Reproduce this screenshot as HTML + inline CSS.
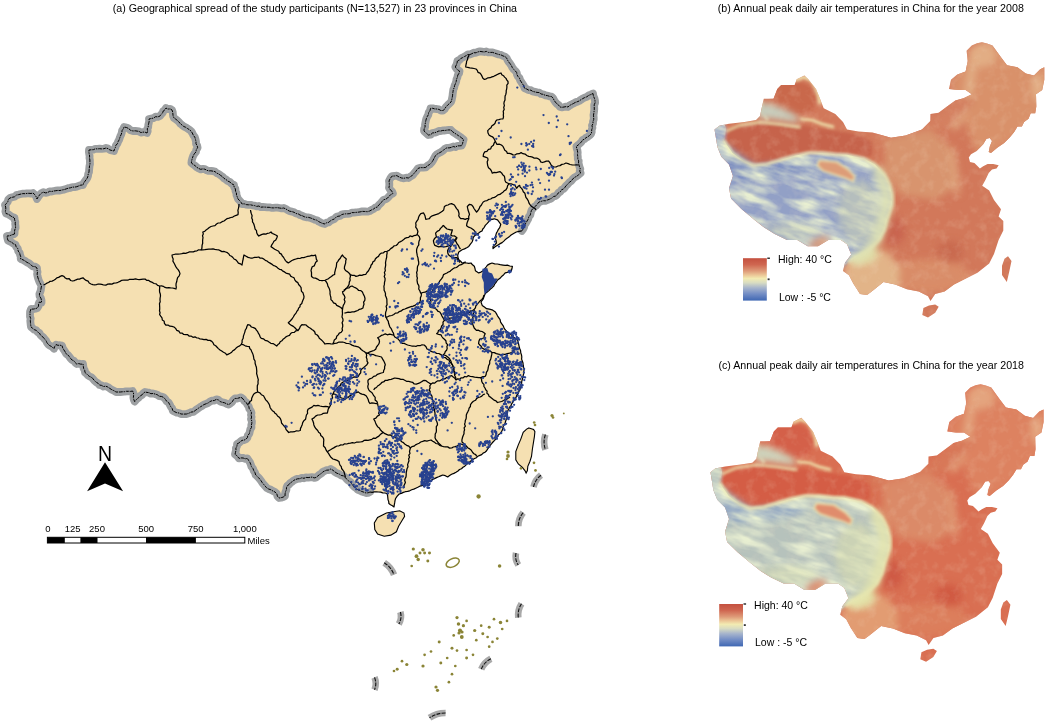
<!DOCTYPE html><html><head><meta charset="utf-8"><style>html,body{margin:0;padding:0;background:#fff;overflow:hidden}svg{display:block;will-change:transform}text{font-family:"Liberation Sans",Arial,sans-serif;fill:#000}</style></head><body>
<svg width="1047" height="724" viewBox="0 0 1047 724">
<defs>
<clipPath id="cb"><polygon points="714.5,129.6 719.3,125.7 729.0,123.8 744.5,121.9 756.0,120.0 760.0,116.0 762.0,106.4 763.8,98.7 773.5,98.7 777.3,89.0 781.2,85.1 794.7,85.1 796.7,79.3 804.4,75.5 808.3,79.3 816.0,89.0 820.0,98.7 823.7,108.3 835.3,114.0 843.0,121.9 847.0,129.6 858.5,131.5 872.4,132.5 891.0,137.7 905.6,135.6 922.0,129.4 930.4,121.0 930.4,113.9 938.7,112.8 947.0,106.6 955.3,100.4 963.5,98.3 971.8,94.2 965.6,90.0 957.3,90.0 949.0,89.0 951.0,79.7 957.3,74.5 965.6,71.4 967.7,61.0 966.6,50.7 971.8,45.5 977.0,43.2 982.0,42.2 987.0,43.5 992.5,45.5 1000.8,57.0 1007.0,65.2 1017.4,67.3 1025.7,73.5 1034.0,75.6 1040.2,69.3 1044.3,67.3 1044.3,79.7 1042.2,90.0 1036.0,94.2 1036.3,106.6 1035.2,113.3 1030.7,113.3 1028.5,118.8 1024.1,122.1 1021.9,126.5 1017.5,126.5 1014.2,132.0 1009.7,137.6 1004.2,143.1 997.6,147.5 991.0,153.0 988.7,152.0 989.8,146.4 992.0,140.9 989.8,138.1 986.5,138.7 983.2,144.2 976.6,150.9 971.0,154.2 968.8,157.5 970.0,161.9 974.4,163.0 977.7,166.3 979.9,168.5 983.2,166.3 987.6,164.1 993.2,164.1 998.7,165.2 996.5,168.5 992.0,169.6 988.7,173.0 985.4,180.0 982.2,185.8 989.2,190.5 994.0,200.0 1001.0,209.3 998.6,216.4 1003.3,221.0 1003.3,230.5 998.6,240.0 994.0,254.0 989.2,263.4 977.5,272.8 963.4,279.8 954.0,284.5 944.6,291.5 935.2,294.0 930.5,301.0 928.0,296.2 918.7,291.5 907.0,289.2 895.2,284.5 883.5,282.0 871.7,291.5 867.0,295.0 860.0,294.0 853.3,283.6 849.0,275.3 843.0,271.0 845.0,262.8 851.2,254.6 847.0,244.2 840.8,240.0 828.4,240.0 818.0,246.3 807.7,246.3 797.3,240.0 787.0,240.0 774.6,233.9 764.2,227.6 753.9,219.4 741.4,209.0 731.0,198.6 729.0,188.3 732.9,176.0 729.0,164.4 721.3,156.7 717.4,147.0 715.5,135.4"/><polygon points="923.4,308.0 929.0,305.5 935.2,304.5 938.7,306.8 935.2,312.7 928.0,317.4 922.3,315.0"/><polygon points="1008.0,256.3 1011.5,261.0 1009.0,272.8 1006.8,282.0 1002.0,275.0 1002.0,265.7 1004.5,258.7"/></clipPath>
<clipPath id="ctib"><polygon points="700.0,110.0 722.0,118.0 726.0,128.0 725.0,138.0 724.0,140.0 725.7,143.2 732.6,153.0 743.7,161.2 753.4,165.3 767.2,164.0 781.0,159.8 794.8,155.7 808.6,152.9 822.4,152.9 835.0,154.3 847.0,154.7 864.0,158.6 875.0,164.5 884.4,174.7 889.4,184.6 892.0,194.6 892.0,204.5 887.0,219.5 884.4,229.4 879.5,239.3 869.5,249.3 858.0,256.0 848.0,262.0 830.0,280.0 700.0,280.0"/></clipPath>
<filter id="tb1" x="-10%" y="-10%" width="120%" height="120%"><feGaussianBlur stdDeviation="1.6"/></filter>
<filter id="tb3" x="-10%" y="-10%" width="120%" height="120%"><feGaussianBlur stdDeviation="3.5"/></filter>
<filter id="tex" x="0" y="0" width="100%" height="100%" filterUnits="userSpaceOnUse"><feTurbulence type="fractalNoise" baseFrequency="0.03 0.1" numOctaves="3" seed="4"/><feGaussianBlur stdDeviation="0.7"/><feColorMatrix type="matrix" values="0 0 0 0 0.81  0 0 0 0 0.86  0 0 0 0 0.64  2.3 0 0 0 -0.85"/></filter>
<filter id="tex2" x="0" y="0" width="100%" height="100%" filterUnits="userSpaceOnUse"><feTurbulence type="fractalNoise" baseFrequency="0.1 0.1" numOctaves="3" seed="9"/><feColorMatrix type="matrix" values="0 0 0 0 0.93  0 0 0 0 0.78  0 0 0 0 0.6  2.0 0 0 0 -0.9"/></filter>
<filter id="bl3" x="-20%" y="-20%" width="140%" height="140%"><feGaussianBlur stdDeviation="3"/></filter>
<filter id="bl2" x="-20%" y="-20%" width="140%" height="140%"><feGaussianBlur stdDeviation="1.5"/></filter>
<filter id="bl6" x="-20%" y="-20%" width="140%" height="140%"><feGaussianBlur stdDeviation="6"/></filter>
<linearGradient id="lg" x1="0" y1="0" x2="0" y2="1"><stop offset="0" stop-color="#c4503f"/><stop offset="0.15" stop-color="#cf6650"/><stop offset="0.3" stop-color="#de9a78"/><stop offset="0.4" stop-color="#ecc898"/><stop offset="0.48" stop-color="#f2ebb2"/><stop offset="0.58" stop-color="#d8dcc2"/><stop offset="0.7" stop-color="#a6b4cc"/><stop offset="0.83" stop-color="#7790c6"/><stop offset="1" stop-color="#3f67b3"/></linearGradient>
</defs>
<path d="M370.0,492.0 L368.1,492.8 L366.0,493.0 L364.0,492.2 L361.8,491.5 L359.9,490.5 L357.8,489.8 L356.3,488.2 L354.4,487.0 L352.8,485.5 L351.6,483.6 L350.3,481.8 L348.3,480.7 L346.7,479.2 L345.3,477.4 L343.5,475.9 L341.1,475.4 L339.2,474.0 L337.0,473.3 L334.9,471.9 L333.0,470.3 L330.8,469.0 L328.9,470.0 L326.6,470.2 L324.6,471.0 L322.7,472.0 L321.3,473.5 L319.5,474.6 L317.8,476.0 L316.3,477.4 L314.2,477.9 L312.2,477.1 L310.1,477.3 L308.1,477.6 L306.0,477.4 L304.0,478.3 L301.8,477.8 L299.8,478.7 L297.6,478.8 L295.6,479.5 L293.7,480.4 L292.1,481.8 L290.3,482.8 L289.0,484.6 L287.3,485.7 L286.5,487.7 L286.4,489.8 L285.5,491.8 L285.1,493.8 L285.0,496.0 L283.1,497.1 L281.1,497.7 L279.0,498.0 L277.4,496.2 L276.8,493.7 L275.0,492.0 L272.9,491.0 L270.9,489.8 L268.6,489.0 L266.6,487.8 L265.2,486.1 L263.7,484.4 L262.3,482.7 L261.1,480.8 L259.8,479.1 L258.3,477.4 L255.7,475.0 L255.0,472.7 L253.8,470.8 L253.0,468.6 L251.5,466.7 L250.8,464.5 L249.9,462.3 L248.6,460.4 L247.4,458.4 L245.3,458.8 L243.2,458.0 L241.1,457.9 L239.0,458.4 L237.3,456.0 L235.0,454.3 L235.5,452.3 L236.0,450.2 L235.9,448.1 L237.0,446.1 L237.0,444.0 L238.8,443.0 L240.3,441.7 L242.0,440.4 L244.1,440.1 L245.9,439.2 L247.4,437.7 L247.8,435.5 L249.3,433.7 L249.8,431.5 L250.3,429.3 L251.5,427.4 L251.3,425.3 L251.8,423.3 L251.9,421.2 L251.0,419.1 L251.6,417.0 L251.0,415.0 L251.5,412.9 L250.7,410.7 L249.3,408.8 L248.8,406.5 L247.4,404.6 L246.2,402.4 L244.2,400.9 L243.0,398.8 L241.0,397.3 L239.0,397.9 L237.1,398.5 L235.0,398.4 L233.3,399.9 L232.2,401.9 L230.5,403.3 L228.7,404.6 L226.6,403.8 L224.6,402.8 L222.4,402.3 L220.2,401.6 L218.5,399.9 L216.3,399.4 L214.3,400.5 L212.0,400.7 L209.9,401.6 L208.1,403.0 L206.0,403.8 L203.9,404.6 L202.2,405.8 L200.3,406.9 L198.6,408.1 L196.9,409.3 L195.2,410.5 L193.5,411.8 L191.0,412.1 L188.8,413.3 L186.5,414.0 L183.8,414.1 L181.0,414.0 L179.0,413.0 L176.8,412.7 L174.8,411.8 L172.8,410.8 L172.2,408.5 L170.7,406.6 L169.7,404.6 L168.6,402.5 L166.6,401.2 L165.3,399.2 L163.7,397.4 L161.6,396.5 L159.2,396.2 L157.2,394.7 L155.0,394.0 L153.0,393.5 L150.9,393.7 L149.0,392.7 L147.0,392.4 L145.0,392.0 L143.3,393.2 L142.1,394.8 L140.3,395.9 L138.9,397.4 L136.6,399.3 L134.7,401.6 L133.8,399.6 L133.4,397.5 L133.6,395.2 L133.5,393.0 L132.6,391.0 L130.5,391.4 L128.5,391.3 L126.4,391.3 L124.3,391.7 L122.2,391.8 L120.2,392.0 L118.1,392.0 L116.0,392.0 L114.0,390.7 L111.8,389.7 L109.8,388.4 L107.8,387.0 L105.8,386.2 L103.5,386.5 L101.6,385.4 L99.5,385.0 L98.1,383.3 L96.1,382.1 L94.4,380.6 L93.0,378.8 L91.6,377.3 L89.6,376.5 L88.0,375.3 L86.6,373.8 L85.0,372.5 L84.7,370.3 L83.6,368.4 L83.3,366.2 L83.0,364.0 L80.9,364.2 L78.8,363.6 L76.7,364.0 L75.2,362.6 L74.0,360.9 L72.0,360.0 L70.6,358.4 L69.4,356.7 L68.1,355.1 L66.3,354.0 L65.2,351.9 L63.9,349.9 L62.7,347.9 L62.0,345.6 L60.0,345.2 L57.9,345.3 L56.0,344.6 L54.7,346.5 L54.0,348.7 L52.1,346.8 L49.7,345.6 L48.1,344.2 L46.9,342.6 L46.1,340.7 L44.7,339.2 L43.5,337.5 L41.8,336.3 L40.4,334.8 L39.4,333.0 L37.6,332.0 L36.2,330.3 L34.2,329.6 L32.6,328.3 L31.0,327.0 L30.7,324.9 L30.5,322.8 L30.3,320.8 L30.7,318.6 L30.0,316.6 L30.0,314.0 L30.1,311.5 L31.0,309.0 L33.2,309.1 L35.3,308.7 L37.3,308.0 L38.5,306.2 L38.6,304.0 L39.4,302.0 L41.5,302.6 L41.5,300.3 L40.9,298.2 L39.6,296.2 L39.4,294.0 L40.2,292.1 L40.8,290.1 L41.1,288.0 L41.5,286.0 L40.6,284.0 L39.5,282.1 L38.7,280.1 L38.0,278.0 L37.5,276.0 L37.1,274.0 L37.5,272.0 L37.0,270.0 L37.0,268.0 L35.2,266.7 L32.8,266.4 L31.0,265.0 L29.2,263.4 L27.0,262.4 L25.1,261.0 L23.0,259.8 L20.7,259.0 L20.8,256.9 L20.1,255.0 L19.7,253.0 L18.2,251.1 L17.8,248.7 L16.2,246.9 L15.5,244.6 L13.5,243.8 L11.8,242.4 L9.9,241.5 L8.0,240.5 L7.4,238.3 L7.0,236.0 L9.6,235.8 L12.0,234.8 L14.5,234.0 L14.6,232.0 L14.7,230.0 L15.6,228.0 L15.5,226.0 L15.2,223.9 L15.3,221.8 L14.6,219.8 L14.5,217.7 L12.2,216.9 L10.3,215.6 L8.3,214.2 L6.0,213.5 L5.4,211.4 L5.8,209.2 L5.7,207.1 L5.0,205.0 L6.5,203.4 L7.8,201.7 L8.3,199.4 L10.0,198.0 L12.2,197.3 L14.5,196.8 L16.4,195.1 L18.7,194.6 L21.0,194.0 L23.0,193.6 L25.0,193.7 L27.0,193.4 L29.0,193.3 L31.0,193.5 L33.0,193.0 L34.8,194.7 L36.1,196.7 L37.0,199.0 L38.2,196.8 L39.7,194.8 L41.5,193.0 L43.5,192.2 L45.7,192.9 L47.7,192.5 L49.6,191.3 L51.8,191.5 L53.8,191.0 L55.8,190.7 L57.9,190.4 L60.0,190.5 L62.0,190.0 L64.1,189.6 L66.2,188.9 L68.2,188.2 L70.4,187.8 L72.4,187.1 L74.6,187.1 L76.8,186.7 L78.8,185.9 L80.8,185.1 L83.0,185.0 L83.7,183.0 L84.9,181.3 L86.1,179.7 L87.3,178.0 L88.0,176.0 L88.2,174.0 L89.0,172.1 L89.1,170.0 L89.3,168.0 L89.5,166.0 L90.0,164.0 L89.9,162.0 L89.9,160.0 L89.5,158.0 L89.6,156.0 L89.2,154.0 L88.9,152.0 L89.0,150.0 L91.1,149.8 L93.3,149.7 L95.3,148.8 L97.5,148.9 L99.6,148.7 L101.8,148.9 L103.9,148.7 L106.0,148.0 L108.0,148.6 L109.8,149.9 L111.9,150.5 L114.0,151.0 L114.5,149.1 L115.5,147.3 L115.9,145.3 L117.4,143.7 L118.0,141.8 L119.0,140.1 L119.7,138.2 L120.3,136.3 L121.2,134.5 L121.8,132.6 L122.1,130.5 L123.3,128.9 L124.0,127.0 L126.5,127.5 L128.7,128.6 L130.6,130.3 L133.0,131.0 L135.1,130.8 L137.1,131.1 L139.1,131.4 L140.9,132.6 L143.0,132.1 L145.1,132.2 L147.0,133.0 L147.7,131.1 L147.2,128.9 L148.2,127.1 L148.3,125.0 L148.8,123.1 L149.2,121.1 L149.0,119.0 L151.2,118.5 L153.5,118.1 L155.5,116.7 L157.9,116.9 L160.0,116.0 L161.2,114.4 L162.6,112.9 L163.3,110.9 L165.0,109.8 L166.0,108.0 L167.8,109.1 L170.2,108.9 L172.0,110.0 L172.7,112.0 L172.9,114.0 L173.1,116.1 L174.0,118.0 L175.8,119.2 L177.4,120.5 L179.0,122.0 L180.3,123.7 L182.0,125.0 L183.6,126.4 L185.7,127.3 L187.5,128.5 L189.3,129.7 L191.0,131.0 L192.3,133.0 L193.3,135.2 L194.8,137.2 L195.5,139.5 L196.0,141.6 L196.0,143.8 L197.2,145.7 L197.6,147.8 L196.3,149.7 L195.9,152.0 L194.3,153.8 L193.2,155.8 L192.4,158.0 L191.7,160.5 L191.4,163.0 L193.2,164.4 L195.1,165.7 L196.8,167.3 L198.7,168.5 L200.7,169.3 L202.8,168.9 L204.9,169.2 L206.8,170.3 L208.8,170.9 L210.9,170.8 L213.0,171.2 L215.0,171.6 L216.7,173.1 L218.8,174.0 L220.6,175.4 L222.5,176.7 L224.0,178.4 L226.0,179.5 L227.7,181.0 L230.0,182.1 L231.8,183.8 L234.0,185.0 L234.1,187.1 L235.4,188.9 L235.5,191.1 L236.4,193.0 L236.5,195.1 L237.3,197.0 L238.0,199.0 L239.5,200.5 L240.9,202.1 L242.0,204.0 L244.2,203.8 L246.2,204.6 L248.3,204.8 L250.5,204.8 L252.5,205.3 L254.6,205.6 L256.7,206.4 L258.9,206.0 L260.8,207.2 L263.0,207.0 L265.1,207.1 L267.1,207.3 L269.2,207.3 L271.2,207.8 L273.3,207.9 L275.4,207.7 L277.4,207.7 L279.5,208.0 L281.5,208.3 L283.6,208.0 L285.7,208.8 L287.6,210.1 L289.6,211.2 L291.9,211.6 L294.1,212.3 L296.0,213.5 L298.2,213.9 L300.1,215.1 L302.2,215.7 L304.2,216.7 L306.3,217.3 L308.6,217.4 L310.7,218.0 L312.7,218.8 L314.7,219.7 L316.9,220.2 L318.7,221.6 L320.7,222.6 L322.8,223.5 L325.0,224.0 L326.7,222.7 L328.9,222.3 L330.5,220.7 L332.4,219.7 L334.4,219.0 L335.9,217.3 L337.8,216.3 L340.0,216.0 L341.7,214.6 L343.7,214.1 L345.7,213.8 L347.8,213.8 L349.9,213.6 L351.8,212.6 L353.9,212.6 L355.9,212.4 L358.0,212.2 L360.0,211.9 L362.4,211.4 L364.9,211.5 L367.3,211.7 L369.7,211.0 L371.6,209.9 L373.6,209.0 L375.3,207.6 L377.4,207.0 L378.8,204.9 L380.7,203.3 L382.2,201.3 L383.7,199.7 L385.8,199.2 L387.6,198.0 L389.0,196.4 L390.7,194.6 L392.9,193.5 L392.0,191.3 L390.2,189.7 L389.0,187.7 L389.3,185.5 L389.3,183.2 L389.0,181.0 L390.3,178.4 L392.0,176.1 L394.4,176.0 L396.8,175.6 L399.1,177.0 L401.6,178.0 L403.9,178.3 L406.1,177.7 L408.4,178.0 L410.5,176.6 L412.6,175.2 L414.2,173.2 L415.6,171.7 L416.8,170.0 L418.0,168.4 L420.5,167.6 L423.2,167.7 L425.8,167.4 L427.6,165.7 L429.8,164.4 L431.6,162.6 L433.0,160.4 L434.2,158.1 L435.4,155.8 L437.1,154.1 L439.3,152.9 L441.3,151.8 L443.2,150.5 L444.9,148.8 L447.0,147.8 L449.1,147.9 L451.2,147.4 L453.2,146.5 L455.4,147.1 L457.4,145.9 L459.5,145.8 L461.6,145.7 L462.5,143.7 L463.0,141.6 L463.6,139.5 L461.8,138.1 L460.1,136.7 L458.2,135.5 L456.3,134.2 L454.4,133.0 L452.5,131.7 L451.0,130.0 L448.9,129.9 L446.9,130.1 L444.9,130.5 L442.8,130.4 L440.8,131.0 L438.8,131.0 L436.8,132.0 L434.7,132.7 L432.4,133.0 L430.7,134.7 L428.4,135.0 L426.2,133.0 L424.0,131.0 L424.1,128.9 L425.1,127.0 L425.0,124.9 L425.4,122.8 L425.8,120.8 L426.3,118.8 L427.2,116.7 L428.3,114.8 L428.7,112.5 L430.0,110.6 L430.5,108.4 L432.7,108.3 L434.7,108.9 L436.8,109.0 L438.9,109.4 L440.9,110.5 L443.0,110.5 L444.8,109.0 L445.9,106.9 L447.6,105.2 L449.3,103.6 L451.0,102.0 L451.7,100.0 L452.1,98.0 L452.5,95.9 L452.7,93.9 L453.0,91.8 L453.3,89.6 L454.2,87.6 L454.6,85.5 L455.5,83.5 L456.2,81.5 L456.5,79.3 L457.4,77.3 L457.8,75.1 L459.1,73.2 L459.5,71.0 L457.0,69.4 L455.3,67.0 L456.3,65.0 L457.1,62.9 L457.4,60.7 L459.4,60.1 L460.8,58.5 L462.6,57.6 L464.4,56.6 L466.1,55.7 L467.8,54.5 L470.0,54.5 L471.9,53.7 L473.8,52.7 L476.0,52.8 L478.0,51.9 L480.0,51.4 L482.1,51.7 L484.2,52.0 L486.3,51.4 L488.4,52.4 L490.5,52.4 L492.6,52.4 L494.7,53.1 L496.7,53.8 L498.8,54.5 L501.0,54.9 L502.9,55.9 L505.0,56.6 L506.7,58.1 L507.6,60.2 L508.8,62.1 L510.2,63.8 L511.4,65.6 L512.4,67.7 L513.8,69.5 L515.4,71.0 L516.7,72.6 L517.0,74.7 L518.0,76.5 L519.5,78.0 L520.0,80.0 L521.3,82.0 L522.6,84.0 L523.9,86.0 L524.6,88.3 L526.7,89.0 L528.6,90.1 L530.9,90.2 L532.7,91.4 L534.9,91.9 L537.0,92.4 L539.2,92.6 L541.1,94.0 L543.2,94.3 L545.2,95.3 L547.4,95.6 L549.4,96.3 L551.6,96.6 L553.1,98.2 L554.1,100.3 L555.4,102.1 L556.9,103.8 L558.7,105.2 L560.0,107.0 L562.0,107.3 L564.0,107.0 L566.0,106.6 L568.0,107.0 L569.6,105.5 L571.4,104.5 L573.3,103.6 L575.1,102.5 L577.1,101.8 L579.1,101.0 L580.8,99.8 L582.6,98.7 L584.6,97.6 L586.8,96.8 L588.7,95.4 L590.9,94.5 L593.0,93.5 L593.4,96.0 L594.4,98.3 L595.0,100.7 L595.1,102.8 L594.2,104.8 L594.2,106.9 L594.3,109.0 L594.1,111.1 L593.8,113.2 L593.5,115.2 L593.7,117.4 L593.7,119.5 L593.0,121.5 L593.0,123.6 L592.0,125.6 L592.4,127.8 L591.7,129.8 L591.7,132.0 L591.0,134.0 L589.5,135.5 L587.9,136.7 L586.0,137.7 L584.5,139.1 L582.6,140.0 L581.4,141.9 L579.8,143.5 L578.2,145.0 L576.4,146.3 L576.7,148.4 L577.4,150.4 L577.7,152.5 L577.5,154.6 L577.8,156.7 L577.8,158.9 L578.7,160.9 L578.5,163.0 L579.0,165.0 L579.5,167.0 L580.3,168.9 L579.7,171.1 L580.6,173.0 L578.7,174.7 L576.7,176.3 L574.4,177.4 L572.7,179.1 L571.3,181.0 L569.3,182.3 L567.8,184.2 L566.0,185.7 L564.8,187.5 L563.4,189.0 L561.4,189.9 L560.3,191.8 L558.4,192.8 L557.2,194.6 L555.7,196.0 L553.4,196.6 L551.6,198.2 L549.6,199.2 L547.4,200.0 L545.4,200.8 L543.1,200.7 L541.1,201.4 L539.0,202.0 L537.6,203.7 L536.3,205.6 L534.4,206.7 L533.0,208.5 L531.5,210.3 L530.8,212.6 L530.3,215.0 L528.8,216.8 L528.2,219.1 L527.0,221.1 L525.9,223.1 L524.5,225.0 L524.1,227.2 L523.1,229.1 L521.8,230.9 L519.0,231.4 L516.3,232.0 L514.5,233.0 L512.8,234.0 L511.1,235.0 L509.6,236.4 L507.7,237.8 L505.7,239.2 L504.1,240.9 L502.1,242.6 L499.7,243.9 L497.5,245.3 L495.1,246.7 L493.0,248.6 L493.0,246.4 L494.8,244.8 L496.4,243.0 L496.1,240.7 L495.3,238.6 L495.6,235.8 L496.4,233.1 L497.5,231.3 L498.4,229.3 L499.7,227.6 L500.8,224.3 L499.2,222.1 L497.5,219.9 L494.2,218.8 L492.0,219.3 L489.8,219.9 L488.6,221.9 L487.0,223.7 L485.3,225.4 L484.3,227.3 L482.8,229.0 L482.0,231.0 L480.1,231.9 L478.5,233.3 L476.5,234.2 L474.7,235.7 L473.2,237.5 L472.9,239.8 L472.1,242.0 L470.4,244.2 L468.8,246.4 L466.7,247.7 L464.5,248.9 L462.1,249.7 L458.8,251.9 L457.7,255.2 L458.0,257.5 L458.8,259.6 L460.6,261.2 L462.1,263.0 L464.4,262.8 L466.6,263.0 L468.8,263.3 L471.0,263.0 L472.5,264.8 L474.3,266.3 L475.0,268.5 L475.4,270.7 L478.7,272.9 L481.0,272.1 L483.1,270.7 L484.6,268.9 L486.1,267.0 L487.5,265.1 L489.7,263.9 L492.0,263.0 L494.7,263.8 L497.5,264.0 L500.2,264.7 L503.0,265.1 L505.2,265.4 L507.4,265.1 L509.8,266.0 L512.4,266.3 L512.0,268.5 L511.3,270.7 L509.3,271.5 L507.3,272.4 L505.2,272.9 L503.7,274.7 L501.9,276.2 L500.0,278.3 L497.6,280.0 L496.3,282.0 L494.8,283.8 L493.8,286.0 L492.1,287.7 L490.4,289.0 L488.9,290.6 L487.2,292.0 L485.5,293.3 L484.2,296.0 L483.3,298.8 L481.0,302.0 L482.2,305.4 L484.4,307.0 L486.6,308.7 L489.4,309.1 L492.1,309.8 L495.4,312.0 L496.5,313.9 L497.5,315.8 L498.7,317.6 L500.1,319.7 L500.6,322.1 L502.0,324.2 L503.4,326.2 L504.3,328.6 L505.6,330.2 L507.1,331.7 L508.7,333.0 L510.7,334.2 L512.2,336.2 L514.2,337.5 L517.5,339.7 L518.1,341.8 L518.6,344.0 L519.1,346.3 L519.7,348.5 L520.6,350.7 L520.8,353.0 L521.5,354.9 L521.8,357.0 L521.6,359.1 L522.3,361.0 L523.0,363.0 L523.2,365.2 L523.6,367.4 L524.4,369.4 L523.7,371.4 L523.7,373.5 L523.2,375.6 L522.7,377.6 L522.3,379.7 L521.7,381.7 L521.6,383.9 L520.8,385.8 L520.3,387.9 L520.0,390.0 L518.8,391.6 L518.3,393.7 L516.7,395.1 L516.2,397.1 L515.1,398.8 L514.0,400.5 L512.9,402.2 L511.7,403.8 L511.0,405.7 L509.6,407.2 L508.8,409.1 L507.8,410.8 L507.5,412.9 L507.1,414.9 L506.8,417.0 L506.4,419.0 L505.7,421.0 L505.1,423.2 L503.9,425.2 L502.9,427.2 L502.6,429.6 L501.6,431.6 L500.4,433.5 L498.5,434.8 L497.3,436.8 L495.9,438.6 L494.6,440.4 L493.0,442.0 L491.6,443.7 L490.2,445.3 L489.0,447.2 L487.7,448.9 L486.6,450.8 L485.0,452.3 L483.1,453.1 L481.7,454.6 L479.8,455.4 L477.9,456.2 L476.5,457.7 L474.6,458.5 L472.8,459.6 L471.1,460.7 L469.6,462.1 L467.8,463.3 L466.3,464.7 L464.8,466.2 L463.0,467.3 L461.5,468.7 L459.5,469.5 L458.0,471.0 L456.0,472.3 L453.9,473.4 L451.6,474.3 L449.6,475.6 L447.7,477.0 L445.3,475.7 L442.7,475.0 L440.7,475.9 L438.6,476.8 L436.5,477.6 L434.5,478.6 L432.4,479.5 L430.7,480.7 L429.0,481.6 L427.3,482.8 L425.5,483.7 L423.6,484.4 L422.0,485.7 L419.8,486.2 L417.8,487.3 L415.8,488.2 L413.8,489.1 L411.7,489.8 L409.7,490.8 L407.6,491.4 L405.4,491.7 L403.3,492.4 L401.3,493.4 L399.2,494.0 L397.2,496.1 L395.6,498.5 L395.0,500.6 L394.7,502.7 L394.3,504.9 L394.0,507.0 L392.4,505.7 L390.5,504.8 L388.9,503.6 L388.7,501.6 L388.0,499.6 L387.8,497.5 L387.6,495.5 L387.0,493.5 L384.9,493.0 L382.7,492.9 L380.7,492.1 L378.5,492.0 L376.4,491.9 L374.2,491.9 L372.1,492.3 Z" fill="#f5e0b2"/>
<polygon points="374.3,523.0 377.6,517.5 382.0,515.2 386.4,513.0 392.0,512.0 399.7,510.8 404.0,513.0 404.6,516.4 401.9,520.8 398.6,526.3 396.4,531.8 390.8,535.1 384.2,536.2 377.6,534.0 374.8,529.6" fill="#f5e0b2" stroke="#000" stroke-width="1.1"/>
<polygon points="529.0,427.9 533.6,429.5 534.9,431.6 534.4,436.6 533.6,441.6 532.4,449.0 531.5,456.5 529.9,461.5 527.8,466.4 527.4,470.6 526.1,473.1 524.9,470.6 522.4,467.3 518.3,464.0 515.8,459.8 515.8,451.5 518.3,444.9 520.8,439.1 523.2,432.4 526.6,429.1" fill="#f5e0b2" stroke="#000" stroke-width="1.1"/>
<polyline points="370.0,492.0 368.1,492.8 366.0,493.0 364.0,492.2 361.8,491.5 359.9,490.5 357.8,489.8 356.3,488.2 354.4,487.0 352.8,485.5 351.6,483.6 350.3,481.8 348.3,480.7 346.7,479.2 345.3,477.4 343.5,475.9 341.1,475.4 339.2,474.0 337.0,473.3 334.9,471.9 333.0,470.3 330.8,469.0 328.9,470.0 326.6,470.2 324.6,471.0 322.7,472.0 321.3,473.5 319.5,474.6 317.8,476.0 316.3,477.4 314.2,477.9 312.2,477.1 310.1,477.3 308.1,477.6 306.0,477.4 304.0,478.3 301.8,477.8 299.8,478.7 297.6,478.8 295.6,479.5 293.7,480.4 292.1,481.8 290.3,482.8 289.0,484.6 287.3,485.7 286.5,487.7 286.4,489.8 285.5,491.8 285.1,493.8 285.0,496.0 283.1,497.1 281.1,497.7 279.0,498.0 277.4,496.2 276.8,493.7 275.0,492.0 272.9,491.0 270.9,489.8 268.6,489.0 266.6,487.8 265.2,486.1 263.7,484.4 262.3,482.7 261.1,480.8 259.8,479.1 258.3,477.4 255.7,475.0 255.0,472.7 253.8,470.8 253.0,468.6 251.5,466.7 250.8,464.5 249.9,462.3 248.6,460.4 247.4,458.4 245.3,458.8 243.2,458.0 241.1,457.9 239.0,458.4 237.3,456.0 235.0,454.3 235.5,452.3 236.0,450.2 235.9,448.1 237.0,446.1 237.0,444.0 238.8,443.0 240.3,441.7 242.0,440.4 244.1,440.1 245.9,439.2 247.4,437.7 247.8,435.5 249.3,433.7 249.8,431.5 250.3,429.3 251.5,427.4 251.3,425.3 251.8,423.3 251.9,421.2 251.0,419.1 251.6,417.0 251.0,415.0 251.5,412.9 250.7,410.7 249.3,408.8 248.8,406.5 247.4,404.6 246.2,402.4 244.2,400.9 243.0,398.8 241.0,397.3 239.0,397.9 237.1,398.5 235.0,398.4 233.3,399.9 232.2,401.9 230.5,403.3 228.7,404.6 226.6,403.8 224.6,402.8 222.4,402.3 220.2,401.6 218.5,399.9 216.3,399.4 214.3,400.5 212.0,400.7 209.9,401.6 208.1,403.0 206.0,403.8 203.9,404.6 202.2,405.8 200.3,406.9 198.6,408.1 196.9,409.3 195.2,410.5 193.5,411.8 191.0,412.1 188.8,413.3 186.5,414.0 183.8,414.1 181.0,414.0 179.0,413.0 176.8,412.7 174.8,411.8 172.8,410.8 172.2,408.5 170.7,406.6 169.7,404.6 168.6,402.5 166.6,401.2 165.3,399.2 163.7,397.4 161.6,396.5 159.2,396.2 157.2,394.7 155.0,394.0 153.0,393.5 150.9,393.7 149.0,392.7 147.0,392.4 145.0,392.0 143.3,393.2 142.1,394.8 140.3,395.9 138.9,397.4 136.6,399.3 134.7,401.6 133.8,399.6 133.4,397.5 133.6,395.2 133.5,393.0 132.6,391.0 130.5,391.4 128.5,391.3 126.4,391.3 124.3,391.7 122.2,391.8 120.2,392.0 118.1,392.0 116.0,392.0 114.0,390.7 111.8,389.7 109.8,388.4 107.8,387.0 105.8,386.2 103.5,386.5 101.6,385.4 99.5,385.0 98.1,383.3 96.1,382.1 94.4,380.6 93.0,378.8 91.6,377.3 89.6,376.5 88.0,375.3 86.6,373.8 85.0,372.5 84.7,370.3 83.6,368.4 83.3,366.2 83.0,364.0 80.9,364.2 78.8,363.6 76.7,364.0 75.2,362.6 74.0,360.9 72.0,360.0 70.6,358.4 69.4,356.7 68.1,355.1 66.3,354.0 65.2,351.9 63.9,349.9 62.7,347.9 62.0,345.6 60.0,345.2 57.9,345.3 56.0,344.6 54.7,346.5 54.0,348.7 52.1,346.8 49.7,345.6 48.1,344.2 46.9,342.6 46.1,340.7 44.7,339.2 43.5,337.5 41.8,336.3 40.4,334.8 39.4,333.0 37.6,332.0 36.2,330.3 34.2,329.6 32.6,328.3 31.0,327.0 30.7,324.9 30.5,322.8 30.3,320.8 30.7,318.6 30.0,316.6 30.0,314.0 30.1,311.5 31.0,309.0 33.2,309.1 35.3,308.7 37.3,308.0 38.5,306.2 38.6,304.0 39.4,302.0 41.5,302.6 41.5,300.3 40.9,298.2 39.6,296.2 39.4,294.0 40.2,292.1 40.8,290.1 41.1,288.0 41.5,286.0 40.6,284.0 39.5,282.1 38.7,280.1 38.0,278.0 37.5,276.0 37.1,274.0 37.5,272.0 37.0,270.0 37.0,268.0 35.2,266.7 32.8,266.4 31.0,265.0 29.2,263.4 27.0,262.4 25.1,261.0 23.0,259.8 20.7,259.0 20.8,256.9 20.1,255.0 19.7,253.0 18.2,251.1 17.8,248.7 16.2,246.9 15.5,244.6 13.5,243.8 11.8,242.4 9.9,241.5 8.0,240.5 7.4,238.3 7.0,236.0 9.6,235.8 12.0,234.8 14.5,234.0 14.6,232.0 14.7,230.0 15.6,228.0 15.5,226.0 15.2,223.9 15.3,221.8 14.6,219.8 14.5,217.7 12.2,216.9 10.3,215.6 8.3,214.2 6.0,213.5 5.4,211.4 5.8,209.2 5.7,207.1 5.0,205.0 6.5,203.4 7.8,201.7 8.3,199.4 10.0,198.0 12.2,197.3 14.5,196.8 16.4,195.1 18.7,194.6 21.0,194.0 23.0,193.6 25.0,193.7 27.0,193.4 29.0,193.3 31.0,193.5 33.0,193.0 34.8,194.7 36.1,196.7 37.0,199.0 38.2,196.8 39.7,194.8 41.5,193.0 43.5,192.2 45.7,192.9 47.7,192.5 49.6,191.3 51.8,191.5 53.8,191.0 55.8,190.7 57.9,190.4 60.0,190.5 62.0,190.0 64.1,189.6 66.2,188.9 68.2,188.2 70.4,187.8 72.4,187.1 74.6,187.1 76.8,186.7 78.8,185.9 80.8,185.1 83.0,185.0 83.7,183.0 84.9,181.3 86.1,179.7 87.3,178.0 88.0,176.0 88.2,174.0 89.0,172.1 89.1,170.0 89.3,168.0 89.5,166.0 90.0,164.0 89.9,162.0 89.9,160.0 89.5,158.0 89.6,156.0 89.2,154.0 88.9,152.0 89.0,150.0 91.1,149.8 93.3,149.7 95.3,148.8 97.5,148.9 99.6,148.7 101.8,148.9 103.9,148.7 106.0,148.0 108.0,148.6 109.8,149.9 111.9,150.5 114.0,151.0 114.5,149.1 115.5,147.3 115.9,145.3 117.4,143.7 118.0,141.8 119.0,140.1 119.7,138.2 120.3,136.3 121.2,134.5 121.8,132.6 122.1,130.5 123.3,128.9 124.0,127.0 126.5,127.5 128.7,128.6 130.6,130.3 133.0,131.0 135.1,130.8 137.1,131.1 139.1,131.4 140.9,132.6 143.0,132.1 145.1,132.2 147.0,133.0 147.7,131.1 147.2,128.9 148.2,127.1 148.3,125.0 148.8,123.1 149.2,121.1 149.0,119.0 151.2,118.5 153.5,118.1 155.5,116.7 157.9,116.9 160.0,116.0 161.2,114.4 162.6,112.9 163.3,110.9 165.0,109.8 166.0,108.0 167.8,109.1 170.2,108.9 172.0,110.0 172.7,112.0 172.9,114.0 173.1,116.1 174.0,118.0 175.8,119.2 177.4,120.5 179.0,122.0 180.3,123.7 182.0,125.0 183.6,126.4 185.7,127.3 187.5,128.5 189.3,129.7 191.0,131.0 192.3,133.0 193.3,135.2 194.8,137.2 195.5,139.5 196.0,141.6 196.0,143.8 197.2,145.7 197.6,147.8 196.3,149.7 195.9,152.0 194.3,153.8 193.2,155.8 192.4,158.0 191.7,160.5 191.4,163.0 193.2,164.4 195.1,165.7 196.8,167.3 198.7,168.5 200.7,169.3 202.8,168.9 204.9,169.2 206.8,170.3 208.8,170.9 210.9,170.8 213.0,171.2 215.0,171.6 216.7,173.1 218.8,174.0 220.6,175.4 222.5,176.7 224.0,178.4 226.0,179.5 227.7,181.0 230.0,182.1 231.8,183.8 234.0,185.0 234.1,187.1 235.4,188.9 235.5,191.1 236.4,193.0 236.5,195.1 237.3,197.0 238.0,199.0 239.5,200.5 240.9,202.1 242.0,204.0 244.2,203.8 246.2,204.6 248.3,204.8 250.5,204.8 252.5,205.3 254.6,205.6 256.7,206.4 258.9,206.0 260.8,207.2 263.0,207.0 265.1,207.1 267.1,207.3 269.2,207.3 271.2,207.8 273.3,207.9 275.4,207.7 277.4,207.7 279.5,208.0 281.5,208.3 283.6,208.0 285.7,208.8 287.6,210.1 289.6,211.2 291.9,211.6 294.1,212.3 296.0,213.5 298.2,213.9 300.1,215.1 302.2,215.7 304.2,216.7 306.3,217.3 308.6,217.4 310.7,218.0 312.7,218.8 314.7,219.7 316.9,220.2 318.7,221.6 320.7,222.6 322.8,223.5 325.0,224.0 326.7,222.7 328.9,222.3 330.5,220.7 332.4,219.7 334.4,219.0 335.9,217.3 337.8,216.3 340.0,216.0 341.7,214.6 343.7,214.1 345.7,213.8 347.8,213.8 349.9,213.6 351.8,212.6 353.9,212.6 355.9,212.4 358.0,212.2 360.0,211.9 362.4,211.4 364.9,211.5 367.3,211.7 369.7,211.0 371.6,209.9 373.6,209.0 375.3,207.6 377.4,207.0 378.8,204.9 380.7,203.3 382.2,201.3 383.7,199.7 385.8,199.2 387.6,198.0 389.0,196.4 390.7,194.6 392.9,193.5 392.0,191.3 390.2,189.7 389.0,187.7 389.3,185.5 389.3,183.2 389.0,181.0 390.3,178.4 392.0,176.1 394.4,176.0 396.8,175.6 399.1,177.0 401.6,178.0 403.9,178.3 406.1,177.7 408.4,178.0 410.5,176.6 412.6,175.2 414.2,173.2 415.6,171.7 416.8,170.0 418.0,168.4 420.5,167.6 423.2,167.7 425.8,167.4 427.6,165.7 429.8,164.4 431.6,162.6 433.0,160.4 434.2,158.1 435.4,155.8 437.1,154.1 439.3,152.9 441.3,151.8 443.2,150.5 444.9,148.8 447.0,147.8 449.1,147.9 451.2,147.4 453.2,146.5 455.4,147.1 457.4,145.9 459.5,145.8 461.6,145.7 462.5,143.7 463.0,141.6 463.6,139.5 461.8,138.1 460.1,136.7 458.2,135.5 456.3,134.2 454.4,133.0 452.5,131.7 451.0,130.0 448.9,129.9 446.9,130.1 444.9,130.5 442.8,130.4 440.8,131.0 438.8,131.0 436.8,132.0 434.7,132.7 432.4,133.0 430.7,134.7 428.4,135.0 426.2,133.0 424.0,131.0 424.1,128.9 425.1,127.0 425.0,124.9 425.4,122.8 425.8,120.8 426.3,118.8 427.2,116.7 428.3,114.8 428.7,112.5 430.0,110.6 430.5,108.4 432.7,108.3 434.7,108.9 436.8,109.0 438.9,109.4 440.9,110.5 443.0,110.5 444.8,109.0 445.9,106.9 447.6,105.2 449.3,103.6 451.0,102.0 451.7,100.0 452.1,98.0 452.5,95.9 452.7,93.9 453.0,91.8 453.3,89.6 454.2,87.6 454.6,85.5 455.5,83.5 456.2,81.5 456.5,79.3 457.4,77.3 457.8,75.1 459.1,73.2 459.5,71.0 457.0,69.4 455.3,67.0 456.3,65.0 457.1,62.9 457.4,60.7 459.4,60.1 460.8,58.5 462.6,57.6 464.4,56.6 466.1,55.7 467.8,54.5 470.0,54.5 471.9,53.7 473.8,52.7 476.0,52.8 478.0,51.9 480.0,51.4 482.1,51.7 484.2,52.0 486.3,51.4 488.4,52.4 490.5,52.4 492.6,52.4 494.7,53.1 496.7,53.8 498.8,54.5 501.0,54.9 502.9,55.9 505.0,56.6 506.7,58.1 507.6,60.2 508.8,62.1 510.2,63.8 511.4,65.6 512.4,67.7 513.8,69.5 515.4,71.0 516.7,72.6 517.0,74.7 518.0,76.5 519.5,78.0 520.0,80.0 521.3,82.0 522.6,84.0 523.9,86.0 524.6,88.3 526.7,89.0 528.6,90.1 530.9,90.2 532.7,91.4 534.9,91.9 537.0,92.4 539.2,92.6 541.1,94.0 543.2,94.3 545.2,95.3 547.4,95.6 549.4,96.3 551.6,96.6 553.1,98.2 554.1,100.3 555.4,102.1 556.9,103.8 558.7,105.2 560.0,107.0 562.0,107.3 564.0,107.0 566.0,106.6 568.0,107.0 569.6,105.5 571.4,104.5 573.3,103.6 575.1,102.5 577.1,101.8 579.1,101.0 580.8,99.8 582.6,98.7 584.6,97.6 586.8,96.8 588.7,95.4 590.9,94.5 593.0,93.5 593.4,96.0 594.4,98.3 595.0,100.7 595.1,102.8 594.2,104.8 594.2,106.9 594.3,109.0 594.1,111.1 593.8,113.2 593.5,115.2 593.7,117.4 593.7,119.5 593.0,121.5 593.0,123.6 592.0,125.6 592.4,127.8 591.7,129.8 591.7,132.0 591.0,134.0 589.5,135.5 587.9,136.7 586.0,137.7 584.5,139.1 582.6,140.0 581.4,141.9 579.8,143.5 578.2,145.0 576.4,146.3 576.7,148.4 577.4,150.4 577.7,152.5 577.5,154.6 577.8,156.7 577.8,158.9 578.7,160.9 578.5,163.0 579.0,165.0 579.5,167.0 580.3,168.9 579.7,171.1 580.6,173.0 578.7,174.7 576.7,176.3 574.4,177.4 572.7,179.1 571.3,181.0 569.3,182.3 567.8,184.2 566.0,185.7 564.8,187.5 563.4,189.0 561.4,189.9 560.3,191.8 558.4,192.8 557.2,194.6 555.7,196.0 553.4,196.6 551.6,198.2 549.6,199.2 547.4,200.0 545.4,200.8 543.1,200.7 541.1,201.4 539.0,202.0 537.6,203.7 536.3,205.6 534.4,206.7 533.0,208.5 531.5,210.3 530.8,212.6 530.3,215.0 528.8,216.8 528.2,219.1 527.0,221.1 525.9,223.1 524.5,225.0 524.1,227.2 523.1,229.1 521.8,230.9" fill="none" stroke="#9da0a2" stroke-width="7.8" stroke-linejoin="round" stroke-linecap="round"/>
<polyline points="370.0,492.0 368.1,492.8 366.0,493.0 364.0,492.2 361.8,491.5 359.9,490.5 357.8,489.8 356.3,488.2 354.4,487.0 352.8,485.5 351.6,483.6 350.3,481.8 348.3,480.7 346.7,479.2 345.3,477.4 343.5,475.9 341.1,475.4 339.2,474.0 337.0,473.3 334.9,471.9 333.0,470.3 330.8,469.0 328.9,470.0 326.6,470.2 324.6,471.0 322.7,472.0 321.3,473.5 319.5,474.6 317.8,476.0 316.3,477.4 314.2,477.9 312.2,477.1 310.1,477.3 308.1,477.6 306.0,477.4 304.0,478.3 301.8,477.8 299.8,478.7 297.6,478.8 295.6,479.5 293.7,480.4 292.1,481.8 290.3,482.8 289.0,484.6 287.3,485.7 286.5,487.7 286.4,489.8 285.5,491.8 285.1,493.8 285.0,496.0 283.1,497.1 281.1,497.7 279.0,498.0 277.4,496.2 276.8,493.7 275.0,492.0 272.9,491.0 270.9,489.8 268.6,489.0 266.6,487.8 265.2,486.1 263.7,484.4 262.3,482.7 261.1,480.8 259.8,479.1 258.3,477.4 255.7,475.0 255.0,472.7 253.8,470.8 253.0,468.6 251.5,466.7 250.8,464.5 249.9,462.3 248.6,460.4 247.4,458.4 245.3,458.8 243.2,458.0 241.1,457.9 239.0,458.4 237.3,456.0 235.0,454.3 235.5,452.3 236.0,450.2 235.9,448.1 237.0,446.1 237.0,444.0 238.8,443.0 240.3,441.7 242.0,440.4 244.1,440.1 245.9,439.2 247.4,437.7 247.8,435.5 249.3,433.7 249.8,431.5 250.3,429.3 251.5,427.4 251.3,425.3 251.8,423.3 251.9,421.2 251.0,419.1 251.6,417.0 251.0,415.0 251.5,412.9 250.7,410.7 249.3,408.8 248.8,406.5 247.4,404.6 246.2,402.4 244.2,400.9 243.0,398.8 241.0,397.3 239.0,397.9 237.1,398.5 235.0,398.4 233.3,399.9 232.2,401.9 230.5,403.3 228.7,404.6 226.6,403.8 224.6,402.8 222.4,402.3 220.2,401.6 218.5,399.9 216.3,399.4 214.3,400.5 212.0,400.7 209.9,401.6 208.1,403.0 206.0,403.8 203.9,404.6 202.2,405.8 200.3,406.9 198.6,408.1 196.9,409.3 195.2,410.5 193.5,411.8 191.0,412.1 188.8,413.3 186.5,414.0 183.8,414.1 181.0,414.0 179.0,413.0 176.8,412.7 174.8,411.8 172.8,410.8 172.2,408.5 170.7,406.6 169.7,404.6 168.6,402.5 166.6,401.2 165.3,399.2 163.7,397.4 161.6,396.5 159.2,396.2 157.2,394.7 155.0,394.0 153.0,393.5 150.9,393.7 149.0,392.7 147.0,392.4 145.0,392.0 143.3,393.2 142.1,394.8 140.3,395.9 138.9,397.4 136.6,399.3 134.7,401.6 133.8,399.6 133.4,397.5 133.6,395.2 133.5,393.0 132.6,391.0 130.5,391.4 128.5,391.3 126.4,391.3 124.3,391.7 122.2,391.8 120.2,392.0 118.1,392.0 116.0,392.0 114.0,390.7 111.8,389.7 109.8,388.4 107.8,387.0 105.8,386.2 103.5,386.5 101.6,385.4 99.5,385.0 98.1,383.3 96.1,382.1 94.4,380.6 93.0,378.8 91.6,377.3 89.6,376.5 88.0,375.3 86.6,373.8 85.0,372.5 84.7,370.3 83.6,368.4 83.3,366.2 83.0,364.0 80.9,364.2 78.8,363.6 76.7,364.0 75.2,362.6 74.0,360.9 72.0,360.0 70.6,358.4 69.4,356.7 68.1,355.1 66.3,354.0 65.2,351.9 63.9,349.9 62.7,347.9 62.0,345.6 60.0,345.2 57.9,345.3 56.0,344.6 54.7,346.5 54.0,348.7 52.1,346.8 49.7,345.6 48.1,344.2 46.9,342.6 46.1,340.7 44.7,339.2 43.5,337.5 41.8,336.3 40.4,334.8 39.4,333.0 37.6,332.0 36.2,330.3 34.2,329.6 32.6,328.3 31.0,327.0 30.7,324.9 30.5,322.8 30.3,320.8 30.7,318.6 30.0,316.6 30.0,314.0 30.1,311.5 31.0,309.0 33.2,309.1 35.3,308.7 37.3,308.0 38.5,306.2 38.6,304.0 39.4,302.0 41.5,302.6 41.5,300.3 40.9,298.2 39.6,296.2 39.4,294.0 40.2,292.1 40.8,290.1 41.1,288.0 41.5,286.0 40.6,284.0 39.5,282.1 38.7,280.1 38.0,278.0 37.5,276.0 37.1,274.0 37.5,272.0 37.0,270.0 37.0,268.0 35.2,266.7 32.8,266.4 31.0,265.0 29.2,263.4 27.0,262.4 25.1,261.0 23.0,259.8 20.7,259.0 20.8,256.9 20.1,255.0 19.7,253.0 18.2,251.1 17.8,248.7 16.2,246.9 15.5,244.6 13.5,243.8 11.8,242.4 9.9,241.5 8.0,240.5 7.4,238.3 7.0,236.0 9.6,235.8 12.0,234.8 14.5,234.0 14.6,232.0 14.7,230.0 15.6,228.0 15.5,226.0 15.2,223.9 15.3,221.8 14.6,219.8 14.5,217.7 12.2,216.9 10.3,215.6 8.3,214.2 6.0,213.5 5.4,211.4 5.8,209.2 5.7,207.1 5.0,205.0 6.5,203.4 7.8,201.7 8.3,199.4 10.0,198.0 12.2,197.3 14.5,196.8 16.4,195.1 18.7,194.6 21.0,194.0 23.0,193.6 25.0,193.7 27.0,193.4 29.0,193.3 31.0,193.5 33.0,193.0 34.8,194.7 36.1,196.7 37.0,199.0 38.2,196.8 39.7,194.8 41.5,193.0 43.5,192.2 45.7,192.9 47.7,192.5 49.6,191.3 51.8,191.5 53.8,191.0 55.8,190.7 57.9,190.4 60.0,190.5 62.0,190.0 64.1,189.6 66.2,188.9 68.2,188.2 70.4,187.8 72.4,187.1 74.6,187.1 76.8,186.7 78.8,185.9 80.8,185.1 83.0,185.0 83.7,183.0 84.9,181.3 86.1,179.7 87.3,178.0 88.0,176.0 88.2,174.0 89.0,172.1 89.1,170.0 89.3,168.0 89.5,166.0 90.0,164.0 89.9,162.0 89.9,160.0 89.5,158.0 89.6,156.0 89.2,154.0 88.9,152.0 89.0,150.0 91.1,149.8 93.3,149.7 95.3,148.8 97.5,148.9 99.6,148.7 101.8,148.9 103.9,148.7 106.0,148.0 108.0,148.6 109.8,149.9 111.9,150.5 114.0,151.0 114.5,149.1 115.5,147.3 115.9,145.3 117.4,143.7 118.0,141.8 119.0,140.1 119.7,138.2 120.3,136.3 121.2,134.5 121.8,132.6 122.1,130.5 123.3,128.9 124.0,127.0 126.5,127.5 128.7,128.6 130.6,130.3 133.0,131.0 135.1,130.8 137.1,131.1 139.1,131.4 140.9,132.6 143.0,132.1 145.1,132.2 147.0,133.0 147.7,131.1 147.2,128.9 148.2,127.1 148.3,125.0 148.8,123.1 149.2,121.1 149.0,119.0 151.2,118.5 153.5,118.1 155.5,116.7 157.9,116.9 160.0,116.0 161.2,114.4 162.6,112.9 163.3,110.9 165.0,109.8 166.0,108.0 167.8,109.1 170.2,108.9 172.0,110.0 172.7,112.0 172.9,114.0 173.1,116.1 174.0,118.0 175.8,119.2 177.4,120.5 179.0,122.0 180.3,123.7 182.0,125.0 183.6,126.4 185.7,127.3 187.5,128.5 189.3,129.7 191.0,131.0 192.3,133.0 193.3,135.2 194.8,137.2 195.5,139.5 196.0,141.6 196.0,143.8 197.2,145.7 197.6,147.8 196.3,149.7 195.9,152.0 194.3,153.8 193.2,155.8 192.4,158.0 191.7,160.5 191.4,163.0 193.2,164.4 195.1,165.7 196.8,167.3 198.7,168.5 200.7,169.3 202.8,168.9 204.9,169.2 206.8,170.3 208.8,170.9 210.9,170.8 213.0,171.2 215.0,171.6 216.7,173.1 218.8,174.0 220.6,175.4 222.5,176.7 224.0,178.4 226.0,179.5 227.7,181.0 230.0,182.1 231.8,183.8 234.0,185.0 234.1,187.1 235.4,188.9 235.5,191.1 236.4,193.0 236.5,195.1 237.3,197.0 238.0,199.0 239.5,200.5 240.9,202.1 242.0,204.0 244.2,203.8 246.2,204.6 248.3,204.8 250.5,204.8 252.5,205.3 254.6,205.6 256.7,206.4 258.9,206.0 260.8,207.2 263.0,207.0 265.1,207.1 267.1,207.3 269.2,207.3 271.2,207.8 273.3,207.9 275.4,207.7 277.4,207.7 279.5,208.0 281.5,208.3 283.6,208.0 285.7,208.8 287.6,210.1 289.6,211.2 291.9,211.6 294.1,212.3 296.0,213.5 298.2,213.9 300.1,215.1 302.2,215.7 304.2,216.7 306.3,217.3 308.6,217.4 310.7,218.0 312.7,218.8 314.7,219.7 316.9,220.2 318.7,221.6 320.7,222.6 322.8,223.5 325.0,224.0 326.7,222.7 328.9,222.3 330.5,220.7 332.4,219.7 334.4,219.0 335.9,217.3 337.8,216.3 340.0,216.0 341.7,214.6 343.7,214.1 345.7,213.8 347.8,213.8 349.9,213.6 351.8,212.6 353.9,212.6 355.9,212.4 358.0,212.2 360.0,211.9 362.4,211.4 364.9,211.5 367.3,211.7 369.7,211.0 371.6,209.9 373.6,209.0 375.3,207.6 377.4,207.0 378.8,204.9 380.7,203.3 382.2,201.3 383.7,199.7 385.8,199.2 387.6,198.0 389.0,196.4 390.7,194.6 392.9,193.5 392.0,191.3 390.2,189.7 389.0,187.7 389.3,185.5 389.3,183.2 389.0,181.0 390.3,178.4 392.0,176.1 394.4,176.0 396.8,175.6 399.1,177.0 401.6,178.0 403.9,178.3 406.1,177.7 408.4,178.0 410.5,176.6 412.6,175.2 414.2,173.2 415.6,171.7 416.8,170.0 418.0,168.4 420.5,167.6 423.2,167.7 425.8,167.4 427.6,165.7 429.8,164.4 431.6,162.6 433.0,160.4 434.2,158.1 435.4,155.8 437.1,154.1 439.3,152.9 441.3,151.8 443.2,150.5 444.9,148.8 447.0,147.8 449.1,147.9 451.2,147.4 453.2,146.5 455.4,147.1 457.4,145.9 459.5,145.8 461.6,145.7 462.5,143.7 463.0,141.6 463.6,139.5 461.8,138.1 460.1,136.7 458.2,135.5 456.3,134.2 454.4,133.0 452.5,131.7 451.0,130.0 448.9,129.9 446.9,130.1 444.9,130.5 442.8,130.4 440.8,131.0 438.8,131.0 436.8,132.0 434.7,132.7 432.4,133.0 430.7,134.7 428.4,135.0 426.2,133.0 424.0,131.0 424.1,128.9 425.1,127.0 425.0,124.9 425.4,122.8 425.8,120.8 426.3,118.8 427.2,116.7 428.3,114.8 428.7,112.5 430.0,110.6 430.5,108.4 432.7,108.3 434.7,108.9 436.8,109.0 438.9,109.4 440.9,110.5 443.0,110.5 444.8,109.0 445.9,106.9 447.6,105.2 449.3,103.6 451.0,102.0 451.7,100.0 452.1,98.0 452.5,95.9 452.7,93.9 453.0,91.8 453.3,89.6 454.2,87.6 454.6,85.5 455.5,83.5 456.2,81.5 456.5,79.3 457.4,77.3 457.8,75.1 459.1,73.2 459.5,71.0 457.0,69.4 455.3,67.0 456.3,65.0 457.1,62.9 457.4,60.7 459.4,60.1 460.8,58.5 462.6,57.6 464.4,56.6 466.1,55.7 467.8,54.5 470.0,54.5 471.9,53.7 473.8,52.7 476.0,52.8 478.0,51.9 480.0,51.4 482.1,51.7 484.2,52.0 486.3,51.4 488.4,52.4 490.5,52.4 492.6,52.4 494.7,53.1 496.7,53.8 498.8,54.5 501.0,54.9 502.9,55.9 505.0,56.6 506.7,58.1 507.6,60.2 508.8,62.1 510.2,63.8 511.4,65.6 512.4,67.7 513.8,69.5 515.4,71.0 516.7,72.6 517.0,74.7 518.0,76.5 519.5,78.0 520.0,80.0 521.3,82.0 522.6,84.0 523.9,86.0 524.6,88.3 526.7,89.0 528.6,90.1 530.9,90.2 532.7,91.4 534.9,91.9 537.0,92.4 539.2,92.6 541.1,94.0 543.2,94.3 545.2,95.3 547.4,95.6 549.4,96.3 551.6,96.6 553.1,98.2 554.1,100.3 555.4,102.1 556.9,103.8 558.7,105.2 560.0,107.0 562.0,107.3 564.0,107.0 566.0,106.6 568.0,107.0 569.6,105.5 571.4,104.5 573.3,103.6 575.1,102.5 577.1,101.8 579.1,101.0 580.8,99.8 582.6,98.7 584.6,97.6 586.8,96.8 588.7,95.4 590.9,94.5 593.0,93.5 593.4,96.0 594.4,98.3 595.0,100.7 595.1,102.8 594.2,104.8 594.2,106.9 594.3,109.0 594.1,111.1 593.8,113.2 593.5,115.2 593.7,117.4 593.7,119.5 593.0,121.5 593.0,123.6 592.0,125.6 592.4,127.8 591.7,129.8 591.7,132.0 591.0,134.0 589.5,135.5 587.9,136.7 586.0,137.7 584.5,139.1 582.6,140.0 581.4,141.9 579.8,143.5 578.2,145.0 576.4,146.3 576.7,148.4 577.4,150.4 577.7,152.5 577.5,154.6 577.8,156.7 577.8,158.9 578.7,160.9 578.5,163.0 579.0,165.0 579.5,167.0 580.3,168.9 579.7,171.1 580.6,173.0 578.7,174.7 576.7,176.3 574.4,177.4 572.7,179.1 571.3,181.0 569.3,182.3 567.8,184.2 566.0,185.7 564.8,187.5 563.4,189.0 561.4,189.9 560.3,191.8 558.4,192.8 557.2,194.6 555.7,196.0 553.4,196.6 551.6,198.2 549.6,199.2 547.4,200.0 545.4,200.8 543.1,200.7 541.1,201.4 539.0,202.0 537.6,203.7 536.3,205.6 534.4,206.7 533.0,208.5 531.5,210.3 530.8,212.6 530.3,215.0 528.8,216.8 528.2,219.1 527.0,221.1 525.9,223.1 524.5,225.0 524.1,227.2 523.1,229.1 521.8,230.9" fill="none" stroke="#000" stroke-width="1" stroke-dasharray="3 0.8 1.5 0.8 4 0.8" stroke-linejoin="round"/>
<polyline points="521.8,230.9 519.0,231.4 516.3,232.0 514.5,233.0 512.8,234.0 511.1,235.0 509.6,236.4 507.7,237.8 505.7,239.2 504.1,240.9 502.1,242.6 499.7,243.9 497.5,245.3 495.1,246.7 493.0,248.6 493.0,246.4 494.8,244.8 496.4,243.0 496.1,240.7 495.3,238.6 495.6,235.8 496.4,233.1 497.5,231.3 498.4,229.3 499.7,227.6 500.8,224.3 499.2,222.1 497.5,219.9 494.2,218.8 492.0,219.3 489.8,219.9 488.6,221.9 487.0,223.7 485.3,225.4 484.3,227.3 482.8,229.0 482.0,231.0 480.1,231.9 478.5,233.3 476.5,234.2 474.7,235.7 473.2,237.5 472.9,239.8 472.1,242.0 470.4,244.2 468.8,246.4 466.7,247.7 464.5,248.9 462.1,249.7 458.8,251.9 457.7,255.2 458.0,257.5 458.8,259.6 460.6,261.2 462.1,263.0 464.4,262.8 466.6,263.0 468.8,263.3 471.0,263.0 472.5,264.8 474.3,266.3 475.0,268.5 475.4,270.7 478.7,272.9 481.0,272.1 483.1,270.7 484.6,268.9 486.1,267.0 487.5,265.1 489.7,263.9 492.0,263.0 494.7,263.8 497.5,264.0 500.2,264.7 503.0,265.1 505.2,265.4 507.4,265.1 509.8,266.0 512.4,266.3 512.0,268.5 511.3,270.7 509.3,271.5 507.3,272.4 505.2,272.9 503.7,274.7 501.9,276.2 500.0,278.3 497.6,280.0 496.3,282.0 494.8,283.8 493.8,286.0 492.1,287.7 490.4,289.0 488.9,290.6 487.2,292.0 485.5,293.3 484.2,296.0 483.3,298.8 481.0,302.0 482.2,305.4 484.4,307.0 486.6,308.7 489.4,309.1 492.1,309.8 495.4,312.0 496.5,313.9 497.5,315.8 498.7,317.6 500.1,319.7 500.6,322.1 502.0,324.2 503.4,326.2 504.3,328.6 505.6,330.2 507.1,331.7 508.7,333.0 510.7,334.2 512.2,336.2 514.2,337.5 517.5,339.7 518.1,341.8 518.6,344.0 519.1,346.3 519.7,348.5 520.6,350.7 520.8,353.0 521.5,354.9 521.8,357.0 521.6,359.1 522.3,361.0 523.0,363.0 523.2,365.2 523.6,367.4 524.4,369.4 523.7,371.4 523.7,373.5 523.2,375.6 522.7,377.6 522.3,379.7 521.7,381.7 521.6,383.9 520.8,385.8 520.3,387.9 520.0,390.0 518.8,391.6 518.3,393.7 516.7,395.1 516.2,397.1 515.1,398.8 514.0,400.5 512.9,402.2 511.7,403.8 511.0,405.7 509.6,407.2 508.8,409.1 507.8,410.8 507.5,412.9 507.1,414.9 506.8,417.0 506.4,419.0 505.7,421.0 505.1,423.2 503.9,425.2 502.9,427.2 502.6,429.6 501.6,431.6 500.4,433.5 498.5,434.8 497.3,436.8 495.9,438.6 494.6,440.4 493.0,442.0 491.6,443.7 490.2,445.3 489.0,447.2 487.7,448.9 486.6,450.8 485.0,452.3 483.1,453.1 481.7,454.6 479.8,455.4 477.9,456.2 476.5,457.7 474.6,458.5 472.8,459.6 471.1,460.7 469.6,462.1 467.8,463.3 466.3,464.7 464.8,466.2 463.0,467.3 461.5,468.7 459.5,469.5 458.0,471.0 456.0,472.3 453.9,473.4 451.6,474.3 449.6,475.6 447.7,477.0 445.3,475.7 442.7,475.0 440.7,475.9 438.6,476.8 436.5,477.6 434.5,478.6 432.4,479.5 430.7,480.7 429.0,481.6 427.3,482.8 425.5,483.7 423.6,484.4 422.0,485.7 419.8,486.2 417.8,487.3 415.8,488.2 413.8,489.1 411.7,489.8 409.7,490.8 407.6,491.4 405.4,491.7 403.3,492.4 401.3,493.4 399.2,494.0 397.2,496.1 395.6,498.5 395.0,500.6 394.7,502.7 394.3,504.9 394.0,507.0 392.4,505.7 390.5,504.8 388.9,503.6 388.7,501.6 388.0,499.6 387.8,497.5 387.6,495.5 387.0,493.5 384.9,493.0 382.7,492.9 380.7,492.1 378.5,492.0 376.4,491.9 374.2,491.9 372.1,492.3 370.0,492.0" fill="none" stroke="#000" stroke-width="1.2" stroke-linejoin="round"/>
<polyline points="43.5,285.0 45.2,284.2 46.8,283.2 48.6,282.5 50.1,281.3 52.1,281.1 53.8,280.3 55.4,279.2 56.8,277.9 58.6,277.4 60.2,276.4 62.0,275.7 63.9,276.3 65.3,278.0 67.0,278.9 69.2,278.7 70.6,280.5 72.5,281.0 74.3,280.6 76.0,279.8 77.7,279.2 79.6,279.1 81.2,278.3 83.0,277.8 84.5,279.2 86.1,280.4 88.1,281.2 89.2,283.0 91.0,284.0 92.8,284.7 94.6,284.8 96.4,284.6 98.2,284.0 100.0,284.1 101.8,284.4 103.6,285.0 105.8,285.2 107.7,284.1 109.8,283.8 111.9,284.1 113.9,283.1 116.0,283.0 118.0,282.3 120.0,281.4 121.8,280.3 124.0,280.0 125.9,280.0 127.8,280.2 129.7,279.3 131.6,279.3 133.5,279.4 135.4,278.9 137.4,279.4 139.3,279.7 141.2,279.4 143.1,279.1 145.0,279.0 146.6,280.3 148.8,280.4 150.4,281.7 152.4,282.4 154.1,283.5 156.2,283.8 157.6,285.4 159.6,286.0 161.5,285.9 163.3,286.3 165.0,287.4 166.8,287.9 168.7,287.6 170.6,287.9 172.4,288.0 174.2,288.4 176.0,289.0 176.3,287.2 176.0,285.4 176.1,283.5 176.7,281.8 177.0,280.0 177.6,277.7 179.2,275.8 180.0,273.6 179.3,271.6 178.3,269.9 177.0,268.3 175.8,266.6 174.9,264.8 174.0,263.0 172.9,261.1 173.2,258.9 172.3,257.0 172.0,255.0 174.0,254.5 175.9,254.0 178.0,254.2 180.0,254.0 181.9,253.7 183.7,253.1 185.7,253.3 187.6,252.7 189.4,251.9 191.3,251.8 193.3,251.9 195.1,251.1 197.0,250.8 198.7,249.8 200.7,250.0 202.7,249.8 204.8,249.6 206.8,249.3 208.9,249.1 211.0,249.1 213.0,248.8 214.8,249.3 216.6,249.7 218.5,249.8 220.2,250.6 221.9,251.6 223.8,251.4 225.6,252.0 227.4,252.7 228.8,253.9 229.8,255.5 231.5,256.3 232.9,257.5 234.0,259.0 235.9,259.8 237.2,261.4 238.4,263.1 240.4,263.8 242.0,265.0 242.4,263.0 242.7,261.0 243.2,259.0 243.5,257.0 244.0,255.0 246.1,256.2 248.1,257.4 250.5,258.0 252.6,258.0 254.6,257.4 256.7,257.4 258.8,257.0 260.2,258.2 262.3,258.2 263.9,259.1 265.3,260.3 267.0,261.0 268.5,262.2 270.1,263.1 271.7,264.1 273.2,265.3 275.0,266.0 276.6,266.9 278.0,268.2 279.5,269.3 281.4,269.7 282.8,271.1 284.5,271.9 286.0,273.1 287.8,273.6 289.7,274.2 290.6,276.1 292.3,277.0 294.0,277.8 294.8,279.8 295.9,281.4 297.8,282.6 298.6,284.5 300.0,286.0 301.1,287.6 301.2,289.5 301.5,291.4 303.0,292.8 303.5,294.6 304.0,296.4 303.8,298.3 303.0,300.0 302.3,301.7 301.8,303.5 300.1,304.9 300.0,306.8 298.6,308.1 298.0,310.0 296.8,311.4 296.0,313.1 294.5,314.9 293.3,317.0 292.0,319.0 290.2,321.0 288.3,322.8 289.8,324.2 291.5,325.4 293.3,326.4 294.9,327.8 296.3,329.3 298.0,330.5 299.4,328.7 300.3,326.4 301.9,324.7 303.8,324.8 305.7,324.7" fill="none" stroke="#000" stroke-width="1.25" stroke-linejoin="round"/>
<polyline points="239.0,204.0 238.9,206.1 238.5,208.2 237.9,210.3 238.2,212.5 238.0,214.6 236.2,215.3 234.4,216.0 232.8,217.1 230.9,217.5 229.1,218.1 227.2,218.6 225.6,219.7 224.0,221.0 222.1,221.7 220.4,222.8 218.2,223.0 216.5,224.0 215.0,225.6 213.0,226.0 211.0,226.5 209.3,227.5 207.8,228.8 206.1,229.9 204.7,231.4 202.8,232.0 203.3,233.9 202.5,235.7 203.0,237.6 202.7,239.5 202.6,241.4 202.7,243.2 202.1,245.1 202.0,246.9 201.8,248.8 200.7,250.0" fill="none" stroke="#000" stroke-width="1.25" stroke-linejoin="round"/>
<polyline points="159.6,286.0 159.7,288.0 159.5,290.0 159.6,292.0 160.3,294.0 160.5,296.0 160.1,298.0 160.0,300.0 160.2,301.8 159.5,303.6 159.6,305.4 159.7,307.2 159.7,309.1 159.5,310.9 160.1,312.7 159.6,314.5 160.7,316.2 162.0,317.8 162.3,320.0 164.2,321.2 164.4,323.4 165.8,325.0 168.0,325.0 169.8,326.2 172.0,326.3 174.0,327.0 175.6,328.4 176.7,330.3 178.9,331.1 180.0,333.0 182.0,333.0 183.7,334.5 185.7,334.6 187.7,334.7 189.3,336.2 191.4,336.2 193.0,337.3 195.0,336.9 196.6,337.8 198.4,338.0 200.0,339.0 202.0,339.1 204.0,339.7 206.1,339.4 208.0,340.4 210.0,340.4 211.8,341.4 213.1,342.9 213.9,344.8 215.7,345.8 217.1,347.2 218.4,348.6 220.0,350.0 221.7,351.1 223.5,352.3 225.4,353.2 226.7,354.9 228.4,354.1 230.1,353.3 231.7,352.2 232.9,350.7 234.7,349.6 236.1,348.1 237.8,346.8 239.7,345.9 241.2,344.5 242.1,342.5 242.1,340.2 243.2,338.3 243.4,336.1 244.1,334.1 244.8,332.1 245.3,330.0 246.4,328.4 246.9,326.5 247.7,324.7 249.9,325.2 251.4,327.0 253.6,327.6 255.5,328.6 256.4,330.2 257.7,331.7 258.5,333.4 259.5,335.0 260.1,336.9 261.3,338.3 263.4,338.8 265.1,340.3 267.2,340.8 269.0,342.1 270.8,343.3 273.1,343.6 274.9,344.8 276.7,346.0 277.9,344.6 279.4,343.6 280.2,341.8 281.9,340.8 283.0,339.3 284.5,338.3 285.9,336.9 287.6,336.0 289.5,335.3 290.6,333.6 292.2,332.5 294.3,332.4 295.9,330.8 298.0,330.5" fill="none" stroke="#000" stroke-width="1.25" stroke-linejoin="round"/>
<polyline points="241.2,344.5 243.3,344.7 245.2,345.8 247.3,346.3 249.4,346.6 249.7,348.5 251.1,349.9 251.8,351.7 252.6,353.4 253.2,355.1 253.6,357.0 253.9,359.1 255.1,361.0 255.1,363.2 255.7,365.2 256.4,367.2 256.6,369.3 256.8,371.4 256.6,373.5 257.2,375.6 257.7,377.6 258.3,379.7 258.0,381.7 258.1,383.8 257.3,385.8 257.3,387.9 257.3,389.9 257.7,392.0 255.5,392.8 253.6,394.2 252.6,396.2 251.7,398.2 251.5,400.4 249.9,401.6 249.0,403.4 247.4,404.6" fill="none" stroke="#000" stroke-width="1.25" stroke-linejoin="round"/>
<polyline points="257.7,392.0 259.9,392.8 261.4,394.7 263.5,395.7 264.6,397.7 265.7,399.9 267.4,401.5 268.6,403.3 269.6,405.3 270.1,407.5 271.3,409.3 272.4,410.7 274.0,411.7 275.0,413.3 276.5,414.3 277.5,416.0 279.0,417.0 280.4,418.7 281.2,420.7 281.5,423.0 282.9,424.7 284.2,426.2 285.5,427.6 286.1,429.6 287.4,431.0 288.7,432.5 290.6,431.8 292.6,431.9 294.5,431.7 296.4,430.8 298.4,431.0 300.3,430.5 300.5,428.4 301.4,426.6 302.2,424.7 302.7,422.6 303.8,420.7 305.6,419.2 306.0,417.0 306.4,415.0 307.6,413.3 307.4,411.2 308.0,409.3 310.0,408.1 312.1,407.1 313.8,405.4 315.8,405.8 318.0,405.3 320.0,406.0 321.8,406.4 323.7,406.7 325.6,406.4 327.5,406.6 329.3,407.3" fill="none" stroke="#000" stroke-width="1.25" stroke-linejoin="round"/>
<polyline points="333.1,393.8 332.0,395.6 332.6,397.8 331.2,399.5 331.3,401.6 329.8,403.3 330.4,405.5 329.3,407.3 328.2,409.1 327.8,411.1 327.3,413.1 325.3,413.1 323.3,413.3 321.6,414.5 319.7,414.8 317.7,415.0 315.6,416.1 314.0,417.9 311.9,419.0 312.8,420.8 313.5,422.7 313.8,424.7 314.7,426.9 316.0,428.8 317.7,430.5 318.6,432.3 320.3,433.4 320.8,435.5 322.3,436.7 323.5,438.3 323.8,440.2 323.6,442.1 323.6,444.1 323.5,446.0 325.2,447.7 326.0,449.9 327.3,451.8 328.7,453.6 329.8,455.7 331.2,457.6 332.9,459.0 335.0,459.7 337.1,460.4 339.0,461.5 339.4,463.4 340.0,465.1 341.3,466.6 341.6,468.5 342.8,470.0 344.0,471.7 344.5,473.6 345.0,475.4 345.3,477.4" fill="none" stroke="#000" stroke-width="1.25" stroke-linejoin="round"/>
<polyline points="327.3,451.8 328.8,450.7 330.5,449.8 332.1,448.8 333.7,447.9 335.3,446.9 337.0,446.0 339.0,445.8 340.8,444.9 342.9,445.0 344.6,443.8 346.7,444.0 348.6,443.4 350.5,443.2 352.4,442.6 354.5,443.0 356.3,442.2 358.3,442.1 360.3,442.0 362.3,441.7 364.0,440.4 366.0,440.2 368.0,440.3 370.0,439.8 371.9,439.3 373.7,438.1 375.7,438.3 377.2,437.1 378.9,436.1 380.2,434.6 381.7,433.4 383.4,432.5 381.8,431.2 380.3,429.8 379.3,427.9 377.6,426.7 376.5,424.9 375.6,422.9 374.8,420.8 373.7,419.0 375.9,418.1 377.4,416.1 379.5,415.0 378.6,413.2 379.4,411.1 378.9,409.2 378.6,407.3 377.9,405.4 377.6,403.5" fill="none" stroke="#000" stroke-width="1.25" stroke-linejoin="round"/>
<polyline points="377.6,403.5 375.7,403.5 373.8,403.1 371.8,402.9 369.9,403.5 368.7,401.7 368.2,399.5 367.2,397.5 366.0,395.7 364.2,394.6 361.9,394.2 360.0,393.4 358.3,391.9 356.4,392.7 354.3,392.9 352.5,393.8 351.1,395.2 349.4,396.1 348.0,397.5 346.0,398.1 344.7,399.6 343.3,398.3 341.3,398.0 340.0,396.6 337.8,396.8 336.6,395.1 335.0,394.2 333.1,393.8 334.1,391.6 335.9,390.1 337.0,388.0 338.5,386.6 340.3,385.5 341.1,383.4 342.8,382.2 344.7,381.3 346.9,380.7 348.7,379.4 350.5,378.3 352.4,377.6 354.3,376.9 356.5,377.4 358.3,376.4 359.2,374.5 360.7,372.8 360.8,370.4 362.1,368.7 363.8,367.5 365.3,366.1 366.9,364.7 368.0,362.9 367.0,361.1 367.0,359.1 366.3,357.2 366.7,355.1 366.0,353.2" fill="none" stroke="#000" stroke-width="1.25" stroke-linejoin="round"/>
<polyline points="366.0,353.2 368.0,353.3 369.8,354.3 371.9,354.4 373.8,354.7 375.7,355.6 377.6,356.0 379.6,356.5 381.5,357.0 382.5,358.9 383.7,360.8 384.6,362.7 385.3,364.8 384.6,366.7 384.6,368.7 383.7,370.5 383.4,372.5 381.3,373.0 379.4,373.7 377.4,374.3 375.8,375.9 373.7,376.4 372.0,378.0 369.7,378.8 368.0,380.3 367.9,382.2 368.4,384.1 367.8,386.1 368.0,388.0 368.8,389.8 370.0,391.3 371.7,392.4 372.8,394.0 373.7,395.7 375.2,397.4 375.1,399.9 376.9,401.4 377.6,403.5" fill="none" stroke="#000" stroke-width="1.25" stroke-linejoin="round"/>
<polyline points="305.7,324.7 307.1,326.0 308.6,327.3 310.4,328.2 311.9,329.4 313.5,330.5 314.8,332.0 315.3,334.0 317.2,335.0 318.5,336.5 319.3,338.3 320.9,339.5 322.4,340.9 323.7,342.4 325.0,344.0 326.9,343.7 328.9,343.5 330.9,343.8 332.8,344.0 334.7,343.3 336.7,343.1 338.5,342.2 340.5,342.1 342.5,342.0 344.4,342.5 346.3,343.3 348.3,343.5 350.2,344.0 352.0,345.1 353.9,345.9 356.1,346.3 358.1,346.8 359.9,348.0 361.2,349.5 362.8,350.8 364.6,351.8 366.0,353.2" fill="none" stroke="#000" stroke-width="1.25" stroke-linejoin="round"/>
<polyline points="366.0,353.2 368.1,352.9 370.0,351.8 371.9,351.2 373.9,350.5 375.7,349.3 376.4,347.2 377.7,345.5 379.0,343.7 379.5,341.6 379.0,339.5 377.6,337.7 379.6,336.8 381.3,335.4 383.3,334.8 385.3,333.9 387.3,334.8 389.6,334.1 391.7,334.7 393.8,335.2 394.8,337.0 396.6,337.9 398.2,339.1 399.5,340.6 400.7,342.1 402.2,343.3 404.2,343.4 405.9,344.2 407.6,345.0 409.7,345.5 411.7,346.0 413.8,346.0 415.9,346.3 417.9,345.5 420.1,345.7 422.0,344.8 424.2,345.0 426.0,346.7 427.0,349.0 429.0,349.6 430.6,351.1 432.5,351.8 434.7,352.3 436.6,353.4 438.9,353.5 440.8,354.6 442.5,355.6 443.5,357.3 445.6,357.7 447.1,359.3 449.0,360.0 449.7,362.0 451.4,363.3 452.4,365.1 453.2,367.0 454.1,369.0 453.7,371.2 454.5,373.2 454.6,375.3 455.7,377.5 456.0,380.0" fill="none" stroke="#000" stroke-width="1.25" stroke-linejoin="round"/>
<polyline points="373.7,390.0 374.7,388.4 376.5,387.5 377.6,386.0 379.2,385.0 380.7,383.7 382.0,382.3 384.0,381.7 385.3,380.3 387.3,380.3 389.2,379.6 391.2,379.3 393.0,378.7 394.9,378.0 397.0,378.3 399.0,378.7 400.8,379.4 402.9,379.3 404.7,380.3 406.5,381.3 408.7,381.3 410.6,381.9 412.6,382.3 414.2,384.0 416.3,384.1 418.4,383.4 420.3,382.6 422.1,381.4 424.0,380.3 426.0,380.7 427.6,382.0 429.3,383.1 431.0,384.0 432.6,382.9 434.7,383.1 436.2,381.7 437.8,380.8 439.9,380.8 441.5,379.7 443.1,378.6 445.1,378.8 446.6,377.6 448.4,377.0 450.0,376.1 451.8,375.6 453.2,377.1 454.9,378.3 456.0,380.0 457.6,378.8 459.7,379.2 461.2,377.8 463.2,377.8 464.7,376.5 466.8,376.8 468.4,375.6 470.4,376.5 472.5,376.7 474.6,377.2 476.7,377.4 478.8,377.7 480.9,377.6 482.9,376.6 485.0,376.7" fill="none" stroke="#000" stroke-width="1.25" stroke-linejoin="round"/>
<polyline points="431.0,384.0 429.8,385.8 430.1,388.1 429.0,390.0 430.2,391.5 429.8,393.7 431.4,395.1 432.1,396.8 432.2,398.8 433.0,400.5 433.5,402.3 433.1,404.1 434.2,405.8 433.6,407.7 434.6,409.4 434.6,411.2 435.0,413.0 435.0,415.1 435.7,417.0 435.9,419.1 436.6,421.1 437.3,423.0 437.5,424.9 436.3,426.6 436.3,428.5 436.4,430.4 436.2,432.3 435.2,434.0 435.2,435.9 435.0,437.8 435.9,439.8 437.3,441.3 438.5,443.1 440.1,444.4 441.5,446.0 443.5,446.6 445.6,446.9 447.7,446.9 449.6,448.1 451.8,448.0 453.3,447.0 455.2,446.7 457.0,446.1 458.4,445.0 460.0,444.0 462.2,444.3 464.1,445.7 466.3,446.0 467.7,447.7 469.7,448.9 471.3,450.3 472.5,452.3 473.9,453.7 475.7,454.6 476.7,456.4" fill="none" stroke="#000" stroke-width="1.25" stroke-linejoin="round"/>
<polyline points="383.4,432.5 384.9,433.7 386.6,434.4 388.3,435.1 390.4,434.9 391.9,436.2 393.6,436.8 395.3,437.6 397.0,438.3 398.8,439.1 400.3,440.3 401.7,441.7 403.4,442.6 404.7,444.0 406.6,445.3 408.8,446.2 410.4,448.0 411.9,446.6 414.0,446.2 415.5,444.9 417.3,444.0 419.1,443.2 420.7,442.0 422.7,441.4 424.7,440.7 426.9,441.1 429.0,440.5 431.0,440.0 432.7,441.2 434.4,442.1 436.0,443.5 438.1,443.9 439.6,445.3 441.5,446.0" fill="none" stroke="#000" stroke-width="1.25" stroke-linejoin="round"/>
<polyline points="410.4,448.0 409.9,449.8 409.5,451.6 410.0,453.5 408.8,455.2 409.5,457.2 408.6,458.9 409.0,460.8 408.3,462.6 407.6,464.6 408.0,466.8 407.0,468.8 406.6,470.8 406.2,472.9 406.2,475.0 406.0,476.9 405.1,478.6 404.7,480.5 405.4,482.5 404.6,484.3 403.8,486.1 404.0,488.0" fill="none" stroke="#000" stroke-width="1.25" stroke-linejoin="round"/>
<polyline points="480.8,377.7 481.6,379.4 481.7,381.3 482.5,383.0 483.9,384.4 483.9,386.5 485.0,388.0 485.7,389.7 487.1,391.1 486.9,393.2 488.5,394.5 489.0,396.3 490.8,397.4 492.4,398.7 494.0,400.1 496.0,400.9 497.4,402.5 499.5,402.0 501.7,401.5 503.6,400.5 505.2,399.6 507.0,399.1 508.5,398.0 510.0,397.0" fill="none" stroke="#000" stroke-width="1.25" stroke-linejoin="round"/>
<polyline points="485.0,394.0 483.2,394.6 481.8,396.1 480.2,397.0 478.3,397.4 476.7,398.4 475.5,400.3 473.4,401.3 471.8,402.8 470.5,404.6 470.4,406.5 469.1,408.1 468.7,409.9 467.9,411.6 467.0,413.3 466.3,415.0 466.3,417.0 466.1,418.8 465.3,420.6 465.1,422.4 464.6,424.2 465.4,426.2 464.1,427.9 464.6,429.8 464.0,431.6 464.0,433.8 463.1,435.7 462.4,437.8 461.9,439.8 462.0,442.0 463.5,443.2 464.6,445.0 466.3,446.0" fill="none" stroke="#000" stroke-width="1.25" stroke-linejoin="round"/>
<polyline points="342.5,309.3 342.3,311.2 342.5,313.1 342.3,315.0 342.0,317.0 342.9,318.9 343.0,320.8 342.1,322.8 342.7,324.7 342.7,326.6 342.1,328.6 342.5,330.5 341.3,332.2 339.3,333.1 338.2,334.9 336.7,336.3 336.2,338.5 334.3,339.9 333.7,342.0 332.8,344.0" fill="none" stroke="#000" stroke-width="1.25" stroke-linejoin="round"/>
<polyline points="325.0,280.3 326.4,282.0 327.4,283.9 327.9,286.1 329.0,288.0 329.7,289.9 330.1,291.8 330.0,293.8 330.4,295.7 330.9,297.6 330.9,299.6 332.4,301.0 333.5,302.8 335.6,303.6 336.7,305.4 338.8,306.4 340.9,307.5 342.5,309.3 342.8,307.3 343.3,305.3 344.4,303.5 345.0,301.6 344.2,299.6 345.0,297.6 344.4,295.7 343.1,294.0 342.5,291.9 344.3,290.8 345.4,289.0 347.0,287.6 348.3,286.0 349.1,284.2 349.3,282.1 350.2,280.3 349.9,278.4 350.4,276.4 350.2,274.5" fill="none" stroke="#000" stroke-width="1.25" stroke-linejoin="round"/>
<polyline points="343.7,290.0 345.4,289.3 346.9,288.2 348.9,288.0 350.2,286.6 352.0,286.0 353.7,287.0 355.6,287.8 357.3,288.9 358.6,290.5 360.9,290.6 362.4,292.0 363.3,294.1 364.4,296.2 365.0,298.5 364.8,300.4 363.6,302.2 364.0,304.2 363.3,306.1 363.0,308.0 361.3,308.9 359.4,309.3 357.8,310.5 356.0,311.2 354.1,311.9 352.1,311.9 350.2,312.3 348.2,312.1 346.3,312.7 344.4,313.1" fill="none" stroke="#000" stroke-width="1.25" stroke-linejoin="round"/>
<polyline points="250.5,210.0 250.8,212.0 251.4,213.9 252.1,215.8 251.7,217.9 252.5,219.8 252.5,221.8 253.6,223.5 254.2,225.3 254.7,227.2 255.1,229.1 256.5,230.7 256.7,232.7 257.5,234.5 258.8,236.0 260.4,235.1 262.1,234.4 263.9,233.9 265.9,234.1 267.6,233.3 269.4,233.0 271.0,232.0 272.3,233.5 274.1,234.2 275.8,235.0 277.4,236.0 276.8,238.0 275.8,239.9 273.9,241.2 273.0,243.0 271.8,244.8 271.0,246.7 272.9,247.9 274.7,249.2 276.7,250.3 278.7,251.3 279.5,253.1 281.4,254.1 282.2,255.9 283.5,257.3 284.5,259.0 285.5,260.6 286.7,261.9 288.3,262.9 290.1,261.7 291.9,260.5 293.9,259.7 296.0,259.0 297.9,258.4 299.9,258.5 301.8,257.7 303.8,257.7 305.7,257.0 307.6,256.4 309.6,256.2 311.4,255.4 313.5,255.6 315.4,255.0 316.0,257.0 316.3,259.1 317.3,261.0 315.7,262.2 315.0,264.1 314.2,265.9 312.2,266.8 311.5,268.7 311.0,270.6 311.5,272.5 311.5,274.5 311.5,276.4 313.2,277.8 315.5,278.1 317.5,279.1 319.3,280.3 321.2,280.5 323.1,280.5 325.0,280.3 326.7,279.5 328.4,278.7 329.9,277.4 331.4,276.4 332.9,275.2 334.7,274.5 334.7,272.5 335.2,270.6 335.6,268.7 336.3,266.8 336.5,264.9 336.7,262.9 337.9,261.3 338.9,259.7 340.3,258.2 341.2,256.5 342.5,255.0 343.5,256.6 344.9,257.8 346.3,259.0 345.7,260.9 345.7,262.9 345.1,264.8 344.5,266.7 344.4,268.7 345.5,270.5 347.3,271.6 348.9,272.9 350.2,274.5 352.1,275.3 354.2,275.3 356.0,276.4 357.9,275.8 359.8,275.1 361.8,275.3 363.7,274.6 365.7,274.5 366.9,272.5 368.5,270.8 369.5,268.7 370.6,267.2 371.0,265.2 372.3,263.8 372.9,261.9 374.7,260.8 375.3,259.0 376.7,257.5 378.5,256.4 379.5,254.5 381.1,253.2 383.2,252.9 384.9,251.5 387.0,251.3 389.1,250.4 390.7,248.6 392.7,247.4 394.0,245.8 396.1,245.5 397.6,244.2 398.7,242.5 400.5,241.6 402.1,240.7 403.7,239.6 405.0,238.3 406.8,237.7 408.7,237.3 410.0,235.8 412.2,236.6 413.8,235.7 415.7,235.4 417.2,234.4 417.9,231.5 417.1,229.2 415.7,227.2 416.0,225.1 415.7,223.0 416.8,221.1 418.1,219.3 418.6,217.2 419.5,215.3 420.8,213.6 423.6,212.9 425.0,215.8 425.4,217.6 425.8,219.4 427.6,219.0 429.4,218.7 430.5,216.9 432.2,215.8 434.3,215.1 436.5,214.4 438.8,213.6 440.8,212.2 442.3,211.2 443.7,210.0 444.4,206.5 446.1,205.4 448.0,205.0 449.7,204.0 451.6,203.6 454.4,205.0 455.5,206.8 456.6,208.6 458.1,210.2 458.7,212.2 459.1,214.0 458.7,215.8 459.6,217.4 460.9,218.7 463.1,218.6 465.2,219.4 466.9,218.6 468.8,218.7 468.7,216.5 469.5,214.4 468.8,212.2 468.0,210.0 467.3,206.5 469.5,204.3 471.6,204.9 473.0,206.5 474.0,208.5 475.3,210.3 476.6,212.2 478.0,210.5 479.2,208.6 480.0,206.5 481.3,205.2 482.2,203.5 483.2,202.0 485.0,201.0 487.0,200.6 488.7,199.4 490.7,199.0 492.4,197.8 494.5,197.4 496.3,196.3 497.9,194.9 499.9,194.4 501.4,193.2 503.0,192.2 504.2,190.8 505.9,189.9 507.1,187.9 507.6,185.6 509.0,183.8 505.9,182.3 505.0,180.4 504.8,178.3 504.4,176.2 502.7,174.8 501.6,172.9 499.9,171.6 498.0,172.1 496.2,172.6 494.1,172.4 492.3,173.2 491.5,171.1 490.3,169.2 488.5,167.7 487.7,165.6 487.4,163.7 487.2,161.8 488.0,159.9 487.7,158.0 485.4,157.2 483.2,156.4 483.5,154.0 484.7,151.9 486.9,151.4 488.5,149.4 490.7,148.9 491.4,146.7 493.4,145.3 494.1,143.2 495.3,141.3 493.8,138.2 492.5,136.8 490.8,136.1 489.2,135.2 488.0,133.0 487.7,130.6 489.2,129.1 491.0,127.8 491.9,125.7 493.8,124.6 495.1,123.2 495.6,121.4 496.8,120.0 498.9,119.6 500.9,119.0 503.0,118.8 503.5,116.9 503.3,115.0 503.5,113.1 503.2,111.2 504.2,109.4 503.7,107.4 504.4,105.6 503.9,103.6 504.2,101.7 505.0,99.9 505.0,98.0 505.1,96.1 505.8,94.4 506.2,92.5 506.2,90.6 506.7,88.8 506.9,87.0 506.8,85.1 508.1,83.4 508.0,81.5 506.9,80.1 506.0,78.4 504.6,77.1 503.5,75.7 501.8,74.7 501.0,73.0 499.1,73.6 497.3,74.5 495.6,75.4 493.8,76.3 491.9,76.9 490.1,77.7 488.0,77.8 486.3,78.8 484.4,79.4 482.9,78.2 482.1,76.4 481.2,74.7 480.0,73.1 478.0,72.3 477.3,70.4 476.0,69.0 474.0,68.5 471.9,68.2 469.8,67.9 467.8,67.4 465.7,67.0 465.9,65.1 466.4,63.2 466.6,61.3 467.6,59.5 467.8,57.6 468.8,55.9 469.0,54.0" fill="none" stroke="#000" stroke-width="1.25" stroke-linejoin="round"/>
<polyline points="495.3,141.3 496.8,144.3 499.2,144.1 501.4,145.0 503.0,146.4 503.9,148.3 504.8,150.2 506.6,151.5 507.4,153.4 509.4,153.3 511.3,153.9 513.0,154.9 515.0,155.0 516.9,153.8 519.2,153.7 521.1,152.6 522.9,153.7 525.1,154.1 526.8,155.5 528.7,156.4 530.6,156.7 532.5,157.1 534.3,158.2 536.3,158.0 538.1,158.7 539.7,159.8 540.6,161.8 542.4,162.5 544.4,161.9 546.4,161.1 548.5,161.0 549.7,162.4 550.6,164.0 551.5,165.6 553.6,166.8 556.0,167.0 557.9,166.0 560.0,165.6 561.9,164.4 564.0,164.0 566.0,163.0 568.1,163.6 570.1,164.5 572.2,164.9 574.4,165.0 576.5,164.8 578.5,165.0" fill="none" stroke="#000" stroke-width="1.25" stroke-linejoin="round"/>
<polyline points="509.0,183.8 511.1,183.8 513.1,184.5 515.0,185.3 516.6,188.3 517.9,186.6 519.6,185.3 520.2,187.1 521.6,188.4 522.6,189.9 523.3,191.8 524.9,193.3 525.4,195.4 525.9,197.4 527.2,199.0 528.3,200.9 529.0,203.1 530.2,204.9 531.7,206.6 533.2,207.6 534.9,208.4 536.0,210.0" fill="none" stroke="#000" stroke-width="1.25" stroke-linejoin="round"/>
<polyline points="468.8,218.7 468.0,220.4 467.3,222.2 466.8,224.0 466.6,225.8 468.6,227.2 470.9,228.0 473.8,230.1 475.1,231.7 476.0,233.5" fill="none" stroke="#000" stroke-width="1.25" stroke-linejoin="round"/>
<polyline points="443.2,225.3 445.1,227.2 447.0,229.0 448.8,229.4 450.5,229.9 452.4,229.8 451.6,232.5 450.8,235.1 452.6,236.0 454.6,235.9 456.9,237.8 454.6,240.0 453.1,242.4 451.6,245.4 449.6,245.4 447.8,246.2 445.9,246.7 444.0,246.9 441.4,246.4 438.7,246.9 436.8,246.2 434.9,245.4 433.9,243.2 433.4,240.8 434.5,238.6 436.4,237.0 436.0,235.1 435.6,233.2 437.2,231.4 439.4,230.2 440.5,228.4 442.0,227.0 443.2,225.3" fill="none" stroke="#000" stroke-width="1.25" stroke-linejoin="round"/>
<polyline points="456.9,237.8 455.4,240.8 456.4,242.4 457.1,244.0 458.4,245.4 459.2,247.3 460.5,249.0" fill="none" stroke="#000" stroke-width="1.25" stroke-linejoin="round"/>
<polyline points="451.6,245.4 450.2,247.0 448.6,248.4 447.6,250.6 447.8,253.0 448.5,254.8 450.0,256.0 451.8,257.3 453.9,257.6 456.9,257.6 458.4,260.6 460.0,262.5" fill="none" stroke="#000" stroke-width="1.25" stroke-linejoin="round"/>
<polyline points="417.2,234.4 419.3,236.6 420.0,239.0 419.1,240.9 418.7,243.0 418.8,244.9 417.7,246.5 417.0,248.2 416.6,249.9 416.6,251.8 417.0,253.8 417.3,255.9 418.0,257.9 418.2,260.0 418.7,262.0 418.7,264.2 417.6,266.2 417.3,268.3 417.3,270.5 416.6,272.5 417.0,274.3 416.8,276.2 417.4,278.0 417.0,279.9 417.2,281.7 417.6,283.6 418.7,285.3 419.0,287.1 418.7,289.0 419.9,291.0 420.7,293.3" fill="none" stroke="#000" stroke-width="1.25" stroke-linejoin="round"/>
<polyline points="385.5,317.3 387.6,316.8 389.6,315.8 391.8,315.5 393.8,314.5 395.4,313.1 397.6,312.9 399.3,311.6 401.3,310.9 402.9,309.6 404.9,309.0 406.9,308.1 408.9,307.3 411.0,306.7 413.1,306.2 415.0,305.4 416.5,304.1 418.6,303.5 420.0,302.0 420.4,300.0 420.4,297.8 421.2,295.9 421.4,293.8 420.7,293.3" fill="none" stroke="#000" stroke-width="1.25" stroke-linejoin="round"/>
<polyline points="387.0,251.3 387.1,253.3 386.7,255.2 386.7,257.1 386.2,259.0 385.8,261.0 385.5,262.9 385.7,264.9 385.4,266.8 385.0,268.7 385.3,270.7 384.4,272.6 385.0,274.6 384.2,276.5 385.1,278.5 385.0,280.5 384.5,282.4 384.4,284.4 383.9,286.3 384.1,288.3 384.1,290.2 384.9,291.8 385.5,293.6 385.4,295.4 386.1,297.1 386.8,298.9 386.9,300.7 386.9,302.6 387.1,304.6 386.1,306.4 386.7,308.4 386.4,310.2 385.7,312.1 385.5,314.0 385.5,315.9 386.3,317.8 387.2,319.6 388.3,321.4 388.6,323.3 389.2,325.0 389.8,326.8 391.0,328.3 391.8,330.0 392.6,331.7 393.5,333.3 393.8,335.2" fill="none" stroke="#000" stroke-width="1.25" stroke-linejoin="round"/>
<polyline points="420.7,293.3 422.8,292.5 425.1,292.2 427.0,291.0 428.8,292.3 429.9,294.2 431.0,296.0 430.3,297.8 430.5,299.6 430.9,301.5 430.5,303.3 429.7,305.1 430.0,307.0 432.2,307.7 434.6,308.1 436.6,309.4 437.7,311.2 439.8,312.0 441.0,313.8 441.7,315.5 442.6,317.2 443.6,318.7 444.4,320.4 443.0,322.1 443.1,324.4 441.7,326.0 441.0,328.0 440.3,329.7 438.4,330.5 438.0,332.5 436.6,333.7 438.8,334.3 441.0,334.8 441.8,336.5 442.9,338.0 444.4,339.2 445.9,340.8 446.2,343.1 447.7,344.7 446.9,346.5 447.2,348.4 446.6,350.2 445.3,351.5 444.7,353.4 443.3,354.7 445.7,355.5 447.7,357.0 449.1,358.2 450.1,359.7 451.0,361.3 451.4,363.3 452.5,364.9 453.2,366.8 453.2,368.9 453.8,370.8 455.2,372.6 455.4,374.6" fill="none" stroke="#000" stroke-width="1.25" stroke-linejoin="round"/>
<polyline points="431.0,293.0 432.1,291.3 433.1,289.7 434.2,288.0 436.1,287.0 436.9,285.2 438.2,283.7 439.2,282.0 440.2,280.3 441.5,278.8 442.8,276.8 443.5,274.6 445.2,273.8 446.9,273.0 448.4,272.0 450.1,271.3 451.5,269.9 453.0,268.7 454.6,267.8 456.5,267.5 458.0,266.3 459.4,265.1 461.3,264.7 462.9,263.8 464.1,262.4 466.0,262.0" fill="none" stroke="#000" stroke-width="1.25" stroke-linejoin="round"/>
<polyline points="474.2,309.4 475.4,307.8 475.9,305.7 477.3,304.2 478.6,302.7 480.1,300.8 482.0,299.4 483.3,297.3 484.0,295.0" fill="none" stroke="#000" stroke-width="1.25" stroke-linejoin="round"/>
<polyline points="474.2,309.4 474.4,311.4 473.3,313.1 473.7,315.1 473.0,317.0 472.4,318.8 472.0,320.7 472.0,322.6 472.8,324.4 473.5,326.2 474.2,328.0 476.4,330.4 478.4,330.2 480.1,331.1 482.0,331.5 483.7,332.5 485.2,333.7 484.2,335.7 484.0,338.0 481.8,338.5 479.7,339.2 478.9,341.3 478.6,343.6 479.8,345.0 481.2,346.3 482.0,348.0 484.1,349.1 486.3,349.8 488.6,350.2 490.4,351.2 492.0,352.5 494.3,352.6 496.3,353.6 498.5,354.2 500.7,354.7 502.9,354.3 505.2,354.3 507.3,353.6 509.6,353.2 511.8,352.5 513.4,350.8 515.0,349.0 516.8,348.6 518.5,348.0" fill="none" stroke="#000" stroke-width="1.25" stroke-linejoin="round"/>
<polyline points="492.0,352.5 491.7,354.7 491.2,356.8 490.8,359.0 489.7,361.1 489.7,363.6 488.6,365.7 488.2,368.0 487.7,370.3 486.4,372.3 486.1,374.6 485.0,376.7" fill="none" stroke="#000" stroke-width="1.25" stroke-linejoin="round"/>
<polyline points="444.4,320.4 446.2,319.5 448.2,319.2 449.9,318.1 452.0,318.0 454.0,317.6 455.9,317.0 457.9,316.7 460.0,317.0 461.9,315.8 463.8,314.6 466.0,314.0 467.5,312.9 469.4,312.4 470.6,310.8 472.6,310.5 474.2,309.4" fill="none" stroke="#000" stroke-width="1.25" stroke-linejoin="round"/>
<polygon points="482.4,268.8 487.3,268.1 488.6,272.3 492.1,273.6 494.2,278.5 497.6,278.5 496.2,281.2 492.8,286.0 488.6,290.2 485.2,293.7 484.5,294.4 483.8,287.5 483.8,282.6 481.7,277.1 482.4,272.3" fill="#28428f"/>
<polygon points="508.0,270.0 511.0,269.5 512.0,272.0 509.5,273.8 507.8,272.5" fill="#28428f"/>
<g fill="#28428f"><circle cx="449.4" cy="354.8" r="1.15"/><circle cx="459.8" cy="352.8" r="1.15"/><circle cx="456.1" cy="360.1" r="1.15"/><circle cx="440.9" cy="363.7" r="1.15"/><circle cx="440.2" cy="361.8" r="1.15"/><circle cx="452.6" cy="371.7" r="1.15"/><circle cx="443.0" cy="356.6" r="1.15"/><circle cx="459.1" cy="374.7" r="1.15"/><circle cx="457.5" cy="360.9" r="1.15"/><circle cx="466.5" cy="358.2" r="1.15"/><circle cx="448.9" cy="371.4" r="1.15"/><circle cx="444.8" cy="365.5" r="1.15"/><circle cx="459.4" cy="360.3" r="1.15"/><circle cx="456.5" cy="352.6" r="1.15"/><circle cx="460.8" cy="361.7" r="1.15"/><circle cx="449.1" cy="365.6" r="1.15"/><circle cx="453.5" cy="358.5" r="1.15"/><circle cx="464.4" cy="368.5" r="1.15"/><circle cx="446.8" cy="365.4" r="1.15"/><circle cx="455.8" cy="372.9" r="1.15"/><circle cx="462.3" cy="358.2" r="1.15"/><circle cx="452.4" cy="369.9" r="1.15"/><circle cx="443.9" cy="363.2" r="1.15"/><circle cx="440.3" cy="367.7" r="1.15"/><circle cx="463.5" cy="365.3" r="1.15"/><circle cx="467.0" cy="358.8" r="1.15"/><circle cx="461.2" cy="365.9" r="1.15"/><circle cx="457.6" cy="362.4" r="1.15"/><circle cx="454.2" cy="367.6" r="1.15"/><circle cx="440.9" cy="368.5" r="1.15"/><circle cx="465.3" cy="358.1" r="1.15"/><circle cx="451.3" cy="367.7" r="1.15"/><circle cx="439.7" cy="362.5" r="1.15"/><circle cx="443.1" cy="357.2" r="1.15"/><circle cx="451.5" cy="372.8" r="1.15"/><circle cx="441.6" cy="362.2" r="1.15"/><circle cx="456.6" cy="373.1" r="1.15"/><circle cx="465.2" cy="372.6" r="1.15"/><circle cx="457.9" cy="388.1" r="1.15"/><circle cx="460.5" cy="398.5" r="1.15"/><circle cx="454.6" cy="384.1" r="1.15"/><circle cx="456.5" cy="389.7" r="1.15"/><circle cx="467.9" cy="384.8" r="1.15"/><circle cx="460.8" cy="391.5" r="1.15"/><circle cx="479.5" cy="394.2" r="1.15"/><circle cx="465.5" cy="392.6" r="1.15"/><circle cx="470.6" cy="380.2" r="1.15"/><circle cx="477.8" cy="396.2" r="1.15"/><circle cx="477.0" cy="396.6" r="1.15"/><circle cx="461.6" cy="387.8" r="1.15"/><circle cx="452.3" cy="393.0" r="1.15"/><circle cx="455.7" cy="382.6" r="1.15"/><circle cx="459.9" cy="380.2" r="1.15"/><circle cx="452.2" cy="387.0" r="1.15"/><circle cx="468.7" cy="382.3" r="1.15"/><circle cx="429.5" cy="349.9" r="1.15"/><circle cx="432.0" cy="346.1" r="1.15"/><circle cx="434.3" cy="352.2" r="1.15"/><circle cx="431.5" cy="348.5" r="1.15"/><circle cx="442.2" cy="346.7" r="1.15"/><circle cx="435.6" cy="346.5" r="1.15"/><circle cx="435.9" cy="344.5" r="1.15"/><circle cx="435.6" cy="360.6" r="1.15"/><circle cx="443.0" cy="355.8" r="1.15"/><circle cx="429.7" cy="350.2" r="1.15"/><circle cx="427.7" cy="357.1" r="1.15"/><circle cx="435.7" cy="357.2" r="1.15"/><circle cx="431.3" cy="347.8" r="1.15"/><circle cx="442.8" cy="357.7" r="1.15"/><circle cx="442.0" cy="356.6" r="1.15"/><circle cx="429.0" cy="352.8" r="1.15"/><circle cx="450.0" cy="305.5" r="1.15"/><circle cx="448.2" cy="317.9" r="1.15"/><circle cx="461.2" cy="313.3" r="1.15"/><circle cx="461.2" cy="311.8" r="1.15"/><circle cx="447.5" cy="309.2" r="1.15"/><circle cx="447.1" cy="308.8" r="1.15"/><circle cx="455.0" cy="321.7" r="1.15"/><circle cx="459.0" cy="313.9" r="1.15"/><circle cx="455.5" cy="319.9" r="1.15"/><circle cx="445.0" cy="317.3" r="1.15"/><circle cx="460.3" cy="319.6" r="1.15"/><circle cx="457.4" cy="313.9" r="1.15"/><circle cx="446.7" cy="319.7" r="1.15"/><circle cx="449.6" cy="319.9" r="1.15"/><circle cx="461.5" cy="312.4" r="1.15"/><circle cx="450.9" cy="322.6" r="1.15"/><circle cx="456.9" cy="308.2" r="1.15"/><circle cx="446.1" cy="320.4" r="1.15"/><circle cx="449.9" cy="315.2" r="1.15"/><circle cx="461.5" cy="317.1" r="1.15"/><circle cx="453.2" cy="322.4" r="1.15"/><circle cx="451.5" cy="321.2" r="1.15"/><circle cx="458.8" cy="308.9" r="1.15"/><circle cx="448.1" cy="310.4" r="1.15"/><circle cx="447.9" cy="315.9" r="1.15"/><circle cx="448.2" cy="312.8" r="1.15"/><circle cx="450.0" cy="313.5" r="1.15"/><circle cx="454.3" cy="321.8" r="1.15"/><circle cx="451.2" cy="322.1" r="1.15"/><circle cx="452.7" cy="314.9" r="1.15"/><circle cx="453.1" cy="305.3" r="1.15"/><circle cx="451.6" cy="308.4" r="1.15"/><circle cx="446.6" cy="313.8" r="1.15"/><circle cx="456.9" cy="315.4" r="1.15"/><circle cx="449.5" cy="314.6" r="1.15"/><circle cx="453.7" cy="319.6" r="1.15"/><circle cx="445.4" cy="315.4" r="1.15"/><circle cx="448.0" cy="310.2" r="1.15"/><circle cx="457.8" cy="314.4" r="1.15"/><circle cx="453.8" cy="319.1" r="1.15"/><circle cx="460.4" cy="313.2" r="1.15"/><circle cx="454.8" cy="314.4" r="1.15"/><circle cx="452.9" cy="317.9" r="1.15"/><circle cx="451.8" cy="314.9" r="1.15"/><circle cx="452.3" cy="322.5" r="1.15"/><circle cx="456.4" cy="321.3" r="1.15"/><circle cx="453.8" cy="322.5" r="1.15"/><circle cx="459.0" cy="307.6" r="1.15"/><circle cx="445.7" cy="313.2" r="1.15"/><circle cx="444.7" cy="309.5" r="1.15"/><circle cx="444.8" cy="317.5" r="1.15"/><circle cx="458.0" cy="321.7" r="1.15"/><circle cx="446.3" cy="318.3" r="1.15"/><circle cx="455.7" cy="307.7" r="1.15"/><circle cx="450.8" cy="314.1" r="1.15"/><circle cx="446.4" cy="313.0" r="1.15"/><circle cx="453.0" cy="311.3" r="1.15"/><circle cx="447.0" cy="310.9" r="1.15"/><circle cx="453.7" cy="313.2" r="1.15"/><circle cx="455.0" cy="314.5" r="1.15"/><circle cx="445.3" cy="309.9" r="1.15"/><circle cx="448.4" cy="307.4" r="1.15"/><circle cx="451.3" cy="322.0" r="1.15"/><circle cx="458.6" cy="309.8" r="1.15"/><circle cx="454.0" cy="318.0" r="1.15"/><circle cx="456.2" cy="312.9" r="1.15"/><circle cx="455.2" cy="319.9" r="1.15"/><circle cx="451.8" cy="311.3" r="1.15"/><circle cx="453.7" cy="322.2" r="1.15"/><circle cx="448.4" cy="307.4" r="1.15"/><circle cx="453.2" cy="309.4" r="1.15"/><circle cx="449.2" cy="310.7" r="1.15"/><circle cx="457.5" cy="310.4" r="1.15"/><circle cx="452.7" cy="308.3" r="1.15"/><circle cx="457.0" cy="315.2" r="1.15"/><circle cx="446.9" cy="313.8" r="1.15"/><circle cx="458.6" cy="313.0" r="1.15"/><circle cx="452.6" cy="320.5" r="1.15"/><circle cx="450.7" cy="314.4" r="1.15"/><circle cx="449.8" cy="320.5" r="1.15"/><circle cx="456.5" cy="316.8" r="1.15"/><circle cx="450.9" cy="311.5" r="1.15"/><circle cx="444.7" cy="318.8" r="1.15"/><circle cx="448.2" cy="308.0" r="1.15"/><circle cx="459.6" cy="317.5" r="1.15"/><circle cx="448.6" cy="309.5" r="1.15"/><circle cx="448.9" cy="313.5" r="1.15"/><circle cx="446.3" cy="313.3" r="1.15"/><circle cx="461.5" cy="315.2" r="1.15"/><circle cx="449.2" cy="311.6" r="1.15"/><circle cx="452.2" cy="314.4" r="1.15"/><circle cx="447.1" cy="314.4" r="1.15"/><circle cx="445.1" cy="312.4" r="1.15"/><circle cx="449.1" cy="309.3" r="1.15"/><circle cx="454.3" cy="314.8" r="1.15"/><circle cx="457.4" cy="317.2" r="1.15"/><circle cx="456.7" cy="321.4" r="1.15"/><circle cx="450.6" cy="311.1" r="1.15"/><circle cx="456.9" cy="317.0" r="1.15"/><circle cx="460.0" cy="316.7" r="1.15"/><circle cx="457.0" cy="320.1" r="1.15"/><circle cx="446.0" cy="314.7" r="1.15"/><circle cx="452.8" cy="320.5" r="1.15"/><circle cx="458.4" cy="320.4" r="1.15"/><circle cx="454.3" cy="321.6" r="1.15"/><circle cx="456.1" cy="317.9" r="1.15"/><circle cx="445.9" cy="311.7" r="1.15"/><circle cx="453.8" cy="316.7" r="1.15"/><circle cx="455.0" cy="317.7" r="1.15"/><circle cx="452.5" cy="305.1" r="1.15"/><circle cx="458.2" cy="318.9" r="1.15"/><circle cx="452.8" cy="315.0" r="1.15"/><circle cx="455.7" cy="306.2" r="1.15"/><circle cx="457.1" cy="309.7" r="1.15"/><circle cx="444.8" cy="309.9" r="1.15"/><circle cx="457.0" cy="308.8" r="1.15"/><circle cx="452.6" cy="312.1" r="1.15"/><circle cx="452.3" cy="317.7" r="1.15"/><circle cx="457.7" cy="316.5" r="1.15"/><circle cx="455.4" cy="306.4" r="1.15"/><circle cx="446.1" cy="309.7" r="1.15"/><circle cx="457.2" cy="310.7" r="1.15"/><circle cx="454.0" cy="305.2" r="1.15"/><circle cx="444.5" cy="310.0" r="1.15"/><circle cx="455.9" cy="317.9" r="1.15"/><circle cx="456.0" cy="310.4" r="1.15"/><circle cx="453.0" cy="313.6" r="1.15"/><circle cx="452.1" cy="307.2" r="1.15"/><circle cx="460.0" cy="308.7" r="1.15"/><circle cx="443.7" cy="313.5" r="1.15"/><circle cx="451.8" cy="310.0" r="1.15"/><circle cx="447.3" cy="315.8" r="1.15"/><circle cx="446.0" cy="314.7" r="1.15"/><circle cx="458.7" cy="314.5" r="1.15"/><circle cx="459.9" cy="318.1" r="1.15"/><circle cx="447.7" cy="321.7" r="1.15"/><circle cx="452.4" cy="305.5" r="1.15"/><circle cx="443.5" cy="314.1" r="1.15"/><circle cx="451.8" cy="310.6" r="1.15"/><circle cx="446.0" cy="311.4" r="1.15"/><circle cx="449.3" cy="320.6" r="1.15"/><circle cx="460.6" cy="318.3" r="1.15"/><circle cx="460.2" cy="310.4" r="1.15"/><circle cx="450.3" cy="312.3" r="1.15"/><circle cx="450.1" cy="313.0" r="1.15"/><circle cx="448.7" cy="322.4" r="1.15"/><circle cx="448.0" cy="309.9" r="1.15"/><circle cx="452.9" cy="308.5" r="1.15"/><circle cx="450.3" cy="322.8" r="1.15"/><circle cx="459.8" cy="320.1" r="1.15"/><circle cx="455.1" cy="322.0" r="1.15"/><circle cx="476.0" cy="317.3" r="1.15"/><circle cx="472.4" cy="315.7" r="1.15"/><circle cx="472.8" cy="319.0" r="1.15"/><circle cx="464.9" cy="308.8" r="1.15"/><circle cx="468.0" cy="313.8" r="1.15"/><circle cx="465.1" cy="320.6" r="1.15"/><circle cx="471.2" cy="313.1" r="1.15"/><circle cx="469.5" cy="314.7" r="1.15"/><circle cx="462.8" cy="310.7" r="1.15"/><circle cx="468.5" cy="311.7" r="1.15"/><circle cx="467.6" cy="310.4" r="1.15"/><circle cx="465.8" cy="309.5" r="1.15"/><circle cx="464.1" cy="312.4" r="1.15"/><circle cx="469.7" cy="323.1" r="1.15"/><circle cx="472.7" cy="315.0" r="1.15"/><circle cx="467.0" cy="316.9" r="1.15"/><circle cx="466.4" cy="313.7" r="1.15"/><circle cx="461.1" cy="312.7" r="1.15"/><circle cx="468.6" cy="318.7" r="1.15"/><circle cx="474.7" cy="311.7" r="1.15"/><circle cx="464.6" cy="312.2" r="1.15"/><circle cx="466.8" cy="315.6" r="1.15"/><circle cx="475.2" cy="316.0" r="1.15"/><circle cx="466.7" cy="323.8" r="1.15"/><circle cx="474.0" cy="322.5" r="1.15"/><circle cx="468.9" cy="319.6" r="1.15"/><circle cx="476.0" cy="320.3" r="1.15"/><circle cx="471.0" cy="321.0" r="1.15"/><circle cx="467.8" cy="317.4" r="1.15"/><circle cx="464.0" cy="323.6" r="1.15"/><circle cx="471.0" cy="313.2" r="1.15"/><circle cx="462.2" cy="312.3" r="1.15"/><circle cx="470.8" cy="319.9" r="1.15"/><circle cx="468.9" cy="317.9" r="1.15"/><circle cx="466.6" cy="311.8" r="1.15"/><circle cx="470.2" cy="308.2" r="1.15"/><circle cx="465.1" cy="315.8" r="1.15"/><circle cx="476.3" cy="319.0" r="1.15"/><circle cx="475.0" cy="316.1" r="1.15"/><circle cx="464.0" cy="312.2" r="1.15"/><circle cx="468.5" cy="319.5" r="1.15"/><circle cx="467.1" cy="312.4" r="1.15"/><circle cx="471.3" cy="323.7" r="1.15"/><circle cx="465.7" cy="315.1" r="1.15"/><circle cx="471.6" cy="311.4" r="1.15"/><circle cx="473.6" cy="320.6" r="1.15"/><circle cx="468.6" cy="311.5" r="1.15"/><circle cx="473.9" cy="311.9" r="1.15"/><circle cx="463.8" cy="320.9" r="1.15"/><circle cx="465.0" cy="324.2" r="1.15"/><circle cx="468.4" cy="311.2" r="1.15"/><circle cx="463.8" cy="315.1" r="1.15"/><circle cx="471.3" cy="324.1" r="1.15"/><circle cx="462.5" cy="314.7" r="1.15"/><circle cx="461.0" cy="314.7" r="1.15"/><circle cx="475.8" cy="313.6" r="1.15"/><circle cx="471.3" cy="314.4" r="1.15"/><circle cx="466.4" cy="313.6" r="1.15"/><circle cx="464.8" cy="314.0" r="1.15"/><circle cx="466.1" cy="322.0" r="1.15"/><circle cx="474.0" cy="315.4" r="1.15"/><circle cx="460.8" cy="316.0" r="1.15"/><circle cx="466.3" cy="323.6" r="1.15"/><circle cx="463.3" cy="314.2" r="1.15"/><circle cx="467.0" cy="321.8" r="1.15"/><circle cx="475.6" cy="312.4" r="1.15"/><circle cx="488.5" cy="322.6" r="1.15"/><circle cx="481.1" cy="313.8" r="1.15"/><circle cx="492.2" cy="318.6" r="1.15"/><circle cx="479.7" cy="320.0" r="1.15"/><circle cx="480.7" cy="313.9" r="1.15"/><circle cx="491.5" cy="318.9" r="1.15"/><circle cx="479.2" cy="316.7" r="1.15"/><circle cx="482.0" cy="313.5" r="1.15"/><circle cx="482.7" cy="316.9" r="1.15"/><circle cx="489.4" cy="320.3" r="1.15"/><circle cx="489.8" cy="320.8" r="1.15"/><circle cx="485.9" cy="314.6" r="1.15"/><circle cx="480.8" cy="315.1" r="1.15"/><circle cx="478.6" cy="320.5" r="1.15"/><circle cx="475.6" cy="317.7" r="1.15"/><circle cx="479.8" cy="311.2" r="1.15"/><circle cx="476.7" cy="317.0" r="1.15"/><circle cx="487.8" cy="316.3" r="1.15"/><circle cx="479.2" cy="315.8" r="1.15"/><circle cx="486.2" cy="319.4" r="1.15"/><circle cx="488.5" cy="321.9" r="1.15"/><circle cx="487.0" cy="311.7" r="1.15"/><circle cx="490.1" cy="314.1" r="1.15"/><circle cx="485.2" cy="315.2" r="1.15"/><circle cx="488.3" cy="312.8" r="1.15"/><circle cx="479.5" cy="313.4" r="1.15"/><circle cx="485.4" cy="314.6" r="1.15"/><circle cx="484.1" cy="313.2" r="1.15"/><circle cx="473.2" cy="304.7" r="1.15"/><circle cx="465.9" cy="306.3" r="1.15"/><circle cx="458.1" cy="300.2" r="1.15"/><circle cx="476.8" cy="304.0" r="1.15"/><circle cx="475.9" cy="302.0" r="1.15"/><circle cx="474.5" cy="302.7" r="1.15"/><circle cx="461.2" cy="305.9" r="1.15"/><circle cx="468.6" cy="304.4" r="1.15"/><circle cx="460.3" cy="301.9" r="1.15"/><circle cx="458.6" cy="300.4" r="1.15"/><circle cx="461.1" cy="304.2" r="1.15"/><circle cx="469.8" cy="300.4" r="1.15"/><circle cx="470.4" cy="300.2" r="1.15"/><circle cx="462.3" cy="300.4" r="1.15"/><circle cx="472.9" cy="303.7" r="1.15"/><circle cx="464.2" cy="303.7" r="1.15"/><circle cx="469.5" cy="299.3" r="1.15"/><circle cx="443.0" cy="332.5" r="1.15"/><circle cx="447.6" cy="328.1" r="1.15"/><circle cx="445.7" cy="335.3" r="1.15"/><circle cx="445.8" cy="331.1" r="1.15"/><circle cx="446.6" cy="329.5" r="1.15"/><circle cx="446.8" cy="327.1" r="1.15"/><circle cx="453.5" cy="327.2" r="1.15"/><circle cx="447.9" cy="333.9" r="1.15"/><circle cx="447.6" cy="334.5" r="1.15"/><circle cx="448.6" cy="326.8" r="1.15"/><circle cx="440.3" cy="331.0" r="1.15"/><circle cx="451.9" cy="334.8" r="1.15"/><circle cx="441.7" cy="331.7" r="1.15"/><circle cx="446.9" cy="330.4" r="1.15"/><circle cx="442.7" cy="328.1" r="1.15"/><circle cx="449.7" cy="335.0" r="1.15"/><circle cx="442.0" cy="330.3" r="1.15"/><circle cx="443.7" cy="326.4" r="1.15"/><circle cx="449.0" cy="325.6" r="1.15"/><circle cx="457.2" cy="329.2" r="1.15"/><circle cx="456.8" cy="331.7" r="1.15"/><circle cx="455.3" cy="326.7" r="1.15"/><circle cx="454.6" cy="327.4" r="1.15"/><circle cx="458.7" cy="348.7" r="1.15"/><circle cx="468.9" cy="338.7" r="1.15"/><circle cx="454.2" cy="342.0" r="1.15"/><circle cx="461.4" cy="341.8" r="1.15"/><circle cx="452.0" cy="339.7" r="1.15"/><circle cx="466.4" cy="349.5" r="1.15"/><circle cx="450.0" cy="344.4" r="1.15"/><circle cx="463.4" cy="344.3" r="1.15"/><circle cx="464.0" cy="340.6" r="1.15"/><circle cx="459.1" cy="344.7" r="1.15"/><circle cx="459.2" cy="345.9" r="1.15"/><circle cx="459.7" cy="342.6" r="1.15"/><circle cx="449.6" cy="345.3" r="1.15"/><circle cx="460.7" cy="339.5" r="1.15"/><circle cx="467.3" cy="347.7" r="1.15"/><circle cx="460.0" cy="338.7" r="1.15"/><circle cx="460.4" cy="337.6" r="1.15"/><circle cx="452.1" cy="342.5" r="1.15"/><circle cx="451.2" cy="342.6" r="1.15"/><circle cx="461.2" cy="336.6" r="1.15"/><circle cx="464.3" cy="337.2" r="1.15"/><circle cx="466.6" cy="347.7" r="1.15"/><circle cx="461.3" cy="336.8" r="1.15"/><circle cx="461.1" cy="341.7" r="1.15"/><circle cx="466.6" cy="348.2" r="1.15"/><circle cx="460.8" cy="350.3" r="1.15"/><circle cx="450.6" cy="341.3" r="1.15"/><circle cx="467.1" cy="338.4" r="1.15"/><circle cx="470.5" cy="340.1" r="1.15"/><circle cx="468.6" cy="338.2" r="1.15"/><circle cx="461.1" cy="349.8" r="1.15"/><circle cx="454.0" cy="339.9" r="1.15"/><circle cx="461.1" cy="340.8" r="1.15"/><circle cx="465.3" cy="349.4" r="1.15"/><circle cx="453.0" cy="347.8" r="1.15"/><circle cx="456.5" cy="356.0" r="1.15"/><circle cx="460.9" cy="354.9" r="1.15"/><circle cx="515.8" cy="339.2" r="1.15"/><circle cx="507.4" cy="345.7" r="1.15"/><circle cx="508.8" cy="336.1" r="1.15"/><circle cx="513.6" cy="333.5" r="1.15"/><circle cx="519.1" cy="339.7" r="1.15"/><circle cx="501.2" cy="343.4" r="1.15"/><circle cx="503.5" cy="331.8" r="1.15"/><circle cx="514.3" cy="333.3" r="1.15"/><circle cx="507.6" cy="341.4" r="1.15"/><circle cx="508.5" cy="336.8" r="1.15"/><circle cx="505.5" cy="345.9" r="1.15"/><circle cx="494.7" cy="332.8" r="1.15"/><circle cx="493.9" cy="335.3" r="1.15"/><circle cx="497.3" cy="339.8" r="1.15"/><circle cx="507.7" cy="332.3" r="1.15"/><circle cx="508.7" cy="337.7" r="1.15"/><circle cx="497.8" cy="331.2" r="1.15"/><circle cx="493.6" cy="340.9" r="1.15"/><circle cx="515.7" cy="343.7" r="1.15"/><circle cx="502.4" cy="333.5" r="1.15"/><circle cx="506.9" cy="335.2" r="1.15"/><circle cx="509.3" cy="337.0" r="1.15"/><circle cx="517.6" cy="342.8" r="1.15"/><circle cx="498.0" cy="346.1" r="1.15"/><circle cx="492.2" cy="338.8" r="1.15"/><circle cx="502.5" cy="333.0" r="1.15"/><circle cx="491.3" cy="339.2" r="1.15"/><circle cx="496.6" cy="340.3" r="1.15"/><circle cx="505.3" cy="340.9" r="1.15"/><circle cx="514.1" cy="331.7" r="1.15"/><circle cx="499.7" cy="334.2" r="1.15"/><circle cx="513.2" cy="342.4" r="1.15"/><circle cx="512.1" cy="337.5" r="1.15"/><circle cx="512.0" cy="337.2" r="1.15"/><circle cx="497.3" cy="330.4" r="1.15"/><circle cx="500.5" cy="343.1" r="1.15"/><circle cx="510.7" cy="345.0" r="1.15"/><circle cx="511.2" cy="333.5" r="1.15"/><circle cx="506.7" cy="336.9" r="1.15"/><circle cx="513.4" cy="338.6" r="1.15"/><circle cx="498.5" cy="340.9" r="1.15"/><circle cx="498.3" cy="333.0" r="1.15"/><circle cx="512.2" cy="334.7" r="1.15"/><circle cx="516.0" cy="334.8" r="1.15"/><circle cx="497.7" cy="346.2" r="1.15"/><circle cx="508.9" cy="341.9" r="1.15"/><circle cx="504.3" cy="344.8" r="1.15"/><circle cx="510.8" cy="345.2" r="1.15"/><circle cx="503.4" cy="342.6" r="1.15"/><circle cx="507.2" cy="334.4" r="1.15"/><circle cx="496.9" cy="340.6" r="1.15"/><circle cx="500.7" cy="331.1" r="1.15"/><circle cx="510.6" cy="340.8" r="1.15"/><circle cx="510.8" cy="342.8" r="1.15"/><circle cx="492.8" cy="339.9" r="1.15"/><circle cx="501.3" cy="344.4" r="1.15"/><circle cx="494.0" cy="332.4" r="1.15"/><circle cx="515.1" cy="344.3" r="1.15"/><circle cx="509.0" cy="344.6" r="1.15"/><circle cx="508.9" cy="334.0" r="1.15"/><circle cx="512.5" cy="332.3" r="1.15"/><circle cx="500.0" cy="336.6" r="1.15"/><circle cx="499.0" cy="342.4" r="1.15"/><circle cx="501.4" cy="334.6" r="1.15"/><circle cx="518.4" cy="338.2" r="1.15"/><circle cx="515.2" cy="340.5" r="1.15"/><circle cx="491.8" cy="336.4" r="1.15"/><circle cx="503.3" cy="343.5" r="1.15"/><circle cx="500.8" cy="342.2" r="1.15"/><circle cx="506.2" cy="332.6" r="1.15"/><circle cx="514.3" cy="331.7" r="1.15"/><circle cx="491.0" cy="338.0" r="1.15"/><circle cx="504.9" cy="344.0" r="1.15"/><circle cx="496.2" cy="338.0" r="1.15"/><circle cx="500.8" cy="344.7" r="1.15"/><circle cx="499.0" cy="332.5" r="1.15"/><circle cx="510.8" cy="338.1" r="1.15"/><circle cx="494.0" cy="340.8" r="1.15"/><circle cx="510.8" cy="343.8" r="1.15"/><circle cx="508.8" cy="335.3" r="1.15"/><circle cx="502.3" cy="336.1" r="1.15"/><circle cx="496.8" cy="333.5" r="1.15"/><circle cx="516.6" cy="338.2" r="1.15"/><circle cx="501.7" cy="345.7" r="1.15"/><circle cx="497.6" cy="337.4" r="1.15"/><circle cx="506.0" cy="343.2" r="1.15"/><circle cx="512.4" cy="341.0" r="1.15"/><circle cx="500.8" cy="334.7" r="1.15"/><circle cx="495.3" cy="344.9" r="1.15"/><circle cx="509.8" cy="342.9" r="1.15"/><circle cx="495.7" cy="336.9" r="1.15"/><circle cx="512.9" cy="339.7" r="1.15"/><circle cx="494.5" cy="337.4" r="1.15"/><circle cx="516.1" cy="333.0" r="1.15"/><circle cx="496.4" cy="334.2" r="1.15"/><circle cx="510.9" cy="344.9" r="1.15"/><circle cx="495.3" cy="331.4" r="1.15"/><circle cx="498.0" cy="334.7" r="1.15"/><circle cx="505.8" cy="331.5" r="1.15"/><circle cx="500.3" cy="332.0" r="1.15"/><circle cx="493.8" cy="335.9" r="1.15"/><circle cx="511.8" cy="336.9" r="1.15"/><circle cx="496.5" cy="340.9" r="1.15"/><circle cx="493.9" cy="332.4" r="1.15"/><circle cx="502.0" cy="329.0" r="1.15"/><circle cx="502.3" cy="343.9" r="1.15"/><circle cx="510.7" cy="338.2" r="1.15"/><circle cx="508.9" cy="337.4" r="1.15"/><circle cx="494.9" cy="340.2" r="1.15"/><circle cx="502.4" cy="342.9" r="1.15"/><circle cx="516.8" cy="336.8" r="1.15"/><circle cx="507.3" cy="343.1" r="1.15"/><circle cx="502.9" cy="332.8" r="1.15"/><circle cx="511.5" cy="345.6" r="1.15"/><circle cx="513.0" cy="342.1" r="1.15"/><circle cx="515.2" cy="341.7" r="1.15"/><circle cx="509.2" cy="337.2" r="1.15"/><circle cx="499.8" cy="340.7" r="1.15"/><circle cx="493.7" cy="336.6" r="1.15"/><circle cx="513.2" cy="342.3" r="1.15"/><circle cx="508.8" cy="333.2" r="1.15"/><circle cx="503.0" cy="337.3" r="1.15"/><circle cx="508.6" cy="336.4" r="1.15"/><circle cx="510.1" cy="346.6" r="1.15"/><circle cx="496.1" cy="341.2" r="1.15"/><circle cx="513.1" cy="336.0" r="1.15"/><circle cx="504.9" cy="347.5" r="1.15"/><circle cx="492.0" cy="339.0" r="1.15"/><circle cx="495.5" cy="343.7" r="1.15"/><circle cx="517.7" cy="338.5" r="1.15"/><circle cx="493.8" cy="339.6" r="1.15"/><circle cx="506.3" cy="342.4" r="1.15"/><circle cx="505.5" cy="340.9" r="1.15"/><circle cx="514.5" cy="338.6" r="1.15"/><circle cx="502.6" cy="347.0" r="1.15"/><circle cx="496.9" cy="341.8" r="1.15"/><circle cx="502.1" cy="343.3" r="1.15"/><circle cx="501.0" cy="329.4" r="1.15"/><circle cx="498.7" cy="336.2" r="1.15"/><circle cx="491.3" cy="336.5" r="1.15"/><circle cx="502.9" cy="342.1" r="1.15"/><circle cx="500.9" cy="333.5" r="1.15"/><circle cx="497.3" cy="342.9" r="1.15"/><circle cx="517.7" cy="338.7" r="1.15"/><circle cx="497.1" cy="344.1" r="1.15"/><circle cx="502.1" cy="332.5" r="1.15"/><circle cx="494.6" cy="343.6" r="1.15"/><circle cx="517.6" cy="352.2" r="1.15"/><circle cx="514.3" cy="351.5" r="1.15"/><circle cx="513.1" cy="352.2" r="1.15"/><circle cx="517.6" cy="353.9" r="1.15"/><circle cx="514.2" cy="348.9" r="1.15"/><circle cx="515.0" cy="347.2" r="1.15"/><circle cx="517.8" cy="349.4" r="1.15"/><circle cx="518.0" cy="348.6" r="1.15"/><circle cx="513.3" cy="348.5" r="1.15"/><circle cx="513.8" cy="347.8" r="1.15"/><circle cx="512.4" cy="348.4" r="1.15"/><circle cx="512.6" cy="350.7" r="1.15"/><circle cx="513.9" cy="352.2" r="1.15"/><circle cx="516.1" cy="349.5" r="1.15"/><circle cx="518.5" cy="353.6" r="1.15"/><circle cx="511.1" cy="354.1" r="1.15"/><circle cx="516.1" cy="348.4" r="1.15"/><circle cx="512.0" cy="353.5" r="1.15"/><circle cx="513.1" cy="347.5" r="1.15"/><circle cx="518.5" cy="353.7" r="1.15"/><circle cx="515.6" cy="353.6" r="1.15"/><circle cx="487.9" cy="351.7" r="1.15"/><circle cx="489.7" cy="350.8" r="1.15"/><circle cx="480.6" cy="348.4" r="1.15"/><circle cx="485.8" cy="349.2" r="1.15"/><circle cx="484.4" cy="351.6" r="1.15"/><circle cx="486.1" cy="341.4" r="1.15"/><circle cx="481.2" cy="339.3" r="1.15"/><circle cx="485.2" cy="338.0" r="1.15"/><circle cx="484.8" cy="339.4" r="1.15"/><circle cx="485.2" cy="345.2" r="1.15"/><circle cx="485.9" cy="351.2" r="1.15"/><circle cx="484.8" cy="346.3" r="1.15"/><circle cx="487.8" cy="350.9" r="1.15"/><circle cx="483.4" cy="343.9" r="1.15"/><circle cx="487.4" cy="347.5" r="1.15"/><circle cx="478.0" cy="347.1" r="1.15"/><circle cx="488.1" cy="352.4" r="1.15"/><circle cx="485.5" cy="345.0" r="1.15"/><circle cx="488.7" cy="347.3" r="1.15"/><circle cx="482.8" cy="351.2" r="1.15"/><circle cx="483.2" cy="344.8" r="1.15"/><circle cx="503.3" cy="367.0" r="1.15"/><circle cx="498.5" cy="361.2" r="1.15"/><circle cx="501.8" cy="363.3" r="1.15"/><circle cx="507.9" cy="358.8" r="1.15"/><circle cx="508.0" cy="360.7" r="1.15"/><circle cx="503.0" cy="358.4" r="1.15"/><circle cx="503.0" cy="370.6" r="1.15"/><circle cx="505.3" cy="367.4" r="1.15"/><circle cx="500.4" cy="359.2" r="1.15"/><circle cx="499.9" cy="363.8" r="1.15"/><circle cx="505.0" cy="367.3" r="1.15"/><circle cx="508.8" cy="363.1" r="1.15"/><circle cx="496.1" cy="358.9" r="1.15"/><circle cx="509.4" cy="364.2" r="1.15"/><circle cx="505.4" cy="367.4" r="1.15"/><circle cx="509.2" cy="364.3" r="1.15"/><circle cx="504.7" cy="364.5" r="1.15"/><circle cx="506.0" cy="364.0" r="1.15"/><circle cx="505.7" cy="357.4" r="1.15"/><circle cx="505.5" cy="361.6" r="1.15"/><circle cx="507.0" cy="355.5" r="1.15"/><circle cx="507.2" cy="369.5" r="1.15"/><circle cx="505.3" cy="360.1" r="1.15"/><circle cx="507.9" cy="367.3" r="1.15"/><circle cx="503.9" cy="358.2" r="1.15"/><circle cx="499.9" cy="361.0" r="1.15"/><circle cx="500.2" cy="361.2" r="1.15"/><circle cx="505.1" cy="369.9" r="1.15"/><circle cx="496.1" cy="363.5" r="1.15"/><circle cx="507.7" cy="363.7" r="1.15"/><circle cx="509.4" cy="361.4" r="1.15"/><circle cx="495.5" cy="360.4" r="1.15"/><circle cx="504.4" cy="369.9" r="1.15"/><circle cx="510.3" cy="361.9" r="1.15"/><circle cx="501.6" cy="355.5" r="1.15"/><circle cx="505.2" cy="357.4" r="1.15"/><circle cx="506.3" cy="357.9" r="1.15"/><circle cx="506.5" cy="356.9" r="1.15"/><circle cx="506.2" cy="368.5" r="1.15"/><circle cx="506.5" cy="355.2" r="1.15"/><circle cx="504.9" cy="366.0" r="1.15"/><circle cx="502.3" cy="369.8" r="1.15"/><circle cx="500.1" cy="366.3" r="1.15"/><circle cx="497.8" cy="368.6" r="1.15"/><circle cx="502.7" cy="354.7" r="1.15"/><circle cx="500.9" cy="363.6" r="1.15"/><circle cx="502.0" cy="365.4" r="1.15"/><circle cx="497.5" cy="367.5" r="1.15"/><circle cx="500.9" cy="364.9" r="1.15"/><circle cx="504.9" cy="360.9" r="1.15"/><circle cx="501.2" cy="367.3" r="1.15"/><circle cx="504.0" cy="358.8" r="1.15"/><circle cx="506.1" cy="368.0" r="1.15"/><circle cx="500.4" cy="364.2" r="1.15"/><circle cx="504.5" cy="359.0" r="1.15"/><circle cx="501.9" cy="369.1" r="1.15"/><circle cx="501.1" cy="365.5" r="1.15"/><circle cx="504.5" cy="369.2" r="1.15"/><circle cx="507.7" cy="358.6" r="1.15"/><circle cx="501.8" cy="363.8" r="1.15"/><circle cx="507.8" cy="369.1" r="1.15"/><circle cx="507.7" cy="368.7" r="1.15"/><circle cx="504.1" cy="358.4" r="1.15"/><circle cx="508.3" cy="367.7" r="1.15"/><circle cx="505.8" cy="369.5" r="1.15"/><circle cx="500.6" cy="355.2" r="1.15"/><circle cx="503.8" cy="367.5" r="1.15"/><circle cx="498.4" cy="366.7" r="1.15"/><circle cx="504.6" cy="365.4" r="1.15"/><circle cx="502.4" cy="357.3" r="1.15"/><circle cx="499.2" cy="366.7" r="1.15"/><circle cx="507.4" cy="361.7" r="1.15"/><circle cx="507.1" cy="357.7" r="1.15"/><circle cx="504.2" cy="369.2" r="1.15"/><circle cx="508.8" cy="362.7" r="1.15"/><circle cx="502.6" cy="363.9" r="1.15"/><circle cx="498.2" cy="357.0" r="1.15"/><circle cx="498.1" cy="365.8" r="1.15"/><circle cx="500.9" cy="363.5" r="1.15"/><circle cx="501.5" cy="362.6" r="1.15"/><circle cx="496.9" cy="364.6" r="1.15"/><circle cx="521.0" cy="362.0" r="1.15"/><circle cx="518.4" cy="364.5" r="1.15"/><circle cx="517.3" cy="360.3" r="1.15"/><circle cx="522.1" cy="366.3" r="1.15"/><circle cx="517.9" cy="363.4" r="1.15"/><circle cx="520.9" cy="365.5" r="1.15"/><circle cx="512.8" cy="362.3" r="1.15"/><circle cx="517.8" cy="371.3" r="1.15"/><circle cx="516.4" cy="372.3" r="1.15"/><circle cx="518.4" cy="365.2" r="1.15"/><circle cx="513.6" cy="367.3" r="1.15"/><circle cx="519.0" cy="372.4" r="1.15"/><circle cx="519.4" cy="365.1" r="1.15"/><circle cx="516.3" cy="362.1" r="1.15"/><circle cx="513.6" cy="364.6" r="1.15"/><circle cx="521.0" cy="369.2" r="1.15"/><circle cx="519.5" cy="363.9" r="1.15"/><circle cx="518.3" cy="369.9" r="1.15"/><circle cx="511.5" cy="364.2" r="1.15"/><circle cx="513.6" cy="361.6" r="1.15"/><circle cx="516.7" cy="362.2" r="1.15"/><circle cx="513.3" cy="361.9" r="1.15"/><circle cx="520.0" cy="362.5" r="1.15"/><circle cx="512.0" cy="365.8" r="1.15"/><circle cx="533.3" cy="146.9" r="1.15"/><circle cx="529.3" cy="143.9" r="1.15"/><circle cx="533.1" cy="145.3" r="1.15"/><circle cx="531.1" cy="141.9" r="1.15"/><circle cx="532.0" cy="146.1" r="1.15"/><circle cx="527.3" cy="144.6" r="1.15"/><circle cx="526.2" cy="143.2" r="1.15"/><circle cx="533.2" cy="143.8" r="1.15"/><circle cx="526.3" cy="145.5" r="1.15"/><circle cx="527.9" cy="149.7" r="1.15"/><circle cx="523.2" cy="165.8" r="1.15"/><circle cx="521.2" cy="167.0" r="1.15"/><circle cx="519.0" cy="165.7" r="1.15"/><circle cx="517.3" cy="167.1" r="1.15"/><circle cx="523.8" cy="167.1" r="1.15"/><circle cx="524.6" cy="167.9" r="1.15"/><circle cx="524.9" cy="170.8" r="1.15"/><circle cx="518.2" cy="169.4" r="1.15"/><circle cx="525.7" cy="165.9" r="1.15"/><circle cx="522.2" cy="164.7" r="1.15"/><circle cx="518.2" cy="174.7" r="1.15"/><circle cx="523.6" cy="165.6" r="1.15"/><circle cx="522.6" cy="170.3" r="1.15"/><circle cx="519.1" cy="165.8" r="1.15"/><circle cx="522.6" cy="173.7" r="1.15"/><circle cx="524.7" cy="171.7" r="1.15"/><circle cx="523.8" cy="168.9" r="1.15"/><circle cx="523.7" cy="163.4" r="1.15"/><circle cx="524.6" cy="167.8" r="1.15"/><circle cx="525.0" cy="176.2" r="1.15"/><circle cx="521.4" cy="162.7" r="1.15"/><circle cx="536.4" cy="169.4" r="1.15"/><circle cx="535.9" cy="167.6" r="1.15"/><circle cx="527.0" cy="172.6" r="1.15"/><circle cx="529.4" cy="166.7" r="1.15"/><circle cx="529.4" cy="170.5" r="1.15"/><circle cx="524.7" cy="169.8" r="1.15"/><circle cx="550.7" cy="172.0" r="1.15"/><circle cx="547.8" cy="174.0" r="1.15"/><circle cx="554.0" cy="175.6" r="1.15"/><circle cx="549.6" cy="174.0" r="1.15"/><circle cx="550.1" cy="174.4" r="1.15"/><circle cx="555.2" cy="171.7" r="1.15"/><circle cx="551.3" cy="172.1" r="1.15"/><circle cx="551.5" cy="166.8" r="1.15"/><circle cx="548.9" cy="175.1" r="1.15"/><circle cx="552.9" cy="168.6" r="1.15"/><circle cx="546.9" cy="172.8" r="1.15"/><circle cx="551.8" cy="172.0" r="1.15"/><circle cx="553.0" cy="167.7" r="1.15"/><circle cx="554.4" cy="174.1" r="1.15"/><circle cx="551.1" cy="171.8" r="1.15"/><circle cx="549.2" cy="167.9" r="1.15"/><circle cx="538.7" cy="179.7" r="1.15"/><circle cx="540.1" cy="183.1" r="1.15"/><circle cx="524.9" cy="187.9" r="1.15"/><circle cx="531.9" cy="182.6" r="1.15"/><circle cx="527.7" cy="185.9" r="1.15"/><circle cx="533.0" cy="187.3" r="1.15"/><circle cx="527.8" cy="192.7" r="1.15"/><circle cx="532.3" cy="184.8" r="1.15"/><circle cx="526.0" cy="184.8" r="1.15"/><circle cx="528.3" cy="193.3" r="1.15"/><circle cx="532.7" cy="191.5" r="1.15"/><circle cx="523.8" cy="187.2" r="1.15"/><circle cx="526.1" cy="185.9" r="1.15"/><circle cx="530.6" cy="185.2" r="1.15"/><circle cx="510.9" cy="174.4" r="1.15"/><circle cx="509.6" cy="180.1" r="1.15"/><circle cx="516.2" cy="181.8" r="1.15"/><circle cx="514.5" cy="185.1" r="1.15"/><circle cx="512.3" cy="177.0" r="1.15"/><circle cx="512.8" cy="177.1" r="1.15"/><circle cx="511.0" cy="185.6" r="1.15"/><circle cx="512.0" cy="176.8" r="1.15"/><circle cx="510.7" cy="179.2" r="1.15"/><circle cx="545.6" cy="196.4" r="1.15"/><circle cx="539.7" cy="199.1" r="1.15"/><circle cx="538.1" cy="198.7" r="1.15"/><circle cx="515.2" cy="193.4" r="1.15"/><circle cx="511.0" cy="192.7" r="1.15"/><circle cx="512.7" cy="188.1" r="1.15"/><circle cx="511.2" cy="191.9" r="1.15"/><circle cx="511.2" cy="189.5" r="1.15"/><circle cx="509.9" cy="193.9" r="1.15"/><circle cx="514.5" cy="194.8" r="1.15"/><circle cx="512.9" cy="195.4" r="1.15"/><circle cx="510.6" cy="196.2" r="1.15"/><circle cx="512.2" cy="193.9" r="1.15"/><circle cx="513.1" cy="192.8" r="1.15"/><circle cx="511.3" cy="189.5" r="1.15"/><circle cx="510.8" cy="193.4" r="1.15"/><circle cx="511.7" cy="194.4" r="1.15"/><circle cx="514.7" cy="189.4" r="1.15"/><circle cx="505.3" cy="206.8" r="1.15"/><circle cx="500.1" cy="210.1" r="1.15"/><circle cx="511.5" cy="206.2" r="1.15"/><circle cx="495.4" cy="205.6" r="1.15"/><circle cx="503.0" cy="209.7" r="1.15"/><circle cx="496.4" cy="203.7" r="1.15"/><circle cx="497.3" cy="205.0" r="1.15"/><circle cx="501.2" cy="209.0" r="1.15"/><circle cx="506.5" cy="211.0" r="1.15"/><circle cx="510.5" cy="207.1" r="1.15"/><circle cx="508.9" cy="209.8" r="1.15"/><circle cx="509.3" cy="206.6" r="1.15"/><circle cx="509.8" cy="209.4" r="1.15"/><circle cx="509.4" cy="207.9" r="1.15"/><circle cx="504.1" cy="212.4" r="1.15"/><circle cx="505.6" cy="205.9" r="1.15"/><circle cx="509.8" cy="211.3" r="1.15"/><circle cx="506.3" cy="205.5" r="1.15"/><circle cx="503.2" cy="206.4" r="1.15"/><circle cx="508.6" cy="204.5" r="1.15"/><circle cx="502.0" cy="207.6" r="1.15"/><circle cx="501.9" cy="204.8" r="1.15"/><circle cx="509.9" cy="211.0" r="1.15"/><circle cx="504.1" cy="206.2" r="1.15"/><circle cx="497.9" cy="204.6" r="1.15"/><circle cx="497.1" cy="207.8" r="1.15"/><circle cx="505.8" cy="202.0" r="1.15"/><circle cx="512.5" cy="204.8" r="1.15"/><circle cx="511.0" cy="210.9" r="1.15"/><circle cx="502.7" cy="211.7" r="1.15"/><circle cx="505.4" cy="206.9" r="1.15"/><circle cx="506.8" cy="223.9" r="1.15"/><circle cx="506.5" cy="216.9" r="1.15"/><circle cx="508.7" cy="215.0" r="1.15"/><circle cx="504.4" cy="218.0" r="1.15"/><circle cx="504.3" cy="223.1" r="1.15"/><circle cx="508.6" cy="217.0" r="1.15"/><circle cx="501.0" cy="214.8" r="1.15"/><circle cx="505.0" cy="217.5" r="1.15"/><circle cx="507.2" cy="222.2" r="1.15"/><circle cx="512.3" cy="216.5" r="1.15"/><circle cx="505.5" cy="218.5" r="1.15"/><circle cx="506.6" cy="221.2" r="1.15"/><circle cx="501.9" cy="214.0" r="1.15"/><circle cx="506.4" cy="211.0" r="1.15"/><circle cx="511.4" cy="219.4" r="1.15"/><circle cx="511.3" cy="215.5" r="1.15"/><circle cx="501.7" cy="213.6" r="1.15"/><circle cx="506.4" cy="216.7" r="1.15"/><circle cx="502.2" cy="212.0" r="1.15"/><circle cx="508.0" cy="218.1" r="1.15"/><circle cx="508.0" cy="210.0" r="1.15"/><circle cx="505.1" cy="220.8" r="1.15"/><circle cx="503.7" cy="219.4" r="1.15"/><circle cx="510.7" cy="217.9" r="1.15"/><circle cx="508.5" cy="212.3" r="1.15"/><circle cx="506.2" cy="217.4" r="1.15"/><circle cx="503.2" cy="218.8" r="1.15"/><circle cx="506.7" cy="223.9" r="1.15"/><circle cx="507.2" cy="215.4" r="1.15"/><circle cx="509.6" cy="210.9" r="1.15"/><circle cx="506.5" cy="221.3" r="1.15"/><circle cx="507.7" cy="221.1" r="1.15"/><circle cx="509.8" cy="214.1" r="1.15"/><circle cx="509.1" cy="214.5" r="1.15"/><circle cx="501.9" cy="213.3" r="1.15"/><circle cx="507.3" cy="214.5" r="1.15"/><circle cx="505.6" cy="215.0" r="1.15"/><circle cx="507.3" cy="223.3" r="1.15"/><circle cx="505.5" cy="218.4" r="1.15"/><circle cx="503.8" cy="222.4" r="1.15"/><circle cx="510.4" cy="213.8" r="1.15"/><circle cx="507.6" cy="223.3" r="1.15"/><circle cx="506.2" cy="223.2" r="1.15"/><circle cx="502.9" cy="215.1" r="1.15"/><circle cx="509.1" cy="212.6" r="1.15"/><circle cx="503.7" cy="222.1" r="1.15"/><circle cx="506.0" cy="220.9" r="1.15"/><circle cx="502.9" cy="211.9" r="1.15"/><circle cx="504.4" cy="212.1" r="1.15"/><circle cx="507.1" cy="211.1" r="1.15"/><circle cx="491.4" cy="213.9" r="1.15"/><circle cx="490.1" cy="210.2" r="1.15"/><circle cx="487.3" cy="219.0" r="1.15"/><circle cx="489.6" cy="212.2" r="1.15"/><circle cx="488.0" cy="212.7" r="1.15"/><circle cx="492.8" cy="213.4" r="1.15"/><circle cx="487.6" cy="217.6" r="1.15"/><circle cx="486.9" cy="212.5" r="1.15"/><circle cx="490.5" cy="219.1" r="1.15"/><circle cx="494.2" cy="211.2" r="1.15"/><circle cx="489.6" cy="217.8" r="1.15"/><circle cx="489.8" cy="220.5" r="1.15"/><circle cx="491.1" cy="212.0" r="1.15"/><circle cx="490.6" cy="210.9" r="1.15"/><circle cx="493.2" cy="212.4" r="1.15"/><circle cx="495.2" cy="216.2" r="1.15"/><circle cx="489.8" cy="212.3" r="1.15"/><circle cx="492.2" cy="211.9" r="1.15"/><circle cx="491.2" cy="215.7" r="1.15"/><circle cx="488.8" cy="218.4" r="1.15"/><circle cx="489.9" cy="217.0" r="1.15"/><circle cx="491.8" cy="213.0" r="1.15"/><circle cx="490.0" cy="210.4" r="1.15"/><circle cx="487.8" cy="219.3" r="1.15"/><circle cx="489.3" cy="217.1" r="1.15"/><circle cx="487.1" cy="215.9" r="1.15"/><circle cx="489.7" cy="215.2" r="1.15"/><circle cx="518.0" cy="216.0" r="1.15"/><circle cx="518.2" cy="218.6" r="1.15"/><circle cx="516.3" cy="226.3" r="1.15"/><circle cx="517.9" cy="221.4" r="1.15"/><circle cx="524.3" cy="227.2" r="1.15"/><circle cx="516.3" cy="219.4" r="1.15"/><circle cx="521.8" cy="220.6" r="1.15"/><circle cx="519.2" cy="225.4" r="1.15"/><circle cx="522.1" cy="218.9" r="1.15"/><circle cx="523.6" cy="220.6" r="1.15"/><circle cx="521.4" cy="217.9" r="1.15"/><circle cx="522.5" cy="226.3" r="1.15"/><circle cx="516.7" cy="218.1" r="1.15"/><circle cx="518.1" cy="221.0" r="1.15"/><circle cx="515.4" cy="219.9" r="1.15"/><circle cx="521.5" cy="217.8" r="1.15"/><circle cx="523.6" cy="224.0" r="1.15"/><circle cx="522.3" cy="219.0" r="1.15"/><circle cx="519.4" cy="225.8" r="1.15"/><circle cx="523.5" cy="227.3" r="1.15"/><circle cx="523.7" cy="224.6" r="1.15"/><circle cx="516.1" cy="227.5" r="1.15"/><circle cx="522.6" cy="216.4" r="1.15"/><circle cx="522.1" cy="221.2" r="1.15"/><circle cx="522.6" cy="228.1" r="1.15"/><circle cx="517.9" cy="216.4" r="1.15"/><circle cx="524.7" cy="221.7" r="1.15"/><circle cx="524.5" cy="225.9" r="1.15"/><circle cx="522.5" cy="228.1" r="1.15"/><circle cx="521.4" cy="222.2" r="1.15"/><circle cx="515.6" cy="226.0" r="1.15"/><circle cx="519.4" cy="223.1" r="1.15"/><circle cx="522.2" cy="227.7" r="1.15"/><circle cx="517.7" cy="223.6" r="1.15"/><circle cx="524.9" cy="225.1" r="1.15"/><circle cx="520.5" cy="218.9" r="1.15"/><circle cx="515.6" cy="220.7" r="1.15"/><circle cx="519.2" cy="218.2" r="1.15"/><circle cx="518.2" cy="217.2" r="1.15"/><circle cx="522.2" cy="225.6" r="1.15"/><circle cx="517.4" cy="218.8" r="1.15"/><circle cx="520.3" cy="222.0" r="1.15"/><circle cx="504.1" cy="231.9" r="1.15"/><circle cx="500.2" cy="236.7" r="1.15"/><circle cx="499.2" cy="233.8" r="1.15"/><circle cx="500.4" cy="236.1" r="1.15"/><circle cx="501.7" cy="235.6" r="1.15"/><circle cx="499.3" cy="234.7" r="1.15"/><circle cx="502.0" cy="232.9" r="1.15"/><circle cx="498.9" cy="246.6" r="1.15"/><circle cx="493.0" cy="239.1" r="1.15"/><circle cx="495.2" cy="237.9" r="1.15"/><circle cx="492.5" cy="238.9" r="1.15"/><circle cx="493.8" cy="244.8" r="1.15"/><circle cx="496.0" cy="236.6" r="1.15"/><circle cx="494.9" cy="241.6" r="1.15"/><circle cx="495.3" cy="237.4" r="1.15"/><circle cx="471.5" cy="238.5" r="1.15"/><circle cx="479.3" cy="237.2" r="1.15"/><circle cx="471.7" cy="236.6" r="1.15"/><circle cx="474.6" cy="234.0" r="1.15"/><circle cx="475.5" cy="232.4" r="1.15"/><circle cx="478.8" cy="237.9" r="1.15"/><circle cx="476.3" cy="240.4" r="1.15"/><circle cx="476.5" cy="234.5" r="1.15"/><circle cx="472.9" cy="233.5" r="1.15"/><circle cx="478.1" cy="234.9" r="1.15"/><circle cx="438.5" cy="241.9" r="1.15"/><circle cx="438.2" cy="244.0" r="1.15"/><circle cx="450.8" cy="243.4" r="1.15"/><circle cx="441.2" cy="235.6" r="1.15"/><circle cx="450.7" cy="237.5" r="1.15"/><circle cx="442.0" cy="240.7" r="1.15"/><circle cx="442.0" cy="244.6" r="1.15"/><circle cx="445.8" cy="241.8" r="1.15"/><circle cx="450.6" cy="242.9" r="1.15"/><circle cx="444.4" cy="240.0" r="1.15"/><circle cx="438.0" cy="237.2" r="1.15"/><circle cx="446.0" cy="234.1" r="1.15"/><circle cx="448.1" cy="235.3" r="1.15"/><circle cx="443.4" cy="246.6" r="1.15"/><circle cx="443.4" cy="235.7" r="1.15"/><circle cx="451.0" cy="245.0" r="1.15"/><circle cx="450.0" cy="239.0" r="1.15"/><circle cx="440.4" cy="242.3" r="1.15"/><circle cx="444.8" cy="238.9" r="1.15"/><circle cx="441.4" cy="239.1" r="1.15"/><circle cx="447.7" cy="244.6" r="1.15"/><circle cx="440.6" cy="239.2" r="1.15"/><circle cx="445.7" cy="237.9" r="1.15"/><circle cx="441.2" cy="239.4" r="1.15"/><circle cx="453.3" cy="241.7" r="1.15"/><circle cx="447.9" cy="241.5" r="1.15"/><circle cx="440.6" cy="241.0" r="1.15"/><circle cx="453.1" cy="239.7" r="1.15"/><circle cx="447.3" cy="237.2" r="1.15"/><circle cx="441.5" cy="245.4" r="1.15"/><circle cx="447.9" cy="239.3" r="1.15"/><circle cx="436.6" cy="242.2" r="1.15"/><circle cx="442.1" cy="241.1" r="1.15"/><circle cx="442.9" cy="240.4" r="1.15"/><circle cx="445.7" cy="238.5" r="1.15"/><circle cx="450.3" cy="240.5" r="1.15"/><circle cx="440.8" cy="235.9" r="1.15"/><circle cx="445.0" cy="237.5" r="1.15"/><circle cx="444.3" cy="240.5" r="1.15"/><circle cx="440.4" cy="240.7" r="1.15"/><circle cx="438.7" cy="240.1" r="1.15"/><circle cx="445.8" cy="235.8" r="1.15"/><circle cx="443.1" cy="235.7" r="1.15"/><circle cx="443.6" cy="243.6" r="1.15"/><circle cx="445.3" cy="242.1" r="1.15"/><circle cx="448.4" cy="236.1" r="1.15"/><circle cx="442.9" cy="236.7" r="1.15"/><circle cx="451.4" cy="240.6" r="1.15"/><circle cx="448.6" cy="236.4" r="1.15"/><circle cx="440.6" cy="238.7" r="1.15"/><circle cx="437.2" cy="240.9" r="1.15"/><circle cx="440.2" cy="238.0" r="1.15"/><circle cx="447.6" cy="239.3" r="1.15"/><circle cx="450.3" cy="241.2" r="1.15"/><circle cx="450.1" cy="240.6" r="1.15"/><circle cx="439.5" cy="242.5" r="1.15"/><circle cx="442.1" cy="242.6" r="1.15"/><circle cx="447.2" cy="243.3" r="1.15"/><circle cx="438.8" cy="238.7" r="1.15"/><circle cx="446.1" cy="236.0" r="1.15"/><circle cx="445.2" cy="243.0" r="1.15"/><circle cx="447.1" cy="237.5" r="1.15"/><circle cx="439.9" cy="239.5" r="1.15"/><circle cx="449.6" cy="240.8" r="1.15"/><circle cx="438.7" cy="243.0" r="1.15"/><circle cx="449.3" cy="247.7" r="1.15"/><circle cx="450.3" cy="249.2" r="1.15"/><circle cx="451.2" cy="242.7" r="1.15"/><circle cx="455.8" cy="247.5" r="1.15"/><circle cx="454.1" cy="250.7" r="1.15"/><circle cx="450.8" cy="242.8" r="1.15"/><circle cx="452.3" cy="251.5" r="1.15"/><circle cx="449.3" cy="250.8" r="1.15"/><circle cx="454.0" cy="245.7" r="1.15"/><circle cx="452.1" cy="242.9" r="1.15"/><circle cx="455.5" cy="245.7" r="1.15"/><circle cx="455.8" cy="248.3" r="1.15"/><circle cx="448.3" cy="245.0" r="1.15"/><circle cx="449.6" cy="251.7" r="1.15"/><circle cx="453.1" cy="241.5" r="1.15"/><circle cx="451.5" cy="255.7" r="1.15"/><circle cx="454.2" cy="258.5" r="1.15"/><circle cx="453.5" cy="255.6" r="1.15"/><circle cx="454.1" cy="263.8" r="1.15"/><circle cx="456.0" cy="254.5" r="1.15"/><circle cx="452.5" cy="257.5" r="1.15"/><circle cx="452.4" cy="258.4" r="1.15"/><circle cx="454.8" cy="263.4" r="1.15"/><circle cx="455.0" cy="261.0" r="1.15"/><circle cx="457.9" cy="261.1" r="1.15"/><circle cx="455.7" cy="259.3" r="1.15"/><circle cx="434.4" cy="252.8" r="1.15"/><circle cx="437.2" cy="256.7" r="1.15"/><circle cx="438.2" cy="255.4" r="1.15"/><circle cx="434.0" cy="256.0" r="1.15"/><circle cx="436.1" cy="261.4" r="1.15"/><circle cx="435.5" cy="260.6" r="1.15"/><circle cx="435.0" cy="260.9" r="1.15"/><circle cx="422.5" cy="264.6" r="1.15"/><circle cx="426.3" cy="264.8" r="1.15"/><circle cx="424.2" cy="263.8" r="1.15"/><circle cx="425.1" cy="263.0" r="1.15"/><circle cx="426.1" cy="265.4" r="1.15"/><circle cx="427.1" cy="264.3" r="1.15"/><circle cx="424.7" cy="264.3" r="1.15"/><circle cx="428.5" cy="266.2" r="1.15"/><circle cx="430.4" cy="264.6" r="1.15"/><circle cx="440.7" cy="258.0" r="1.15"/><circle cx="412.7" cy="244.1" r="1.15"/><circle cx="411.3" cy="243.1" r="1.15"/><circle cx="411.7" cy="243.6" r="1.15"/><circle cx="401.6" cy="250.8" r="1.15"/><circle cx="407.0" cy="249.4" r="1.15"/><circle cx="402.3" cy="249.4" r="1.15"/><circle cx="407.6" cy="270.0" r="1.15"/><circle cx="405.3" cy="269.8" r="1.15"/><circle cx="406.8" cy="277.0" r="1.15"/><circle cx="407.2" cy="269.7" r="1.15"/><circle cx="406.8" cy="268.5" r="1.15"/><circle cx="408.4" cy="277.1" r="1.15"/><circle cx="404.9" cy="269.1" r="1.15"/><circle cx="403.7" cy="273.5" r="1.15"/><circle cx="408.9" cy="274.6" r="1.15"/><circle cx="404.8" cy="275.8" r="1.15"/><circle cx="407.2" cy="272.0" r="1.15"/><circle cx="407.4" cy="271.3" r="1.15"/><circle cx="402.7" cy="272.1" r="1.15"/><circle cx="402.6" cy="274.4" r="1.15"/><circle cx="421.4" cy="250.8" r="1.15"/><circle cx="422.5" cy="249.3" r="1.15"/><circle cx="438.8" cy="283.2" r="1.15"/><circle cx="451.0" cy="291.6" r="1.15"/><circle cx="442.8" cy="294.1" r="1.15"/><circle cx="435.3" cy="284.4" r="1.15"/><circle cx="430.7" cy="285.2" r="1.15"/><circle cx="446.9" cy="284.4" r="1.15"/><circle cx="448.1" cy="289.5" r="1.15"/><circle cx="440.8" cy="292.0" r="1.15"/><circle cx="441.3" cy="293.1" r="1.15"/><circle cx="442.5" cy="288.1" r="1.15"/><circle cx="446.2" cy="286.9" r="1.15"/><circle cx="445.4" cy="294.7" r="1.15"/><circle cx="447.1" cy="287.7" r="1.15"/><circle cx="438.6" cy="287.3" r="1.15"/><circle cx="440.4" cy="297.4" r="1.15"/><circle cx="439.2" cy="293.0" r="1.15"/><circle cx="447.0" cy="288.5" r="1.15"/><circle cx="446.6" cy="284.4" r="1.15"/><circle cx="428.2" cy="290.7" r="1.15"/><circle cx="441.3" cy="285.8" r="1.15"/><circle cx="451.4" cy="288.6" r="1.15"/><circle cx="430.5" cy="285.7" r="1.15"/><circle cx="446.1" cy="297.1" r="1.15"/><circle cx="447.1" cy="286.7" r="1.15"/><circle cx="452.5" cy="290.6" r="1.15"/><circle cx="443.4" cy="288.3" r="1.15"/><circle cx="447.7" cy="290.0" r="1.15"/><circle cx="435.1" cy="296.8" r="1.15"/><circle cx="429.4" cy="294.2" r="1.15"/><circle cx="428.3" cy="292.9" r="1.15"/><circle cx="437.2" cy="296.2" r="1.15"/><circle cx="428.2" cy="291.6" r="1.15"/><circle cx="437.4" cy="297.1" r="1.15"/><circle cx="451.5" cy="292.6" r="1.15"/><circle cx="432.5" cy="286.9" r="1.15"/><circle cx="433.5" cy="289.6" r="1.15"/><circle cx="432.7" cy="286.1" r="1.15"/><circle cx="446.6" cy="292.8" r="1.15"/><circle cx="432.3" cy="291.7" r="1.15"/><circle cx="430.7" cy="296.2" r="1.15"/><circle cx="449.5" cy="287.1" r="1.15"/><circle cx="446.4" cy="295.6" r="1.15"/><circle cx="434.1" cy="288.1" r="1.15"/><circle cx="439.4" cy="296.6" r="1.15"/><circle cx="430.9" cy="293.4" r="1.15"/><circle cx="442.4" cy="289.9" r="1.15"/><circle cx="441.9" cy="296.5" r="1.15"/><circle cx="432.1" cy="296.5" r="1.15"/><circle cx="436.1" cy="294.9" r="1.15"/><circle cx="449.4" cy="285.8" r="1.15"/><circle cx="430.6" cy="294.3" r="1.15"/><circle cx="444.6" cy="284.4" r="1.15"/><circle cx="435.6" cy="297.1" r="1.15"/><circle cx="445.5" cy="296.5" r="1.15"/><circle cx="432.8" cy="295.1" r="1.15"/><circle cx="444.8" cy="283.6" r="1.15"/><circle cx="439.9" cy="286.5" r="1.15"/><circle cx="438.0" cy="284.6" r="1.15"/><circle cx="435.0" cy="296.4" r="1.15"/><circle cx="429.8" cy="290.5" r="1.15"/><circle cx="430.2" cy="289.6" r="1.15"/><circle cx="452.5" cy="284.6" r="1.15"/><circle cx="452.3" cy="285.0" r="1.15"/><circle cx="455.3" cy="279.7" r="1.15"/><circle cx="454.0" cy="283.0" r="1.15"/><circle cx="458.9" cy="281.7" r="1.15"/><circle cx="458.6" cy="285.0" r="1.15"/><circle cx="453.3" cy="280.2" r="1.15"/><circle cx="453.3" cy="279.3" r="1.15"/><circle cx="462.3" cy="282.0" r="1.15"/><circle cx="465.1" cy="282.4" r="1.15"/><circle cx="467.2" cy="283.2" r="1.15"/><circle cx="466.1" cy="282.3" r="1.15"/><circle cx="468.6" cy="283.8" r="1.15"/><circle cx="465.0" cy="280.3" r="1.15"/><circle cx="465.1" cy="286.0" r="1.15"/><circle cx="444.4" cy="289.4" r="1.15"/><circle cx="444.7" cy="286.3" r="1.15"/><circle cx="447.5" cy="296.5" r="1.15"/><circle cx="442.6" cy="292.4" r="1.15"/><circle cx="444.3" cy="287.6" r="1.15"/><circle cx="441.8" cy="285.9" r="1.15"/><circle cx="450.8" cy="294.7" r="1.15"/><circle cx="448.7" cy="288.6" r="1.15"/><circle cx="448.0" cy="291.6" r="1.15"/><circle cx="450.9" cy="291.1" r="1.15"/><circle cx="442.3" cy="292.6" r="1.15"/><circle cx="449.4" cy="289.4" r="1.15"/><circle cx="449.0" cy="289.6" r="1.15"/><circle cx="446.4" cy="292.4" r="1.15"/><circle cx="448.5" cy="288.6" r="1.15"/><circle cx="447.8" cy="291.5" r="1.15"/><circle cx="442.1" cy="292.4" r="1.15"/><circle cx="442.7" cy="296.3" r="1.15"/><circle cx="445.6" cy="293.9" r="1.15"/><circle cx="446.3" cy="290.6" r="1.15"/><circle cx="442.1" cy="286.3" r="1.15"/><circle cx="452.0" cy="291.3" r="1.15"/><circle cx="446.3" cy="291.3" r="1.15"/><circle cx="450.4" cy="287.5" r="1.15"/><circle cx="441.4" cy="295.2" r="1.15"/><circle cx="445.4" cy="292.8" r="1.15"/><circle cx="444.3" cy="295.3" r="1.15"/><circle cx="450.4" cy="286.0" r="1.15"/><circle cx="441.2" cy="287.7" r="1.15"/><circle cx="440.4" cy="289.1" r="1.15"/><circle cx="450.2" cy="291.2" r="1.15"/><circle cx="445.3" cy="285.6" r="1.15"/><circle cx="399.2" cy="282.1" r="1.15"/><circle cx="398.0" cy="283.2" r="1.15"/><circle cx="376.8" cy="316.0" r="1.15"/><circle cx="375.8" cy="318.4" r="1.15"/><circle cx="373.8" cy="317.0" r="1.15"/><circle cx="371.9" cy="318.1" r="1.15"/><circle cx="372.1" cy="314.6" r="1.15"/><circle cx="369.8" cy="320.6" r="1.15"/><circle cx="376.3" cy="317.4" r="1.15"/><circle cx="371.4" cy="317.0" r="1.15"/><circle cx="375.3" cy="323.7" r="1.15"/><circle cx="369.8" cy="319.0" r="1.15"/><circle cx="377.2" cy="321.1" r="1.15"/><circle cx="371.9" cy="314.9" r="1.15"/><circle cx="372.8" cy="318.4" r="1.15"/><circle cx="376.2" cy="317.6" r="1.15"/><circle cx="372.4" cy="321.4" r="1.15"/><circle cx="377.4" cy="318.2" r="1.15"/><circle cx="372.1" cy="320.6" r="1.15"/><circle cx="372.0" cy="321.6" r="1.15"/><circle cx="371.4" cy="315.2" r="1.15"/><circle cx="376.8" cy="318.5" r="1.15"/><circle cx="373.9" cy="319.8" r="1.15"/><circle cx="378.6" cy="322.6" r="1.15"/><circle cx="367.6" cy="320.8" r="1.15"/><circle cx="373.1" cy="319.4" r="1.15"/><circle cx="377.8" cy="318.9" r="1.15"/><circle cx="373.2" cy="324.0" r="1.15"/><circle cx="372.8" cy="319.7" r="1.15"/><circle cx="373.7" cy="323.3" r="1.15"/><circle cx="375.7" cy="322.4" r="1.15"/><circle cx="372.3" cy="314.8" r="1.15"/><circle cx="375.8" cy="320.4" r="1.15"/><circle cx="376.9" cy="322.7" r="1.15"/><circle cx="368.8" cy="316.8" r="1.15"/><circle cx="376.7" cy="320.5" r="1.15"/><circle cx="368.0" cy="321.8" r="1.15"/><circle cx="376.2" cy="319.6" r="1.15"/><circle cx="368.0" cy="321.9" r="1.15"/><circle cx="372.5" cy="320.7" r="1.15"/><circle cx="371.5" cy="320.0" r="1.15"/><circle cx="370.7" cy="317.2" r="1.15"/><circle cx="371.2" cy="317.2" r="1.15"/><circle cx="431.8" cy="314.8" r="1.15"/><circle cx="426.5" cy="313.6" r="1.15"/><circle cx="419.5" cy="312.6" r="1.15"/><circle cx="432.0" cy="316.9" r="1.15"/><circle cx="431.8" cy="312.2" r="1.15"/><circle cx="426.9" cy="313.2" r="1.15"/><circle cx="425.8" cy="314.2" r="1.15"/><circle cx="427.6" cy="313.1" r="1.15"/><circle cx="431.0" cy="311.7" r="1.15"/><circle cx="432.8" cy="314.8" r="1.15"/><circle cx="419.5" cy="312.7" r="1.15"/><circle cx="426.9" cy="313.5" r="1.15"/><circle cx="427.3" cy="312.8" r="1.15"/><circle cx="422.9" cy="316.8" r="1.15"/><circle cx="423.2" cy="316.1" r="1.15"/><circle cx="438.1" cy="298.3" r="1.15"/><circle cx="433.0" cy="307.0" r="1.15"/><circle cx="432.9" cy="305.5" r="1.15"/><circle cx="427.2" cy="294.3" r="1.15"/><circle cx="435.7" cy="284.6" r="1.15"/><circle cx="435.1" cy="287.9" r="1.15"/><circle cx="439.9" cy="297.5" r="1.15"/><circle cx="438.1" cy="296.0" r="1.15"/><circle cx="436.2" cy="300.4" r="1.15"/><circle cx="430.7" cy="288.7" r="1.15"/><circle cx="438.6" cy="287.1" r="1.15"/><circle cx="432.5" cy="300.0" r="1.15"/><circle cx="430.2" cy="306.2" r="1.15"/><circle cx="436.4" cy="287.3" r="1.15"/><circle cx="427.2" cy="300.9" r="1.15"/><circle cx="430.7" cy="289.3" r="1.15"/><circle cx="434.9" cy="291.4" r="1.15"/><circle cx="434.6" cy="287.3" r="1.15"/><circle cx="439.7" cy="291.6" r="1.15"/><circle cx="438.7" cy="287.2" r="1.15"/><circle cx="432.1" cy="284.2" r="1.15"/><circle cx="431.9" cy="299.5" r="1.15"/><circle cx="429.7" cy="297.2" r="1.15"/><circle cx="427.8" cy="295.1" r="1.15"/><circle cx="437.0" cy="294.2" r="1.15"/><circle cx="436.3" cy="286.3" r="1.15"/><circle cx="440.1" cy="296.7" r="1.15"/><circle cx="430.6" cy="292.2" r="1.15"/><circle cx="437.4" cy="295.9" r="1.15"/><circle cx="433.5" cy="305.2" r="1.15"/><circle cx="435.1" cy="297.0" r="1.15"/><circle cx="430.4" cy="305.9" r="1.15"/><circle cx="438.7" cy="289.1" r="1.15"/><circle cx="435.1" cy="307.8" r="1.15"/><circle cx="431.4" cy="307.2" r="1.15"/><circle cx="436.0" cy="284.7" r="1.15"/><circle cx="431.3" cy="294.7" r="1.15"/><circle cx="430.0" cy="302.1" r="1.15"/><circle cx="429.0" cy="303.3" r="1.15"/><circle cx="430.8" cy="285.1" r="1.15"/><circle cx="434.6" cy="285.8" r="1.15"/><circle cx="434.5" cy="303.3" r="1.15"/><circle cx="435.1" cy="295.0" r="1.15"/><circle cx="426.9" cy="296.3" r="1.15"/><circle cx="427.8" cy="299.7" r="1.15"/><circle cx="428.3" cy="298.0" r="1.15"/><circle cx="431.6" cy="292.8" r="1.15"/><circle cx="436.1" cy="287.5" r="1.15"/><circle cx="431.2" cy="304.6" r="1.15"/><circle cx="439.2" cy="295.5" r="1.15"/><circle cx="433.6" cy="296.9" r="1.15"/><circle cx="428.1" cy="295.2" r="1.15"/><circle cx="428.8" cy="296.9" r="1.15"/><circle cx="433.8" cy="292.6" r="1.15"/><circle cx="429.3" cy="293.6" r="1.15"/><circle cx="429.4" cy="286.6" r="1.15"/><circle cx="429.9" cy="305.4" r="1.15"/><circle cx="433.7" cy="305.8" r="1.15"/><circle cx="433.5" cy="303.3" r="1.15"/><circle cx="434.7" cy="300.8" r="1.15"/><circle cx="429.7" cy="302.3" r="1.15"/><circle cx="428.6" cy="290.1" r="1.15"/><circle cx="426.9" cy="293.3" r="1.15"/><circle cx="434.0" cy="290.8" r="1.15"/><circle cx="434.8" cy="289.3" r="1.15"/><circle cx="435.1" cy="303.2" r="1.15"/><circle cx="436.8" cy="285.0" r="1.15"/><circle cx="430.0" cy="298.5" r="1.15"/><circle cx="435.4" cy="300.8" r="1.15"/><circle cx="438.3" cy="292.0" r="1.15"/><circle cx="438.2" cy="295.0" r="1.15"/><circle cx="440.1" cy="293.8" r="1.15"/><circle cx="432.3" cy="285.6" r="1.15"/><circle cx="430.0" cy="301.9" r="1.15"/><circle cx="436.3" cy="287.2" r="1.15"/><circle cx="431.4" cy="286.9" r="1.15"/><circle cx="429.3" cy="288.9" r="1.15"/><circle cx="433.4" cy="295.9" r="1.15"/><circle cx="437.8" cy="306.3" r="1.15"/><circle cx="437.4" cy="299.4" r="1.15"/><circle cx="429.3" cy="299.2" r="1.15"/><circle cx="438.7" cy="303.2" r="1.15"/><circle cx="427.7" cy="301.5" r="1.15"/><circle cx="431.5" cy="287.5" r="1.15"/><circle cx="440.5" cy="300.4" r="1.15"/><circle cx="437.3" cy="286.8" r="1.15"/><circle cx="439.6" cy="302.2" r="1.15"/><circle cx="438.6" cy="303.6" r="1.15"/><circle cx="435.0" cy="294.4" r="1.15"/><circle cx="438.4" cy="303.2" r="1.15"/><circle cx="439.1" cy="290.9" r="1.15"/><circle cx="440.4" cy="296.8" r="1.15"/><circle cx="430.1" cy="304.5" r="1.15"/><circle cx="429.8" cy="288.4" r="1.15"/><circle cx="433.1" cy="289.4" r="1.15"/><circle cx="433.6" cy="306.3" r="1.15"/><circle cx="424.7" cy="329.5" r="1.15"/><circle cx="420.2" cy="330.4" r="1.15"/><circle cx="426.3" cy="329.2" r="1.15"/><circle cx="420.4" cy="322.0" r="1.15"/><circle cx="424.2" cy="331.0" r="1.15"/><circle cx="419.4" cy="328.1" r="1.15"/><circle cx="427.0" cy="330.5" r="1.15"/><circle cx="414.3" cy="326.9" r="1.15"/><circle cx="426.6" cy="326.0" r="1.15"/><circle cx="423.5" cy="326.5" r="1.15"/><circle cx="419.3" cy="323.6" r="1.15"/><circle cx="419.6" cy="331.1" r="1.15"/><circle cx="423.7" cy="324.5" r="1.15"/><circle cx="415.5" cy="324.3" r="1.15"/><circle cx="424.9" cy="326.3" r="1.15"/><circle cx="424.3" cy="330.7" r="1.15"/><circle cx="416.0" cy="329.2" r="1.15"/><circle cx="417.0" cy="324.3" r="1.15"/><circle cx="428.9" cy="325.3" r="1.15"/><circle cx="417.6" cy="331.7" r="1.15"/><circle cx="423.5" cy="331.7" r="1.15"/><circle cx="420.2" cy="327.0" r="1.15"/><circle cx="428.8" cy="327.1" r="1.15"/><circle cx="426.9" cy="322.9" r="1.15"/><circle cx="421.2" cy="330.7" r="1.15"/><circle cx="418.0" cy="325.2" r="1.15"/><circle cx="415.7" cy="327.6" r="1.15"/><circle cx="427.4" cy="327.2" r="1.15"/><circle cx="420.0" cy="332.1" r="1.15"/><circle cx="427.9" cy="329.0" r="1.15"/><circle cx="415.4" cy="328.5" r="1.15"/><circle cx="421.0" cy="332.5" r="1.15"/><circle cx="419.7" cy="328.9" r="1.15"/><circle cx="423.9" cy="325.5" r="1.15"/><circle cx="422.2" cy="329.1" r="1.15"/><circle cx="428.1" cy="327.0" r="1.15"/><circle cx="419.8" cy="332.7" r="1.15"/><circle cx="424.7" cy="327.7" r="1.15"/><circle cx="421.1" cy="330.0" r="1.15"/><circle cx="427.8" cy="329.7" r="1.15"/><circle cx="419.2" cy="322.6" r="1.15"/><circle cx="416.4" cy="328.1" r="1.15"/><circle cx="403.5" cy="331.6" r="1.15"/><circle cx="401.3" cy="340.0" r="1.15"/><circle cx="404.2" cy="334.4" r="1.15"/><circle cx="405.7" cy="334.5" r="1.15"/><circle cx="403.1" cy="336.0" r="1.15"/><circle cx="406.2" cy="339.1" r="1.15"/><circle cx="401.1" cy="342.6" r="1.15"/><circle cx="405.0" cy="339.3" r="1.15"/><circle cx="399.9" cy="332.9" r="1.15"/><circle cx="403.4" cy="340.9" r="1.15"/><circle cx="406.0" cy="335.2" r="1.15"/><circle cx="398.3" cy="337.2" r="1.15"/><circle cx="405.4" cy="333.0" r="1.15"/><circle cx="400.3" cy="331.6" r="1.15"/><circle cx="400.1" cy="335.6" r="1.15"/><circle cx="398.8" cy="334.7" r="1.15"/><circle cx="400.4" cy="336.3" r="1.15"/><circle cx="397.9" cy="334.1" r="1.15"/><circle cx="401.3" cy="335.6" r="1.15"/><circle cx="402.0" cy="341.0" r="1.15"/><circle cx="404.2" cy="340.3" r="1.15"/><circle cx="400.3" cy="332.8" r="1.15"/><circle cx="405.6" cy="336.6" r="1.15"/><circle cx="403.2" cy="339.0" r="1.15"/><circle cx="405.6" cy="334.3" r="1.15"/><circle cx="400.9" cy="342.0" r="1.15"/><circle cx="402.9" cy="334.5" r="1.15"/><circle cx="404.1" cy="334.1" r="1.15"/><circle cx="406.4" cy="337.8" r="1.15"/><circle cx="400.8" cy="342.3" r="1.15"/><circle cx="399.8" cy="333.9" r="1.15"/><circle cx="397.4" cy="337.6" r="1.15"/><circle cx="405.6" cy="339.1" r="1.15"/><circle cx="409.5" cy="352.8" r="1.15"/><circle cx="404.9" cy="349.5" r="1.15"/><circle cx="413.1" cy="353.8" r="1.15"/><circle cx="412.9" cy="352.0" r="1.15"/><circle cx="416.0" cy="359.9" r="1.15"/><circle cx="411.3" cy="359.8" r="1.15"/><circle cx="416.4" cy="359.3" r="1.15"/><circle cx="409.6" cy="365.5" r="1.15"/><circle cx="413.4" cy="361.4" r="1.15"/><circle cx="414.9" cy="365.8" r="1.15"/><circle cx="409.1" cy="359.2" r="1.15"/><circle cx="408.3" cy="360.1" r="1.15"/><circle cx="413.1" cy="365.3" r="1.15"/><circle cx="414.9" cy="362.0" r="1.15"/><circle cx="412.0" cy="362.0" r="1.15"/><circle cx="410.6" cy="365.2" r="1.15"/><circle cx="416.2" cy="365.1" r="1.15"/><circle cx="409.2" cy="363.1" r="1.15"/><circle cx="415.8" cy="361.1" r="1.15"/><circle cx="415.7" cy="364.9" r="1.15"/><circle cx="414.7" cy="365.6" r="1.15"/><circle cx="409.0" cy="363.5" r="1.15"/><circle cx="415.3" cy="362.4" r="1.15"/><circle cx="410.6" cy="356.0" r="1.15"/><circle cx="414.2" cy="364.9" r="1.15"/><circle cx="410.6" cy="357.7" r="1.15"/><circle cx="410.0" cy="356.3" r="1.15"/><circle cx="416.3" cy="359.4" r="1.15"/><circle cx="415.2" cy="356.1" r="1.15"/><circle cx="416.7" cy="359.0" r="1.15"/><circle cx="409.1" cy="358.4" r="1.15"/><circle cx="408.2" cy="360.5" r="1.15"/><circle cx="413.6" cy="364.7" r="1.15"/><circle cx="408.8" cy="357.8" r="1.15"/><circle cx="414.5" cy="359.2" r="1.15"/><circle cx="411.2" cy="361.9" r="1.15"/><circle cx="410.0" cy="364.6" r="1.15"/><circle cx="409.9" cy="365.1" r="1.15"/><circle cx="445.4" cy="367.8" r="1.15"/><circle cx="426.7" cy="367.1" r="1.15"/><circle cx="436.2" cy="357.6" r="1.15"/><circle cx="441.1" cy="371.8" r="1.15"/><circle cx="440.0" cy="364.9" r="1.15"/><circle cx="438.3" cy="368.9" r="1.15"/><circle cx="431.4" cy="374.9" r="1.15"/><circle cx="449.1" cy="363.3" r="1.15"/><circle cx="437.5" cy="359.2" r="1.15"/><circle cx="436.9" cy="370.9" r="1.15"/><circle cx="443.0" cy="366.0" r="1.15"/><circle cx="434.2" cy="360.4" r="1.15"/><circle cx="435.7" cy="362.3" r="1.15"/><circle cx="430.7" cy="372.1" r="1.15"/><circle cx="438.4" cy="365.7" r="1.15"/><circle cx="430.7" cy="371.4" r="1.15"/><circle cx="430.7" cy="362.0" r="1.15"/><circle cx="439.4" cy="371.3" r="1.15"/><circle cx="443.3" cy="371.7" r="1.15"/><circle cx="443.3" cy="369.8" r="1.15"/><circle cx="432.3" cy="363.9" r="1.15"/><circle cx="429.9" cy="369.8" r="1.15"/><circle cx="434.5" cy="375.5" r="1.15"/><circle cx="445.3" cy="366.0" r="1.15"/><circle cx="429.7" cy="372.9" r="1.15"/><circle cx="437.3" cy="377.5" r="1.15"/><circle cx="437.4" cy="373.9" r="1.15"/><circle cx="439.5" cy="367.2" r="1.15"/><circle cx="431.0" cy="361.7" r="1.15"/><circle cx="443.0" cy="376.5" r="1.15"/><circle cx="449.5" cy="365.6" r="1.15"/><circle cx="443.6" cy="364.5" r="1.15"/><circle cx="445.5" cy="374.3" r="1.15"/><circle cx="431.1" cy="368.8" r="1.15"/><circle cx="445.9" cy="373.1" r="1.15"/><circle cx="516.4" cy="362.6" r="1.15"/><circle cx="523.6" cy="377.0" r="1.15"/><circle cx="509.8" cy="370.8" r="1.15"/><circle cx="519.2" cy="387.3" r="1.15"/><circle cx="516.8" cy="380.1" r="1.15"/><circle cx="512.1" cy="368.5" r="1.15"/><circle cx="523.9" cy="372.5" r="1.15"/><circle cx="510.4" cy="378.7" r="1.15"/><circle cx="510.7" cy="367.2" r="1.15"/><circle cx="516.3" cy="378.5" r="1.15"/><circle cx="519.4" cy="382.1" r="1.15"/><circle cx="516.0" cy="363.3" r="1.15"/><circle cx="520.8" cy="362.9" r="1.15"/><circle cx="516.6" cy="373.1" r="1.15"/><circle cx="520.0" cy="382.3" r="1.15"/><circle cx="512.7" cy="380.4" r="1.15"/><circle cx="520.3" cy="375.2" r="1.15"/><circle cx="518.7" cy="363.1" r="1.15"/><circle cx="512.5" cy="372.8" r="1.15"/><circle cx="521.9" cy="385.5" r="1.15"/><circle cx="519.3" cy="383.1" r="1.15"/><circle cx="512.3" cy="381.1" r="1.15"/><circle cx="524.3" cy="380.1" r="1.15"/><circle cx="524.1" cy="369.0" r="1.15"/><circle cx="521.4" cy="364.4" r="1.15"/><circle cx="511.8" cy="385.0" r="1.15"/><circle cx="511.4" cy="376.4" r="1.15"/><circle cx="510.4" cy="384.4" r="1.15"/><circle cx="518.0" cy="385.4" r="1.15"/><circle cx="517.1" cy="379.5" r="1.15"/><circle cx="518.6" cy="384.8" r="1.15"/><circle cx="517.8" cy="369.9" r="1.15"/><circle cx="522.6" cy="385.2" r="1.15"/><circle cx="516.3" cy="364.9" r="1.15"/><circle cx="519.6" cy="367.4" r="1.15"/><circle cx="515.9" cy="364.5" r="1.15"/><circle cx="525.1" cy="377.4" r="1.15"/><circle cx="514.6" cy="364.1" r="1.15"/><circle cx="520.9" cy="386.3" r="1.15"/><circle cx="514.8" cy="370.2" r="1.15"/><circle cx="521.5" cy="365.6" r="1.15"/><circle cx="518.8" cy="390.1" r="1.15"/><circle cx="520.3" cy="378.9" r="1.15"/><circle cx="517.4" cy="374.7" r="1.15"/><circle cx="515.5" cy="379.3" r="1.15"/><circle cx="519.6" cy="388.2" r="1.15"/><circle cx="521.0" cy="384.7" r="1.15"/><circle cx="520.1" cy="386.3" r="1.15"/><circle cx="515.9" cy="387.1" r="1.15"/><circle cx="516.1" cy="382.1" r="1.15"/><circle cx="512.9" cy="370.1" r="1.15"/><circle cx="514.5" cy="370.8" r="1.15"/><circle cx="510.2" cy="374.3" r="1.15"/><circle cx="521.3" cy="369.4" r="1.15"/><circle cx="512.8" cy="373.4" r="1.15"/><circle cx="514.2" cy="384.0" r="1.15"/><circle cx="521.7" cy="387.5" r="1.15"/><circle cx="522.0" cy="376.9" r="1.15"/><circle cx="513.9" cy="379.7" r="1.15"/><circle cx="514.8" cy="377.1" r="1.15"/><circle cx="517.6" cy="380.4" r="1.15"/><circle cx="517.7" cy="388.9" r="1.15"/><circle cx="515.5" cy="388.2" r="1.15"/><circle cx="513.5" cy="388.0" r="1.15"/><circle cx="511.6" cy="374.2" r="1.15"/><circle cx="508.6" cy="384.3" r="1.15"/><circle cx="509.4" cy="385.6" r="1.15"/><circle cx="502.3" cy="375.3" r="1.15"/><circle cx="501.7" cy="375.4" r="1.15"/><circle cx="512.6" cy="383.3" r="1.15"/><circle cx="507.2" cy="383.6" r="1.15"/><circle cx="507.3" cy="384.4" r="1.15"/><circle cx="503.1" cy="371.3" r="1.15"/><circle cx="503.9" cy="372.9" r="1.15"/><circle cx="500.3" cy="380.2" r="1.15"/><circle cx="502.6" cy="385.9" r="1.15"/><circle cx="503.1" cy="378.5" r="1.15"/><circle cx="508.6" cy="379.2" r="1.15"/><circle cx="509.2" cy="372.0" r="1.15"/><circle cx="512.1" cy="377.1" r="1.15"/><circle cx="510.6" cy="374.7" r="1.15"/><circle cx="511.0" cy="386.6" r="1.15"/><circle cx="508.4" cy="375.7" r="1.15"/><circle cx="508.2" cy="382.2" r="1.15"/><circle cx="508.2" cy="373.7" r="1.15"/><circle cx="520.3" cy="396.1" r="1.15"/><circle cx="513.9" cy="399.7" r="1.15"/><circle cx="508.3" cy="402.6" r="1.15"/><circle cx="503.9" cy="403.9" r="1.15"/><circle cx="506.1" cy="395.8" r="1.15"/><circle cx="511.3" cy="390.9" r="1.15"/><circle cx="506.0" cy="404.1" r="1.15"/><circle cx="506.7" cy="396.0" r="1.15"/><circle cx="516.0" cy="393.0" r="1.15"/><circle cx="505.0" cy="392.9" r="1.15"/><circle cx="508.7" cy="395.8" r="1.15"/><circle cx="513.6" cy="397.8" r="1.15"/><circle cx="514.1" cy="404.8" r="1.15"/><circle cx="509.7" cy="390.9" r="1.15"/><circle cx="510.1" cy="402.4" r="1.15"/><circle cx="510.5" cy="392.1" r="1.15"/><circle cx="505.7" cy="397.2" r="1.15"/><circle cx="508.2" cy="397.8" r="1.15"/><circle cx="519.4" cy="399.4" r="1.15"/><circle cx="515.6" cy="399.6" r="1.15"/><circle cx="519.5" cy="398.8" r="1.15"/><circle cx="505.9" cy="392.0" r="1.15"/><circle cx="518.0" cy="392.8" r="1.15"/><circle cx="502.8" cy="393.8" r="1.15"/><circle cx="519.1" cy="397.6" r="1.15"/><circle cx="515.4" cy="390.1" r="1.15"/><circle cx="510.0" cy="394.8" r="1.15"/><circle cx="505.2" cy="401.5" r="1.15"/><circle cx="508.2" cy="391.0" r="1.15"/><circle cx="520.3" cy="398.0" r="1.15"/><circle cx="513.9" cy="398.6" r="1.15"/><circle cx="501.7" cy="397.8" r="1.15"/><circle cx="515.6" cy="399.1" r="1.15"/><circle cx="505.7" cy="398.3" r="1.15"/><circle cx="512.9" cy="401.3" r="1.15"/><circle cx="504.0" cy="404.2" r="1.15"/><circle cx="517.8" cy="395.8" r="1.15"/><circle cx="505.6" cy="400.2" r="1.15"/><circle cx="509.7" cy="391.4" r="1.15"/><circle cx="504.9" cy="403.2" r="1.15"/><circle cx="512.5" cy="406.8" r="1.15"/><circle cx="509.0" cy="401.8" r="1.15"/><circle cx="505.7" cy="397.9" r="1.15"/><circle cx="511.1" cy="407.0" r="1.15"/><circle cx="510.7" cy="407.8" r="1.15"/><circle cx="513.3" cy="392.9" r="1.15"/><circle cx="517.4" cy="392.6" r="1.15"/><circle cx="507.4" cy="396.6" r="1.15"/><circle cx="507.9" cy="401.6" r="1.15"/><circle cx="500.2" cy="410.1" r="1.15"/><circle cx="501.7" cy="418.0" r="1.15"/><circle cx="502.7" cy="411.5" r="1.15"/><circle cx="506.0" cy="416.0" r="1.15"/><circle cx="501.5" cy="407.8" r="1.15"/><circle cx="505.5" cy="413.7" r="1.15"/><circle cx="502.5" cy="406.5" r="1.15"/><circle cx="506.2" cy="411.5" r="1.15"/><circle cx="504.3" cy="419.1" r="1.15"/><circle cx="507.0" cy="418.6" r="1.15"/><circle cx="510.0" cy="410.7" r="1.15"/><circle cx="503.1" cy="408.6" r="1.15"/><circle cx="504.5" cy="412.8" r="1.15"/><circle cx="509.0" cy="417.6" r="1.15"/><circle cx="506.9" cy="412.5" r="1.15"/><circle cx="501.2" cy="407.8" r="1.15"/><circle cx="507.0" cy="413.8" r="1.15"/><circle cx="508.5" cy="419.2" r="1.15"/><circle cx="506.0" cy="406.8" r="1.15"/><circle cx="507.3" cy="408.0" r="1.15"/><circle cx="502.5" cy="410.0" r="1.15"/><circle cx="505.6" cy="415.4" r="1.15"/><circle cx="500.8" cy="416.5" r="1.15"/><circle cx="506.6" cy="411.8" r="1.15"/><circle cx="507.1" cy="417.5" r="1.15"/><circle cx="500.1" cy="411.9" r="1.15"/><circle cx="507.2" cy="415.9" r="1.15"/><circle cx="506.9" cy="406.7" r="1.15"/><circle cx="499.8" cy="420.3" r="1.15"/><circle cx="501.3" cy="433.1" r="1.15"/><circle cx="505.7" cy="415.6" r="1.15"/><circle cx="504.2" cy="418.6" r="1.15"/><circle cx="503.6" cy="428.4" r="1.15"/><circle cx="498.8" cy="415.3" r="1.15"/><circle cx="499.6" cy="416.4" r="1.15"/><circle cx="501.3" cy="420.1" r="1.15"/><circle cx="498.4" cy="424.0" r="1.15"/><circle cx="506.1" cy="423.8" r="1.15"/><circle cx="500.9" cy="426.9" r="1.15"/><circle cx="501.6" cy="414.2" r="1.15"/><circle cx="502.0" cy="410.4" r="1.15"/><circle cx="503.7" cy="413.9" r="1.15"/><circle cx="501.0" cy="433.1" r="1.15"/><circle cx="504.5" cy="430.1" r="1.15"/><circle cx="503.4" cy="425.2" r="1.15"/><circle cx="499.4" cy="428.4" r="1.15"/><circle cx="500.4" cy="416.1" r="1.15"/><circle cx="505.0" cy="424.4" r="1.15"/><circle cx="502.9" cy="414.8" r="1.15"/><circle cx="497.8" cy="422.8" r="1.15"/><circle cx="504.2" cy="416.5" r="1.15"/><circle cx="499.2" cy="426.7" r="1.15"/><circle cx="500.1" cy="427.1" r="1.15"/><circle cx="500.7" cy="422.5" r="1.15"/><circle cx="500.5" cy="420.0" r="1.15"/><circle cx="502.0" cy="416.2" r="1.15"/><circle cx="495.5" cy="437.5" r="1.15"/><circle cx="492.8" cy="438.6" r="1.15"/><circle cx="496.3" cy="433.4" r="1.15"/><circle cx="494.5" cy="431.6" r="1.15"/><circle cx="497.8" cy="435.9" r="1.15"/><circle cx="496.0" cy="433.9" r="1.15"/><circle cx="496.2" cy="432.1" r="1.15"/><circle cx="496.8" cy="438.7" r="1.15"/><circle cx="491.5" cy="436.2" r="1.15"/><circle cx="492.2" cy="437.6" r="1.15"/><circle cx="496.8" cy="438.6" r="1.15"/><circle cx="492.5" cy="430.5" r="1.15"/><circle cx="495.8" cy="436.0" r="1.15"/><circle cx="491.8" cy="431.6" r="1.15"/><circle cx="495.2" cy="430.7" r="1.15"/><circle cx="495.6" cy="432.2" r="1.15"/><circle cx="492.7" cy="434.3" r="1.15"/><circle cx="494.8" cy="437.8" r="1.15"/><circle cx="492.5" cy="432.8" r="1.15"/><circle cx="495.6" cy="437.4" r="1.15"/><circle cx="487.3" cy="447.3" r="1.15"/><circle cx="481.3" cy="442.8" r="1.15"/><circle cx="487.9" cy="442.4" r="1.15"/><circle cx="480.7" cy="442.1" r="1.15"/><circle cx="489.5" cy="446.7" r="1.15"/><circle cx="489.8" cy="442.8" r="1.15"/><circle cx="482.9" cy="445.9" r="1.15"/><circle cx="479.2" cy="445.0" r="1.15"/><circle cx="485.8" cy="441.5" r="1.15"/><circle cx="485.0" cy="441.9" r="1.15"/><circle cx="480.1" cy="444.3" r="1.15"/><circle cx="485.9" cy="443.2" r="1.15"/><circle cx="488.7" cy="444.4" r="1.15"/><circle cx="489.6" cy="441.2" r="1.15"/><circle cx="479.4" cy="443.3" r="1.15"/><circle cx="485.4" cy="442.3" r="1.15"/><circle cx="488.0" cy="442.1" r="1.15"/><circle cx="483.0" cy="444.0" r="1.15"/><circle cx="488.7" cy="446.3" r="1.15"/><circle cx="483.8" cy="443.8" r="1.15"/><circle cx="487.3" cy="441.2" r="1.15"/><circle cx="485.0" cy="445.2" r="1.15"/><circle cx="480.3" cy="443.9" r="1.15"/><circle cx="487.3" cy="442.7" r="1.15"/><circle cx="479.4" cy="446.1" r="1.15"/><circle cx="464.2" cy="450.5" r="1.15"/><circle cx="457.2" cy="449.7" r="1.15"/><circle cx="456.8" cy="447.6" r="1.15"/><circle cx="464.2" cy="444.5" r="1.15"/><circle cx="458.0" cy="452.4" r="1.15"/><circle cx="464.9" cy="445.2" r="1.15"/><circle cx="458.1" cy="457.1" r="1.15"/><circle cx="460.7" cy="448.6" r="1.15"/><circle cx="457.6" cy="446.7" r="1.15"/><circle cx="459.0" cy="456.6" r="1.15"/><circle cx="461.2" cy="460.9" r="1.15"/><circle cx="462.5" cy="447.6" r="1.15"/><circle cx="461.1" cy="456.1" r="1.15"/><circle cx="463.9" cy="444.4" r="1.15"/><circle cx="459.8" cy="446.8" r="1.15"/><circle cx="458.9" cy="451.2" r="1.15"/><circle cx="465.1" cy="448.2" r="1.15"/><circle cx="458.1" cy="456.7" r="1.15"/><circle cx="459.8" cy="445.6" r="1.15"/><circle cx="460.6" cy="458.2" r="1.15"/><circle cx="465.2" cy="453.3" r="1.15"/><circle cx="462.5" cy="459.8" r="1.15"/><circle cx="466.1" cy="448.3" r="1.15"/><circle cx="465.0" cy="458.2" r="1.15"/><circle cx="459.0" cy="449.1" r="1.15"/><circle cx="460.2" cy="448.9" r="1.15"/><circle cx="460.2" cy="444.0" r="1.15"/><circle cx="458.6" cy="460.0" r="1.15"/><circle cx="460.5" cy="454.5" r="1.15"/><circle cx="465.4" cy="456.9" r="1.15"/><circle cx="458.8" cy="460.2" r="1.15"/><circle cx="463.8" cy="456.9" r="1.15"/><circle cx="464.7" cy="446.9" r="1.15"/><circle cx="463.1" cy="449.4" r="1.15"/><circle cx="464.9" cy="444.5" r="1.15"/><circle cx="461.9" cy="448.5" r="1.15"/><circle cx="464.8" cy="448.7" r="1.15"/><circle cx="465.0" cy="458.8" r="1.15"/><circle cx="463.3" cy="454.8" r="1.15"/><circle cx="461.9" cy="450.9" r="1.15"/><circle cx="459.8" cy="457.5" r="1.15"/><circle cx="464.4" cy="459.2" r="1.15"/><circle cx="458.5" cy="448.6" r="1.15"/><circle cx="458.9" cy="443.8" r="1.15"/><circle cx="464.5" cy="446.3" r="1.15"/><circle cx="463.9" cy="445.8" r="1.15"/><circle cx="461.1" cy="449.8" r="1.15"/><circle cx="463.5" cy="460.7" r="1.15"/><circle cx="472.0" cy="459.0" r="1.15"/><circle cx="472.0" cy="461.8" r="1.15"/><circle cx="463.5" cy="463.2" r="1.15"/><circle cx="467.3" cy="455.3" r="1.15"/><circle cx="467.5" cy="462.7" r="1.15"/><circle cx="466.5" cy="459.2" r="1.15"/><circle cx="465.0" cy="463.3" r="1.15"/><circle cx="468.7" cy="456.3" r="1.15"/><circle cx="464.3" cy="457.9" r="1.15"/><circle cx="472.9" cy="461.4" r="1.15"/><circle cx="459.5" cy="460.3" r="1.15"/><circle cx="465.3" cy="461.6" r="1.15"/><circle cx="465.2" cy="455.2" r="1.15"/><circle cx="466.6" cy="462.7" r="1.15"/><circle cx="470.4" cy="457.9" r="1.15"/><circle cx="462.2" cy="461.9" r="1.15"/><circle cx="470.6" cy="456.5" r="1.15"/><circle cx="465.3" cy="458.1" r="1.15"/><circle cx="469.3" cy="463.8" r="1.15"/><circle cx="461.9" cy="457.3" r="1.15"/><circle cx="463.8" cy="461.7" r="1.15"/><circle cx="461.7" cy="459.8" r="1.15"/><circle cx="466.3" cy="461.1" r="1.15"/><circle cx="470.5" cy="456.1" r="1.15"/><circle cx="472.2" cy="459.9" r="1.15"/><circle cx="470.0" cy="463.1" r="1.15"/><circle cx="464.2" cy="463.7" r="1.15"/><circle cx="466.3" cy="463.5" r="1.15"/><circle cx="466.4" cy="463.8" r="1.15"/><circle cx="467.1" cy="455.7" r="1.15"/><circle cx="468.2" cy="462.5" r="1.15"/><circle cx="465.1" cy="460.4" r="1.15"/><circle cx="462.8" cy="457.0" r="1.15"/><circle cx="444.5" cy="373.8" r="1.15"/><circle cx="445.2" cy="365.6" r="1.15"/><circle cx="448.5" cy="378.3" r="1.15"/><circle cx="442.1" cy="368.8" r="1.15"/><circle cx="445.8" cy="367.2" r="1.15"/><circle cx="447.0" cy="381.3" r="1.15"/><circle cx="441.7" cy="375.2" r="1.15"/><circle cx="448.5" cy="378.3" r="1.15"/><circle cx="448.4" cy="377.6" r="1.15"/><circle cx="442.6" cy="380.1" r="1.15"/><circle cx="451.5" cy="372.4" r="1.15"/><circle cx="449.5" cy="376.9" r="1.15"/><circle cx="440.9" cy="372.7" r="1.15"/><circle cx="443.4" cy="378.7" r="1.15"/><circle cx="442.2" cy="367.7" r="1.15"/><circle cx="441.1" cy="371.8" r="1.15"/><circle cx="447.2" cy="369.7" r="1.15"/><circle cx="441.1" cy="368.0" r="1.15"/><circle cx="443.2" cy="373.6" r="1.15"/><circle cx="441.4" cy="373.1" r="1.15"/><circle cx="444.8" cy="382.7" r="1.15"/><circle cx="445.4" cy="382.1" r="1.15"/><circle cx="445.2" cy="367.6" r="1.15"/><circle cx="446.8" cy="366.6" r="1.15"/><circle cx="444.3" cy="370.7" r="1.15"/><circle cx="454.7" cy="391.3" r="1.15"/><circle cx="459.9" cy="391.8" r="1.15"/><circle cx="457.6" cy="386.3" r="1.15"/><circle cx="463.0" cy="396.7" r="1.15"/><circle cx="453.4" cy="395.3" r="1.15"/><circle cx="464.4" cy="392.0" r="1.15"/><circle cx="454.9" cy="390.5" r="1.15"/><circle cx="457.3" cy="395.7" r="1.15"/><circle cx="449.3" cy="391.5" r="1.15"/><circle cx="463.0" cy="397.6" r="1.15"/><circle cx="457.9" cy="396.0" r="1.15"/><circle cx="453.1" cy="399.8" r="1.15"/><circle cx="457.2" cy="392.0" r="1.15"/><circle cx="450.0" cy="387.9" r="1.15"/><circle cx="463.9" cy="397.7" r="1.15"/><circle cx="455.8" cy="393.3" r="1.15"/><circle cx="453.6" cy="399.1" r="1.15"/><circle cx="453.3" cy="393.9" r="1.15"/><circle cx="464.5" cy="395.4" r="1.15"/><circle cx="455.8" cy="391.0" r="1.15"/><circle cx="454.0" cy="395.0" r="1.15"/><circle cx="461.7" cy="390.0" r="1.15"/><circle cx="453.7" cy="391.8" r="1.15"/><circle cx="453.5" cy="399.3" r="1.15"/><circle cx="457.0" cy="390.2" r="1.15"/><circle cx="452.9" cy="398.0" r="1.15"/><circle cx="449.6" cy="396.1" r="1.15"/><circle cx="440.4" cy="403.0" r="1.15"/><circle cx="446.0" cy="412.6" r="1.15"/><circle cx="444.2" cy="416.5" r="1.15"/><circle cx="443.1" cy="402.3" r="1.15"/><circle cx="446.1" cy="415.3" r="1.15"/><circle cx="442.7" cy="400.4" r="1.15"/><circle cx="447.3" cy="413.2" r="1.15"/><circle cx="444.7" cy="417.5" r="1.15"/><circle cx="445.7" cy="410.8" r="1.15"/><circle cx="440.7" cy="410.4" r="1.15"/><circle cx="442.4" cy="417.6" r="1.15"/><circle cx="443.1" cy="406.2" r="1.15"/><circle cx="441.4" cy="403.1" r="1.15"/><circle cx="445.7" cy="402.0" r="1.15"/><circle cx="440.7" cy="401.6" r="1.15"/><circle cx="442.3" cy="412.9" r="1.15"/><circle cx="439.6" cy="408.9" r="1.15"/><circle cx="443.2" cy="413.9" r="1.15"/><circle cx="460.9" cy="363.2" r="1.15"/><circle cx="464.5" cy="364.2" r="1.15"/><circle cx="458.0" cy="362.8" r="1.15"/><circle cx="492.2" cy="381.5" r="1.15"/><circle cx="483.0" cy="377.9" r="1.15"/><circle cx="485.9" cy="382.8" r="1.15"/><circle cx="492.8" cy="416.3" r="1.15"/><circle cx="487.9" cy="416.9" r="1.15"/><circle cx="435.9" cy="415.5" r="1.15"/><circle cx="431.1" cy="420.8" r="1.15"/><circle cx="437.2" cy="406.2" r="1.15"/><circle cx="430.1" cy="405.1" r="1.15"/><circle cx="445.8" cy="417.0" r="1.15"/><circle cx="442.3" cy="417.6" r="1.15"/><circle cx="428.4" cy="416.2" r="1.15"/><circle cx="426.8" cy="412.9" r="1.15"/><circle cx="423.7" cy="418.5" r="1.15"/><circle cx="433.5" cy="405.2" r="1.15"/><circle cx="423.4" cy="416.3" r="1.15"/><circle cx="436.0" cy="419.6" r="1.15"/><circle cx="436.4" cy="408.7" r="1.15"/><circle cx="442.0" cy="401.3" r="1.15"/><circle cx="427.2" cy="401.6" r="1.15"/><circle cx="444.8" cy="409.0" r="1.15"/><circle cx="440.5" cy="404.8" r="1.15"/><circle cx="440.6" cy="413.7" r="1.15"/><circle cx="421.9" cy="410.2" r="1.15"/><circle cx="440.4" cy="403.9" r="1.15"/><circle cx="438.4" cy="405.3" r="1.15"/><circle cx="430.0" cy="419.9" r="1.15"/><circle cx="431.6" cy="412.0" r="1.15"/><circle cx="442.9" cy="416.2" r="1.15"/><circle cx="432.5" cy="418.6" r="1.15"/><circle cx="430.9" cy="420.6" r="1.15"/><circle cx="433.0" cy="401.7" r="1.15"/><circle cx="441.2" cy="402.3" r="1.15"/><circle cx="439.1" cy="400.2" r="1.15"/><circle cx="448.3" cy="411.3" r="1.15"/><circle cx="440.9" cy="402.0" r="1.15"/><circle cx="437.9" cy="407.5" r="1.15"/><circle cx="426.4" cy="417.5" r="1.15"/><circle cx="420.0" cy="409.8" r="1.15"/><circle cx="432.8" cy="409.6" r="1.15"/><circle cx="440.3" cy="415.6" r="1.15"/><circle cx="429.2" cy="420.2" r="1.15"/><circle cx="424.5" cy="402.1" r="1.15"/><circle cx="443.1" cy="401.7" r="1.15"/><circle cx="424.5" cy="410.4" r="1.15"/><circle cx="429.0" cy="402.7" r="1.15"/><circle cx="446.5" cy="409.8" r="1.15"/><circle cx="442.3" cy="404.7" r="1.15"/><circle cx="446.0" cy="404.0" r="1.15"/><circle cx="445.8" cy="412.9" r="1.15"/><circle cx="437.7" cy="411.1" r="1.15"/><circle cx="444.3" cy="409.1" r="1.15"/><circle cx="442.8" cy="414.5" r="1.15"/><circle cx="441.0" cy="404.3" r="1.15"/><circle cx="432.7" cy="417.7" r="1.15"/><circle cx="423.8" cy="414.5" r="1.15"/><circle cx="435.4" cy="408.2" r="1.15"/><circle cx="424.0" cy="402.1" r="1.15"/><circle cx="432.9" cy="410.2" r="1.15"/><circle cx="426.9" cy="407.3" r="1.15"/><circle cx="435.4" cy="416.3" r="1.15"/><circle cx="436.4" cy="402.7" r="1.15"/><circle cx="445.2" cy="407.3" r="1.15"/><circle cx="423.2" cy="412.2" r="1.15"/><circle cx="447.6" cy="407.7" r="1.15"/><circle cx="435.2" cy="406.1" r="1.15"/><circle cx="422.7" cy="405.5" r="1.15"/><circle cx="437.6" cy="411.8" r="1.15"/><circle cx="447.1" cy="414.6" r="1.15"/><circle cx="429.7" cy="420.6" r="1.15"/><circle cx="437.8" cy="411.3" r="1.15"/><circle cx="444.5" cy="414.2" r="1.15"/><circle cx="429.7" cy="412.7" r="1.15"/><circle cx="435.4" cy="403.7" r="1.15"/><circle cx="434.0" cy="401.7" r="1.15"/><circle cx="443.8" cy="414.2" r="1.15"/><circle cx="439.3" cy="420.0" r="1.15"/><circle cx="420.5" cy="408.7" r="1.15"/><circle cx="435.8" cy="399.2" r="1.15"/><circle cx="431.3" cy="419.5" r="1.15"/><circle cx="436.4" cy="417.7" r="1.15"/><circle cx="443.6" cy="414.9" r="1.15"/><circle cx="444.1" cy="415.3" r="1.15"/><circle cx="445.6" cy="411.1" r="1.15"/><circle cx="448.4" cy="411.7" r="1.15"/><circle cx="446.8" cy="409.2" r="1.15"/><circle cx="443.2" cy="414.3" r="1.15"/><circle cx="411.1" cy="391.7" r="1.15"/><circle cx="413.9" cy="408.2" r="1.15"/><circle cx="422.6" cy="392.2" r="1.15"/><circle cx="424.8" cy="404.6" r="1.15"/><circle cx="413.8" cy="415.8" r="1.15"/><circle cx="410.7" cy="391.5" r="1.15"/><circle cx="407.7" cy="391.8" r="1.15"/><circle cx="420.7" cy="412.6" r="1.15"/><circle cx="407.8" cy="403.1" r="1.15"/><circle cx="420.2" cy="404.9" r="1.15"/><circle cx="415.4" cy="404.4" r="1.15"/><circle cx="415.7" cy="394.6" r="1.15"/><circle cx="425.7" cy="394.7" r="1.15"/><circle cx="427.7" cy="394.7" r="1.15"/><circle cx="405.8" cy="402.3" r="1.15"/><circle cx="414.6" cy="397.7" r="1.15"/><circle cx="426.0" cy="394.1" r="1.15"/><circle cx="423.1" cy="413.7" r="1.15"/><circle cx="416.6" cy="403.1" r="1.15"/><circle cx="430.7" cy="406.3" r="1.15"/><circle cx="405.5" cy="397.6" r="1.15"/><circle cx="405.7" cy="407.8" r="1.15"/><circle cx="415.7" cy="396.9" r="1.15"/><circle cx="418.4" cy="417.0" r="1.15"/><circle cx="410.3" cy="392.0" r="1.15"/><circle cx="412.2" cy="397.4" r="1.15"/><circle cx="430.3" cy="409.6" r="1.15"/><circle cx="415.9" cy="392.3" r="1.15"/><circle cx="428.4" cy="407.7" r="1.15"/><circle cx="407.7" cy="407.0" r="1.15"/><circle cx="404.8" cy="403.2" r="1.15"/><circle cx="413.1" cy="390.3" r="1.15"/><circle cx="425.3" cy="409.9" r="1.15"/><circle cx="418.3" cy="392.4" r="1.15"/><circle cx="423.1" cy="400.9" r="1.15"/><circle cx="422.8" cy="389.9" r="1.15"/><circle cx="409.7" cy="399.7" r="1.15"/><circle cx="413.0" cy="395.5" r="1.15"/><circle cx="423.1" cy="394.1" r="1.15"/><circle cx="415.0" cy="409.0" r="1.15"/><circle cx="415.9" cy="392.0" r="1.15"/><circle cx="405.1" cy="404.4" r="1.15"/><circle cx="406.0" cy="403.1" r="1.15"/><circle cx="417.7" cy="393.2" r="1.15"/><circle cx="423.1" cy="402.9" r="1.15"/><circle cx="427.3" cy="396.3" r="1.15"/><circle cx="417.2" cy="391.5" r="1.15"/><circle cx="417.5" cy="391.1" r="1.15"/><circle cx="423.6" cy="409.3" r="1.15"/><circle cx="420.3" cy="418.2" r="1.15"/><circle cx="427.0" cy="390.6" r="1.15"/><circle cx="412.7" cy="388.7" r="1.15"/><circle cx="420.5" cy="410.1" r="1.15"/><circle cx="413.4" cy="409.3" r="1.15"/><circle cx="414.0" cy="409.8" r="1.15"/><circle cx="405.7" cy="410.2" r="1.15"/><circle cx="428.9" cy="407.4" r="1.15"/><circle cx="424.5" cy="390.7" r="1.15"/><circle cx="414.4" cy="408.5" r="1.15"/><circle cx="413.6" cy="415.0" r="1.15"/><circle cx="430.3" cy="412.2" r="1.15"/><circle cx="429.0" cy="405.8" r="1.15"/><circle cx="432.1" cy="407.6" r="1.15"/><circle cx="431.4" cy="405.1" r="1.15"/><circle cx="408.9" cy="403.6" r="1.15"/><circle cx="417.5" cy="397.8" r="1.15"/><circle cx="414.2" cy="403.3" r="1.15"/><circle cx="420.6" cy="394.1" r="1.15"/><circle cx="411.3" cy="403.1" r="1.15"/><circle cx="418.1" cy="400.4" r="1.15"/><circle cx="422.9" cy="392.9" r="1.15"/><circle cx="419.0" cy="395.8" r="1.15"/><circle cx="426.1" cy="409.5" r="1.15"/><circle cx="426.4" cy="403.6" r="1.15"/><circle cx="410.5" cy="416.6" r="1.15"/><circle cx="418.3" cy="399.0" r="1.15"/><circle cx="411.7" cy="399.9" r="1.15"/><circle cx="424.3" cy="413.2" r="1.15"/><circle cx="417.5" cy="410.4" r="1.15"/><circle cx="409.4" cy="401.5" r="1.15"/><circle cx="413.7" cy="396.8" r="1.15"/><circle cx="413.8" cy="411.2" r="1.15"/><circle cx="425.0" cy="393.6" r="1.15"/><circle cx="410.0" cy="412.1" r="1.15"/><circle cx="422.6" cy="408.6" r="1.15"/><circle cx="422.1" cy="409.2" r="1.15"/><circle cx="411.2" cy="388.9" r="1.15"/><circle cx="413.8" cy="388.0" r="1.15"/><circle cx="431.9" cy="403.8" r="1.15"/><circle cx="423.1" cy="417.9" r="1.15"/><circle cx="427.1" cy="394.3" r="1.15"/><circle cx="413.1" cy="390.5" r="1.15"/><circle cx="426.9" cy="410.6" r="1.15"/><circle cx="417.6" cy="398.8" r="1.15"/><circle cx="411.1" cy="402.6" r="1.15"/><circle cx="424.4" cy="415.7" r="1.15"/><circle cx="416.2" cy="400.5" r="1.15"/><circle cx="408.5" cy="392.0" r="1.15"/><circle cx="411.4" cy="416.5" r="1.15"/><circle cx="428.6" cy="397.6" r="1.15"/><circle cx="415.8" cy="393.2" r="1.15"/><circle cx="426.2" cy="399.0" r="1.15"/><circle cx="416.2" cy="399.7" r="1.15"/><circle cx="420.9" cy="395.2" r="1.15"/><circle cx="403.6" cy="399.5" r="1.15"/><circle cx="414.2" cy="411.4" r="1.15"/><circle cx="413.0" cy="408.7" r="1.15"/><circle cx="421.7" cy="393.0" r="1.15"/><circle cx="421.3" cy="396.4" r="1.15"/><circle cx="409.0" cy="414.4" r="1.15"/><circle cx="430.3" cy="394.5" r="1.15"/><circle cx="420.6" cy="405.4" r="1.15"/><circle cx="412.7" cy="388.2" r="1.15"/><circle cx="412.8" cy="407.6" r="1.15"/><circle cx="421.1" cy="403.3" r="1.15"/><circle cx="406.7" cy="393.8" r="1.15"/><circle cx="412.3" cy="400.3" r="1.15"/><circle cx="413.9" cy="415.9" r="1.15"/><circle cx="410.2" cy="414.4" r="1.15"/><circle cx="410.3" cy="405.8" r="1.15"/><circle cx="414.3" cy="388.2" r="1.15"/><circle cx="426.9" cy="412.9" r="1.15"/><circle cx="411.1" cy="411.8" r="1.15"/><circle cx="417.4" cy="418.6" r="1.15"/><circle cx="404.6" cy="399.2" r="1.15"/><circle cx="409.8" cy="407.0" r="1.15"/><circle cx="426.3" cy="413.9" r="1.15"/><circle cx="419.5" cy="399.4" r="1.15"/><circle cx="427.0" cy="390.3" r="1.15"/><circle cx="410.8" cy="411.1" r="1.15"/><circle cx="416.2" cy="418.8" r="1.15"/><circle cx="405.7" cy="401.8" r="1.15"/><circle cx="414.1" cy="400.8" r="1.15"/><circle cx="418.2" cy="396.3" r="1.15"/><circle cx="424.1" cy="403.5" r="1.15"/><circle cx="418.3" cy="402.8" r="1.15"/><circle cx="414.2" cy="414.6" r="1.15"/><circle cx="409.3" cy="415.1" r="1.15"/><circle cx="413.7" cy="397.7" r="1.15"/><circle cx="421.4" cy="405.0" r="1.15"/><circle cx="411.5" cy="389.7" r="1.15"/><circle cx="431.7" cy="398.8" r="1.15"/><circle cx="406.4" cy="408.0" r="1.15"/><circle cx="419.0" cy="397.5" r="1.15"/><circle cx="412.9" cy="414.0" r="1.15"/><circle cx="413.2" cy="400.4" r="1.15"/><circle cx="431.7" cy="398.5" r="1.15"/><circle cx="415.1" cy="392.2" r="1.15"/><circle cx="422.9" cy="408.3" r="1.15"/><circle cx="416.4" cy="400.0" r="1.15"/><circle cx="410.0" cy="412.3" r="1.15"/><circle cx="416.7" cy="413.6" r="1.15"/><circle cx="414.2" cy="410.5" r="1.15"/><circle cx="431.8" cy="408.8" r="1.15"/><circle cx="423.3" cy="402.9" r="1.15"/><circle cx="417.2" cy="393.3" r="1.15"/><circle cx="408.2" cy="407.6" r="1.15"/><circle cx="423.8" cy="395.3" r="1.15"/><circle cx="422.3" cy="391.4" r="1.15"/><circle cx="421.4" cy="392.5" r="1.15"/><circle cx="418.3" cy="397.0" r="1.15"/><circle cx="419.5" cy="391.3" r="1.15"/><circle cx="417.5" cy="406.7" r="1.15"/><circle cx="407.0" cy="396.9" r="1.15"/><circle cx="423.4" cy="404.5" r="1.15"/><circle cx="421.5" cy="412.0" r="1.15"/><circle cx="420.1" cy="394.1" r="1.15"/><circle cx="416.3" cy="413.6" r="1.15"/><circle cx="420.0" cy="411.1" r="1.15"/><circle cx="413.9" cy="401.4" r="1.15"/><circle cx="422.6" cy="390.4" r="1.15"/><circle cx="421.4" cy="388.1" r="1.15"/><circle cx="424.8" cy="395.6" r="1.15"/><circle cx="428.4" cy="392.7" r="1.15"/><circle cx="427.8" cy="403.7" r="1.15"/><circle cx="416.2" cy="413.6" r="1.15"/><circle cx="423.7" cy="404.0" r="1.15"/><circle cx="428.9" cy="393.5" r="1.15"/><circle cx="430.0" cy="397.8" r="1.15"/><circle cx="421.7" cy="390.9" r="1.15"/><circle cx="407.8" cy="396.4" r="1.15"/><circle cx="411.4" cy="416.4" r="1.15"/><circle cx="432.7" cy="401.1" r="1.15"/><circle cx="426.9" cy="396.0" r="1.15"/><circle cx="425.0" cy="394.3" r="1.15"/><circle cx="419.6" cy="406.6" r="1.15"/><circle cx="424.0" cy="401.8" r="1.15"/><circle cx="426.6" cy="401.6" r="1.15"/><circle cx="411.4" cy="410.8" r="1.15"/><circle cx="427.9" cy="394.9" r="1.15"/><circle cx="423.9" cy="399.7" r="1.15"/><circle cx="380.0" cy="406.7" r="1.15"/><circle cx="387.5" cy="408.3" r="1.15"/><circle cx="383.0" cy="409.7" r="1.15"/><circle cx="385.4" cy="413.5" r="1.15"/><circle cx="381.4" cy="406.7" r="1.15"/><circle cx="381.3" cy="412.0" r="1.15"/><circle cx="384.5" cy="408.7" r="1.15"/><circle cx="383.1" cy="406.1" r="1.15"/><circle cx="387.2" cy="409.4" r="1.15"/><circle cx="382.9" cy="412.6" r="1.15"/><circle cx="379.7" cy="411.9" r="1.15"/><circle cx="381.3" cy="412.9" r="1.15"/><circle cx="378.7" cy="407.3" r="1.15"/><circle cx="384.2" cy="409.5" r="1.15"/><circle cx="381.6" cy="410.5" r="1.15"/><circle cx="379.9" cy="409.0" r="1.15"/><circle cx="380.3" cy="413.1" r="1.15"/><circle cx="383.4" cy="410.7" r="1.15"/><circle cx="384.1" cy="405.8" r="1.15"/><circle cx="385.7" cy="407.5" r="1.15"/><circle cx="386.6" cy="412.6" r="1.15"/><circle cx="384.7" cy="412.9" r="1.15"/><circle cx="382.2" cy="411.4" r="1.15"/><circle cx="378.7" cy="408.7" r="1.15"/><circle cx="398.9" cy="418.3" r="1.15"/><circle cx="394.7" cy="424.8" r="1.15"/><circle cx="397.1" cy="418.3" r="1.15"/><circle cx="394.2" cy="422.2" r="1.15"/><circle cx="394.3" cy="421.3" r="1.15"/><circle cx="399.3" cy="421.0" r="1.15"/><circle cx="398.8" cy="439.8" r="1.15"/><circle cx="402.6" cy="435.6" r="1.15"/><circle cx="399.3" cy="430.0" r="1.15"/><circle cx="402.8" cy="431.4" r="1.15"/><circle cx="402.0" cy="430.2" r="1.15"/><circle cx="399.8" cy="436.8" r="1.15"/><circle cx="396.9" cy="434.2" r="1.15"/><circle cx="392.4" cy="436.8" r="1.15"/><circle cx="401.5" cy="429.0" r="1.15"/><circle cx="399.5" cy="438.2" r="1.15"/><circle cx="395.1" cy="427.9" r="1.15"/><circle cx="395.2" cy="428.0" r="1.15"/><circle cx="398.6" cy="430.6" r="1.15"/><circle cx="395.9" cy="433.9" r="1.15"/><circle cx="396.9" cy="439.1" r="1.15"/><circle cx="402.0" cy="428.4" r="1.15"/><circle cx="396.3" cy="428.3" r="1.15"/><circle cx="401.6" cy="438.9" r="1.15"/><circle cx="397.5" cy="441.3" r="1.15"/><circle cx="397.2" cy="431.5" r="1.15"/><circle cx="398.9" cy="433.6" r="1.15"/><circle cx="397.8" cy="438.7" r="1.15"/><circle cx="403.5" cy="434.1" r="1.15"/><circle cx="394.1" cy="433.0" r="1.15"/><circle cx="404.4" cy="433.0" r="1.15"/><circle cx="401.1" cy="435.4" r="1.15"/><circle cx="398.2" cy="435.7" r="1.15"/><circle cx="395.1" cy="435.4" r="1.15"/><circle cx="396.8" cy="440.5" r="1.15"/><circle cx="400.6" cy="436.6" r="1.15"/><circle cx="403.7" cy="434.0" r="1.15"/><circle cx="393.4" cy="431.3" r="1.15"/><circle cx="401.8" cy="438.1" r="1.15"/><circle cx="394.5" cy="436.8" r="1.15"/><circle cx="401.0" cy="437.0" r="1.15"/><circle cx="391.8" cy="433.6" r="1.15"/><circle cx="396.2" cy="436.0" r="1.15"/><circle cx="396.4" cy="428.6" r="1.15"/><circle cx="401.2" cy="431.1" r="1.15"/><circle cx="403.0" cy="431.4" r="1.15"/><circle cx="399.4" cy="439.4" r="1.15"/><circle cx="393.2" cy="438.2" r="1.15"/><circle cx="396.8" cy="429.4" r="1.15"/><circle cx="397.2" cy="434.5" r="1.15"/><circle cx="397.5" cy="428.5" r="1.15"/><circle cx="399.1" cy="431.3" r="1.15"/><circle cx="405.5" cy="432.7" r="1.15"/><circle cx="397.8" cy="430.2" r="1.15"/><circle cx="400.9" cy="439.8" r="1.15"/><circle cx="397.2" cy="438.5" r="1.15"/><circle cx="395.5" cy="428.3" r="1.15"/><circle cx="392.1" cy="433.7" r="1.15"/><circle cx="424.3" cy="421.5" r="1.15"/><circle cx="416.2" cy="430.4" r="1.15"/><circle cx="413.1" cy="420.7" r="1.15"/><circle cx="417.7" cy="425.0" r="1.15"/><circle cx="412.4" cy="427.2" r="1.15"/><circle cx="415.7" cy="418.8" r="1.15"/><circle cx="416.3" cy="432.8" r="1.15"/><circle cx="413.6" cy="427.6" r="1.15"/><circle cx="421.2" cy="419.3" r="1.15"/><circle cx="413.6" cy="429.6" r="1.15"/><circle cx="408.4" cy="424.2" r="1.15"/><circle cx="410.4" cy="425.8" r="1.15"/><circle cx="389.5" cy="441.7" r="1.15"/><circle cx="397.2" cy="447.3" r="1.15"/><circle cx="382.7" cy="443.8" r="1.15"/><circle cx="395.2" cy="441.0" r="1.15"/><circle cx="400.4" cy="447.2" r="1.15"/><circle cx="391.5" cy="456.3" r="1.15"/><circle cx="394.0" cy="450.8" r="1.15"/><circle cx="394.7" cy="444.6" r="1.15"/><circle cx="389.0" cy="442.7" r="1.15"/><circle cx="387.4" cy="444.6" r="1.15"/><circle cx="391.2" cy="445.0" r="1.15"/><circle cx="383.3" cy="451.8" r="1.15"/><circle cx="388.9" cy="443.6" r="1.15"/><circle cx="379.2" cy="449.2" r="1.15"/><circle cx="389.1" cy="453.4" r="1.15"/><circle cx="385.8" cy="447.2" r="1.15"/><circle cx="399.1" cy="444.5" r="1.15"/><circle cx="382.9" cy="455.3" r="1.15"/><circle cx="391.9" cy="443.1" r="1.15"/><circle cx="396.9" cy="450.2" r="1.15"/><circle cx="380.8" cy="444.2" r="1.15"/><circle cx="392.0" cy="442.9" r="1.15"/><circle cx="388.1" cy="453.3" r="1.15"/><circle cx="378.7" cy="452.2" r="1.15"/><circle cx="379.0" cy="448.5" r="1.15"/><circle cx="392.9" cy="452.7" r="1.15"/><circle cx="400.8" cy="446.8" r="1.15"/><circle cx="387.1" cy="446.5" r="1.15"/><circle cx="394.1" cy="453.8" r="1.15"/><circle cx="392.9" cy="447.0" r="1.15"/><circle cx="390.8" cy="449.3" r="1.15"/><circle cx="401.6" cy="448.3" r="1.15"/><circle cx="397.7" cy="443.8" r="1.15"/><circle cx="395.2" cy="453.3" r="1.15"/><circle cx="398.7" cy="444.4" r="1.15"/><circle cx="396.4" cy="448.5" r="1.15"/><circle cx="384.3" cy="446.4" r="1.15"/><circle cx="396.7" cy="455.9" r="1.15"/><circle cx="397.8" cy="452.4" r="1.15"/><circle cx="380.6" cy="442.1" r="1.15"/><circle cx="390.8" cy="443.2" r="1.15"/><circle cx="384.9" cy="441.0" r="1.15"/><circle cx="380.2" cy="453.3" r="1.15"/><circle cx="382.0" cy="456.0" r="1.15"/><circle cx="384.7" cy="456.0" r="1.15"/><circle cx="384.0" cy="444.3" r="1.15"/><circle cx="386.4" cy="439.2" r="1.15"/><circle cx="387.4" cy="446.6" r="1.15"/><circle cx="378.8" cy="453.2" r="1.15"/><circle cx="391.1" cy="449.1" r="1.15"/><circle cx="382.6" cy="444.7" r="1.15"/><circle cx="401.0" cy="446.4" r="1.15"/><circle cx="396.9" cy="452.9" r="1.15"/><circle cx="390.3" cy="455.3" r="1.15"/><circle cx="380.2" cy="449.8" r="1.15"/><circle cx="383.1" cy="447.0" r="1.15"/><circle cx="381.2" cy="453.2" r="1.15"/><circle cx="390.9" cy="454.6" r="1.15"/><circle cx="392.3" cy="451.0" r="1.15"/><circle cx="390.8" cy="445.5" r="1.15"/><circle cx="400.0" cy="446.4" r="1.15"/><circle cx="378.9" cy="445.7" r="1.15"/><circle cx="394.3" cy="457.6" r="1.15"/><circle cx="392.8" cy="452.3" r="1.15"/><circle cx="387.7" cy="448.2" r="1.15"/><circle cx="395.7" cy="445.4" r="1.15"/><circle cx="379.1" cy="451.4" r="1.15"/><circle cx="363.7" cy="457.1" r="1.15"/><circle cx="361.3" cy="464.7" r="1.15"/><circle cx="357.8" cy="458.1" r="1.15"/><circle cx="356.9" cy="463.6" r="1.15"/><circle cx="360.4" cy="456.2" r="1.15"/><circle cx="350.1" cy="459.5" r="1.15"/><circle cx="349.0" cy="459.9" r="1.15"/><circle cx="356.3" cy="465.5" r="1.15"/><circle cx="356.4" cy="464.2" r="1.15"/><circle cx="363.1" cy="461.1" r="1.15"/><circle cx="353.1" cy="457.8" r="1.15"/><circle cx="357.8" cy="458.9" r="1.15"/><circle cx="360.6" cy="460.2" r="1.15"/><circle cx="354.7" cy="461.4" r="1.15"/><circle cx="356.5" cy="464.1" r="1.15"/><circle cx="364.2" cy="461.1" r="1.15"/><circle cx="359.4" cy="454.3" r="1.15"/><circle cx="355.8" cy="457.3" r="1.15"/><circle cx="360.2" cy="455.0" r="1.15"/><circle cx="358.7" cy="458.6" r="1.15"/><circle cx="357.8" cy="459.0" r="1.15"/><circle cx="350.6" cy="462.8" r="1.15"/><circle cx="363.5" cy="461.3" r="1.15"/><circle cx="350.8" cy="461.3" r="1.15"/><circle cx="365.0" cy="462.0" r="1.15"/><circle cx="353.8" cy="465.1" r="1.15"/><circle cx="353.3" cy="461.0" r="1.15"/><circle cx="355.7" cy="457.7" r="1.15"/><circle cx="362.8" cy="461.5" r="1.15"/><circle cx="354.8" cy="460.6" r="1.15"/><circle cx="365.9" cy="460.9" r="1.15"/><circle cx="365.6" cy="460.9" r="1.15"/><circle cx="357.2" cy="460.7" r="1.15"/><circle cx="360.2" cy="459.8" r="1.15"/><circle cx="360.4" cy="460.5" r="1.15"/><circle cx="361.7" cy="465.4" r="1.15"/><circle cx="360.7" cy="463.6" r="1.15"/><circle cx="353.1" cy="458.7" r="1.15"/><circle cx="352.9" cy="462.5" r="1.15"/><circle cx="358.5" cy="461.3" r="1.15"/><circle cx="354.7" cy="461.1" r="1.15"/><circle cx="358.2" cy="458.8" r="1.15"/><circle cx="355.1" cy="463.7" r="1.15"/><circle cx="351.9" cy="460.8" r="1.15"/><circle cx="357.8" cy="465.2" r="1.15"/><circle cx="351.7" cy="464.1" r="1.15"/><circle cx="356.0" cy="460.7" r="1.15"/><circle cx="354.8" cy="456.0" r="1.15"/><circle cx="351.2" cy="457.8" r="1.15"/><circle cx="361.7" cy="461.0" r="1.15"/><circle cx="351.0" cy="463.7" r="1.15"/><circle cx="358.1" cy="455.9" r="1.15"/><circle cx="363.9" cy="463.9" r="1.15"/><circle cx="363.7" cy="456.9" r="1.15"/><circle cx="362.9" cy="463.3" r="1.15"/><circle cx="360.4" cy="464.0" r="1.15"/><circle cx="354.5" cy="462.3" r="1.15"/><circle cx="376.0" cy="464.4" r="1.15"/><circle cx="374.6" cy="458.5" r="1.15"/><circle cx="370.9" cy="461.2" r="1.15"/><circle cx="378.4" cy="458.1" r="1.15"/><circle cx="376.2" cy="462.6" r="1.15"/><circle cx="369.4" cy="463.7" r="1.15"/><circle cx="377.0" cy="458.8" r="1.15"/><circle cx="369.1" cy="458.5" r="1.15"/><circle cx="377.0" cy="460.5" r="1.15"/><circle cx="377.5" cy="457.3" r="1.15"/><circle cx="369.2" cy="459.2" r="1.15"/><circle cx="368.9" cy="463.4" r="1.15"/><circle cx="369.1" cy="462.5" r="1.15"/><circle cx="369.0" cy="458.2" r="1.15"/><circle cx="395.5" cy="483.0" r="1.15"/><circle cx="388.7" cy="471.1" r="1.15"/><circle cx="378.5" cy="468.0" r="1.15"/><circle cx="384.2" cy="480.6" r="1.15"/><circle cx="396.8" cy="480.5" r="1.15"/><circle cx="392.0" cy="478.1" r="1.15"/><circle cx="381.1" cy="469.3" r="1.15"/><circle cx="385.6" cy="466.4" r="1.15"/><circle cx="397.5" cy="464.4" r="1.15"/><circle cx="386.4" cy="466.4" r="1.15"/><circle cx="400.9" cy="476.4" r="1.15"/><circle cx="390.6" cy="469.1" r="1.15"/><circle cx="389.8" cy="474.4" r="1.15"/><circle cx="400.8" cy="465.6" r="1.15"/><circle cx="384.6" cy="461.3" r="1.15"/><circle cx="391.2" cy="480.1" r="1.15"/><circle cx="381.9" cy="470.6" r="1.15"/><circle cx="404.2" cy="472.0" r="1.15"/><circle cx="387.9" cy="482.1" r="1.15"/><circle cx="401.6" cy="469.0" r="1.15"/><circle cx="381.0" cy="476.4" r="1.15"/><circle cx="397.5" cy="484.4" r="1.15"/><circle cx="395.4" cy="467.1" r="1.15"/><circle cx="391.5" cy="466.5" r="1.15"/><circle cx="389.7" cy="471.6" r="1.15"/><circle cx="402.5" cy="471.9" r="1.15"/><circle cx="402.4" cy="476.5" r="1.15"/><circle cx="401.1" cy="470.1" r="1.15"/><circle cx="400.4" cy="481.5" r="1.15"/><circle cx="387.7" cy="481.8" r="1.15"/><circle cx="383.4" cy="479.6" r="1.15"/><circle cx="390.3" cy="470.0" r="1.15"/><circle cx="383.0" cy="481.0" r="1.15"/><circle cx="397.3" cy="460.9" r="1.15"/><circle cx="387.8" cy="470.1" r="1.15"/><circle cx="393.2" cy="483.5" r="1.15"/><circle cx="403.0" cy="476.3" r="1.15"/><circle cx="387.5" cy="461.4" r="1.15"/><circle cx="379.5" cy="473.0" r="1.15"/><circle cx="393.3" cy="471.0" r="1.15"/><circle cx="404.0" cy="470.1" r="1.15"/><circle cx="387.1" cy="470.2" r="1.15"/><circle cx="393.5" cy="473.7" r="1.15"/><circle cx="389.1" cy="465.5" r="1.15"/><circle cx="386.2" cy="472.3" r="1.15"/><circle cx="389.7" cy="486.0" r="1.15"/><circle cx="392.8" cy="464.2" r="1.15"/><circle cx="387.0" cy="480.5" r="1.15"/><circle cx="401.5" cy="465.1" r="1.15"/><circle cx="398.6" cy="470.9" r="1.15"/><circle cx="392.1" cy="473.4" r="1.15"/><circle cx="395.6" cy="477.8" r="1.15"/><circle cx="387.9" cy="484.3" r="1.15"/><circle cx="399.7" cy="466.9" r="1.15"/><circle cx="379.5" cy="474.0" r="1.15"/><circle cx="395.2" cy="464.7" r="1.15"/><circle cx="378.9" cy="472.1" r="1.15"/><circle cx="394.5" cy="466.3" r="1.15"/><circle cx="389.6" cy="465.0" r="1.15"/><circle cx="382.7" cy="463.5" r="1.15"/><circle cx="399.6" cy="471.2" r="1.15"/><circle cx="396.9" cy="468.2" r="1.15"/><circle cx="399.3" cy="475.2" r="1.15"/><circle cx="395.2" cy="469.5" r="1.15"/><circle cx="392.8" cy="463.8" r="1.15"/><circle cx="392.0" cy="476.4" r="1.15"/><circle cx="380.4" cy="467.8" r="1.15"/><circle cx="383.9" cy="482.2" r="1.15"/><circle cx="378.0" cy="470.9" r="1.15"/><circle cx="401.0" cy="480.5" r="1.15"/><circle cx="397.0" cy="466.9" r="1.15"/><circle cx="383.9" cy="478.3" r="1.15"/><circle cx="385.7" cy="478.8" r="1.15"/><circle cx="387.1" cy="479.8" r="1.15"/><circle cx="393.1" cy="481.4" r="1.15"/><circle cx="392.3" cy="469.3" r="1.15"/><circle cx="398.3" cy="467.3" r="1.15"/><circle cx="383.3" cy="480.5" r="1.15"/><circle cx="392.4" cy="479.7" r="1.15"/><circle cx="390.8" cy="459.4" r="1.15"/><circle cx="398.4" cy="464.6" r="1.15"/><circle cx="384.6" cy="477.2" r="1.15"/><circle cx="398.2" cy="476.3" r="1.15"/><circle cx="389.6" cy="479.1" r="1.15"/><circle cx="395.6" cy="464.2" r="1.15"/><circle cx="392.0" cy="475.3" r="1.15"/><circle cx="397.2" cy="464.0" r="1.15"/><circle cx="386.0" cy="468.1" r="1.15"/><circle cx="380.3" cy="468.2" r="1.15"/><circle cx="397.3" cy="474.7" r="1.15"/><circle cx="382.3" cy="479.0" r="1.15"/><circle cx="380.8" cy="479.6" r="1.15"/><circle cx="384.4" cy="472.9" r="1.15"/><circle cx="384.9" cy="483.3" r="1.15"/><circle cx="402.8" cy="466.4" r="1.15"/><circle cx="397.8" cy="478.0" r="1.15"/><circle cx="392.7" cy="465.6" r="1.15"/><circle cx="386.3" cy="464.0" r="1.15"/><circle cx="389.2" cy="483.7" r="1.15"/><circle cx="389.8" cy="467.1" r="1.15"/><circle cx="383.7" cy="462.9" r="1.15"/><circle cx="385.1" cy="463.0" r="1.15"/><circle cx="383.4" cy="466.5" r="1.15"/><circle cx="386.9" cy="471.8" r="1.15"/><circle cx="384.5" cy="473.9" r="1.15"/><circle cx="388.7" cy="479.2" r="1.15"/><circle cx="384.9" cy="484.4" r="1.15"/><circle cx="388.8" cy="474.9" r="1.15"/><circle cx="386.0" cy="468.6" r="1.15"/><circle cx="387.2" cy="462.4" r="1.15"/><circle cx="383.9" cy="474.2" r="1.15"/><circle cx="389.2" cy="469.2" r="1.15"/><circle cx="386.2" cy="477.6" r="1.15"/><circle cx="383.5" cy="476.6" r="1.15"/><circle cx="385.6" cy="486.1" r="1.15"/><circle cx="383.5" cy="478.9" r="1.15"/><circle cx="386.5" cy="464.5" r="1.15"/><circle cx="388.9" cy="462.4" r="1.15"/><circle cx="387.3" cy="482.9" r="1.15"/><circle cx="382.9" cy="465.6" r="1.15"/><circle cx="388.6" cy="472.4" r="1.15"/><circle cx="390.1" cy="468.9" r="1.15"/><circle cx="385.3" cy="485.5" r="1.15"/><circle cx="384.9" cy="485.7" r="1.15"/><circle cx="389.7" cy="465.2" r="1.15"/><circle cx="386.7" cy="485.0" r="1.15"/><circle cx="388.7" cy="479.9" r="1.15"/><circle cx="387.1" cy="462.5" r="1.15"/><circle cx="388.8" cy="479.2" r="1.15"/><circle cx="384.6" cy="478.1" r="1.15"/><circle cx="385.5" cy="479.9" r="1.15"/><circle cx="385.2" cy="481.3" r="1.15"/><circle cx="386.0" cy="481.6" r="1.15"/><circle cx="384.5" cy="474.4" r="1.15"/><circle cx="382.0" cy="472.9" r="1.15"/><circle cx="387.8" cy="471.2" r="1.15"/><circle cx="388.1" cy="479.3" r="1.15"/><circle cx="387.2" cy="460.2" r="1.15"/><circle cx="390.0" cy="471.6" r="1.15"/><circle cx="387.1" cy="481.6" r="1.15"/><circle cx="390.0" cy="467.1" r="1.15"/><circle cx="383.7" cy="463.7" r="1.15"/><circle cx="389.8" cy="477.6" r="1.15"/><circle cx="387.0" cy="463.3" r="1.15"/><circle cx="385.5" cy="485.2" r="1.15"/><circle cx="389.3" cy="479.4" r="1.15"/><circle cx="382.2" cy="478.4" r="1.15"/><circle cx="386.2" cy="473.0" r="1.15"/><circle cx="383.1" cy="473.5" r="1.15"/><circle cx="388.9" cy="463.3" r="1.15"/><circle cx="389.6" cy="471.1" r="1.15"/><circle cx="384.2" cy="466.2" r="1.15"/><circle cx="385.9" cy="477.2" r="1.15"/><circle cx="386.9" cy="483.7" r="1.15"/><circle cx="386.4" cy="473.5" r="1.15"/><circle cx="384.6" cy="463.1" r="1.15"/><circle cx="385.5" cy="460.7" r="1.15"/><circle cx="390.0" cy="472.8" r="1.15"/><circle cx="389.6" cy="478.5" r="1.15"/><circle cx="388.3" cy="480.1" r="1.15"/><circle cx="384.5" cy="479.3" r="1.15"/><circle cx="383.6" cy="474.7" r="1.15"/><circle cx="387.1" cy="480.6" r="1.15"/><circle cx="383.3" cy="469.0" r="1.15"/><circle cx="389.1" cy="481.4" r="1.15"/><circle cx="383.7" cy="462.7" r="1.15"/><circle cx="388.2" cy="479.8" r="1.15"/><circle cx="387.6" cy="480.7" r="1.15"/><circle cx="386.4" cy="474.9" r="1.15"/><circle cx="390.0" cy="477.2" r="1.15"/><circle cx="387.6" cy="475.6" r="1.15"/><circle cx="386.2" cy="480.1" r="1.15"/><circle cx="367.4" cy="472.2" r="1.15"/><circle cx="362.2" cy="478.4" r="1.15"/><circle cx="362.5" cy="481.4" r="1.15"/><circle cx="360.0" cy="477.8" r="1.15"/><circle cx="362.3" cy="477.3" r="1.15"/><circle cx="361.2" cy="479.0" r="1.15"/><circle cx="368.1" cy="477.3" r="1.15"/><circle cx="357.3" cy="479.4" r="1.15"/><circle cx="358.7" cy="470.6" r="1.15"/><circle cx="355.8" cy="474.9" r="1.15"/><circle cx="371.8" cy="486.4" r="1.15"/><circle cx="363.8" cy="477.7" r="1.15"/><circle cx="355.5" cy="486.5" r="1.15"/><circle cx="351.3" cy="482.1" r="1.15"/><circle cx="363.4" cy="472.5" r="1.15"/><circle cx="349.4" cy="485.1" r="1.15"/><circle cx="370.7" cy="479.5" r="1.15"/><circle cx="368.9" cy="471.5" r="1.15"/><circle cx="368.0" cy="478.4" r="1.15"/><circle cx="356.1" cy="489.3" r="1.15"/><circle cx="372.9" cy="472.0" r="1.15"/><circle cx="355.3" cy="476.7" r="1.15"/><circle cx="367.4" cy="476.3" r="1.15"/><circle cx="362.7" cy="486.8" r="1.15"/><circle cx="353.7" cy="484.8" r="1.15"/><circle cx="358.9" cy="489.6" r="1.15"/><circle cx="380.7" cy="476.4" r="1.15"/><circle cx="368.6" cy="471.8" r="1.15"/><circle cx="361.7" cy="482.7" r="1.15"/><circle cx="369.7" cy="476.7" r="1.15"/><circle cx="367.0" cy="473.1" r="1.15"/><circle cx="358.0" cy="482.6" r="1.15"/><circle cx="378.9" cy="480.4" r="1.15"/><circle cx="356.2" cy="481.9" r="1.15"/><circle cx="357.0" cy="486.1" r="1.15"/><circle cx="352.8" cy="475.0" r="1.15"/><circle cx="362.7" cy="488.8" r="1.15"/><circle cx="353.1" cy="473.5" r="1.15"/><circle cx="351.9" cy="474.0" r="1.15"/><circle cx="359.0" cy="477.9" r="1.15"/><circle cx="374.0" cy="478.0" r="1.15"/><circle cx="364.0" cy="477.9" r="1.15"/><circle cx="374.5" cy="488.7" r="1.15"/><circle cx="362.2" cy="489.1" r="1.15"/><circle cx="365.7" cy="484.0" r="1.15"/><circle cx="360.7" cy="475.2" r="1.15"/><circle cx="359.9" cy="484.4" r="1.15"/><circle cx="363.5" cy="480.7" r="1.15"/><circle cx="354.6" cy="473.2" r="1.15"/><circle cx="359.1" cy="484.0" r="1.15"/><circle cx="366.4" cy="469.5" r="1.15"/><circle cx="372.2" cy="478.7" r="1.15"/><circle cx="349.7" cy="475.0" r="1.15"/><circle cx="354.7" cy="487.0" r="1.15"/><circle cx="366.6" cy="476.4" r="1.15"/><circle cx="356.0" cy="475.6" r="1.15"/><circle cx="357.1" cy="476.8" r="1.15"/><circle cx="375.1" cy="486.3" r="1.15"/><circle cx="371.8" cy="488.3" r="1.15"/><circle cx="370.3" cy="471.8" r="1.15"/><circle cx="356.4" cy="480.7" r="1.15"/><circle cx="373.7" cy="482.9" r="1.15"/><circle cx="367.6" cy="475.3" r="1.15"/><circle cx="366.3" cy="471.0" r="1.15"/><circle cx="371.1" cy="477.8" r="1.15"/><circle cx="374.7" cy="476.5" r="1.15"/><circle cx="370.9" cy="485.0" r="1.15"/><circle cx="365.3" cy="476.0" r="1.15"/><circle cx="361.7" cy="483.5" r="1.15"/><circle cx="366.4" cy="474.1" r="1.15"/><circle cx="367.7" cy="490.5" r="1.15"/><circle cx="364.8" cy="473.6" r="1.15"/><circle cx="370.7" cy="484.5" r="1.15"/><circle cx="368.9" cy="474.0" r="1.15"/><circle cx="363.7" cy="475.3" r="1.15"/><circle cx="368.9" cy="480.5" r="1.15"/><circle cx="369.5" cy="486.0" r="1.15"/><circle cx="374.8" cy="480.3" r="1.15"/><circle cx="363.2" cy="483.2" r="1.15"/><circle cx="373.0" cy="472.8" r="1.15"/><circle cx="365.5" cy="488.7" r="1.15"/><circle cx="371.6" cy="472.4" r="1.15"/><circle cx="371.6" cy="487.5" r="1.15"/><circle cx="367.3" cy="473.4" r="1.15"/><circle cx="371.1" cy="477.0" r="1.15"/><circle cx="363.1" cy="473.6" r="1.15"/><circle cx="367.2" cy="472.8" r="1.15"/><circle cx="366.9" cy="482.1" r="1.15"/><circle cx="369.5" cy="478.9" r="1.15"/><circle cx="366.1" cy="490.5" r="1.15"/><circle cx="372.8" cy="481.8" r="1.15"/><circle cx="373.1" cy="482.6" r="1.15"/><circle cx="362.8" cy="475.6" r="1.15"/><circle cx="366.0" cy="479.0" r="1.15"/><circle cx="369.3" cy="472.2" r="1.15"/><circle cx="371.9" cy="487.5" r="1.15"/><circle cx="373.3" cy="489.4" r="1.15"/><circle cx="365.9" cy="473.2" r="1.15"/><circle cx="372.7" cy="485.3" r="1.15"/><circle cx="388.5" cy="476.8" r="1.15"/><circle cx="383.5" cy="489.6" r="1.15"/><circle cx="390.6" cy="489.1" r="1.15"/><circle cx="387.8" cy="476.2" r="1.15"/><circle cx="391.8" cy="487.3" r="1.15"/><circle cx="400.3" cy="477.1" r="1.15"/><circle cx="395.9" cy="478.4" r="1.15"/><circle cx="399.8" cy="487.7" r="1.15"/><circle cx="392.8" cy="477.3" r="1.15"/><circle cx="386.3" cy="491.0" r="1.15"/><circle cx="398.4" cy="475.8" r="1.15"/><circle cx="398.6" cy="481.7" r="1.15"/><circle cx="392.7" cy="481.9" r="1.15"/><circle cx="389.4" cy="482.4" r="1.15"/><circle cx="395.5" cy="484.6" r="1.15"/><circle cx="398.6" cy="485.9" r="1.15"/><circle cx="397.9" cy="471.8" r="1.15"/><circle cx="392.2" cy="488.0" r="1.15"/><circle cx="383.6" cy="481.6" r="1.15"/><circle cx="400.7" cy="487.4" r="1.15"/><circle cx="389.2" cy="480.3" r="1.15"/><circle cx="398.0" cy="485.6" r="1.15"/><circle cx="387.0" cy="487.0" r="1.15"/><circle cx="391.2" cy="488.7" r="1.15"/><circle cx="388.4" cy="490.9" r="1.15"/><circle cx="395.7" cy="479.6" r="1.15"/><circle cx="392.9" cy="488.9" r="1.15"/><circle cx="392.2" cy="493.0" r="1.15"/><circle cx="396.4" cy="480.6" r="1.15"/><circle cx="399.5" cy="471.7" r="1.15"/><circle cx="387.8" cy="486.5" r="1.15"/><circle cx="398.9" cy="477.6" r="1.15"/><circle cx="381.8" cy="482.7" r="1.15"/><circle cx="387.4" cy="474.6" r="1.15"/><circle cx="390.3" cy="469.8" r="1.15"/><circle cx="392.8" cy="479.4" r="1.15"/><circle cx="387.1" cy="483.6" r="1.15"/><circle cx="388.0" cy="493.4" r="1.15"/><circle cx="382.8" cy="476.9" r="1.15"/><circle cx="382.9" cy="478.9" r="1.15"/><circle cx="386.3" cy="469.3" r="1.15"/><circle cx="392.1" cy="475.7" r="1.15"/><circle cx="395.5" cy="482.5" r="1.15"/><circle cx="393.7" cy="475.7" r="1.15"/><circle cx="396.9" cy="485.9" r="1.15"/><circle cx="396.4" cy="480.1" r="1.15"/><circle cx="390.7" cy="475.3" r="1.15"/><circle cx="380.9" cy="480.0" r="1.15"/><circle cx="394.2" cy="472.7" r="1.15"/><circle cx="399.6" cy="489.2" r="1.15"/><circle cx="391.2" cy="472.4" r="1.15"/><circle cx="386.2" cy="487.1" r="1.15"/><circle cx="388.0" cy="483.5" r="1.15"/><circle cx="387.8" cy="491.6" r="1.15"/><circle cx="387.6" cy="475.8" r="1.15"/><circle cx="393.6" cy="489.4" r="1.15"/><circle cx="381.5" cy="482.0" r="1.15"/><circle cx="392.3" cy="492.9" r="1.15"/><circle cx="392.9" cy="477.2" r="1.15"/><circle cx="393.3" cy="492.3" r="1.15"/><circle cx="385.9" cy="489.3" r="1.15"/><circle cx="380.4" cy="478.7" r="1.15"/><circle cx="388.4" cy="483.0" r="1.15"/><circle cx="385.4" cy="486.4" r="1.15"/><circle cx="395.0" cy="470.3" r="1.15"/><circle cx="396.0" cy="476.9" r="1.15"/><circle cx="390.6" cy="488.6" r="1.15"/><circle cx="392.2" cy="475.0" r="1.15"/><circle cx="391.9" cy="493.5" r="1.15"/><circle cx="396.8" cy="485.3" r="1.15"/><circle cx="399.4" cy="478.5" r="1.15"/><circle cx="392.9" cy="490.0" r="1.15"/><circle cx="384.6" cy="490.3" r="1.15"/><circle cx="380.6" cy="481.9" r="1.15"/><circle cx="393.2" cy="471.6" r="1.15"/><circle cx="401.2" cy="479.3" r="1.15"/><circle cx="384.3" cy="478.6" r="1.15"/><circle cx="393.6" cy="479.0" r="1.15"/><circle cx="396.4" cy="471.3" r="1.15"/><circle cx="385.9" cy="489.0" r="1.15"/><circle cx="397.3" cy="483.5" r="1.15"/><circle cx="389.9" cy="474.0" r="1.15"/><circle cx="393.5" cy="493.5" r="1.15"/><circle cx="396.0" cy="470.6" r="1.15"/><circle cx="385.1" cy="479.3" r="1.15"/><circle cx="387.3" cy="480.2" r="1.15"/><circle cx="383.7" cy="478.3" r="1.15"/><circle cx="396.1" cy="476.3" r="1.15"/><circle cx="398.3" cy="472.6" r="1.15"/><circle cx="382.3" cy="484.2" r="1.15"/><circle cx="390.4" cy="491.9" r="1.15"/><circle cx="424.4" cy="469.5" r="1.15"/><circle cx="431.8" cy="464.6" r="1.15"/><circle cx="424.7" cy="467.8" r="1.15"/><circle cx="433.0" cy="465.9" r="1.15"/><circle cx="429.2" cy="468.7" r="1.15"/><circle cx="431.0" cy="465.3" r="1.15"/><circle cx="425.5" cy="465.8" r="1.15"/><circle cx="430.3" cy="471.5" r="1.15"/><circle cx="436.1" cy="467.0" r="1.15"/><circle cx="427.3" cy="462.7" r="1.15"/><circle cx="431.3" cy="469.4" r="1.15"/><circle cx="426.3" cy="468.8" r="1.15"/><circle cx="435.4" cy="465.5" r="1.15"/><circle cx="431.6" cy="471.1" r="1.15"/><circle cx="425.7" cy="464.3" r="1.15"/><circle cx="427.0" cy="466.0" r="1.15"/><circle cx="432.8" cy="468.0" r="1.15"/><circle cx="435.3" cy="468.5" r="1.15"/><circle cx="423.5" cy="465.4" r="1.15"/><circle cx="423.4" cy="466.6" r="1.15"/><circle cx="431.4" cy="462.4" r="1.15"/><circle cx="434.3" cy="465.2" r="1.15"/><circle cx="435.7" cy="464.5" r="1.15"/><circle cx="431.2" cy="466.8" r="1.15"/><circle cx="426.5" cy="469.9" r="1.15"/><circle cx="427.2" cy="471.3" r="1.15"/><circle cx="429.6" cy="460.3" r="1.15"/><circle cx="426.9" cy="467.7" r="1.15"/><circle cx="433.7" cy="461.2" r="1.15"/><circle cx="433.3" cy="464.9" r="1.15"/><circle cx="429.9" cy="465.3" r="1.15"/><circle cx="428.8" cy="472.7" r="1.15"/><circle cx="432.7" cy="468.9" r="1.15"/><circle cx="434.0" cy="468.5" r="1.15"/><circle cx="431.3" cy="463.9" r="1.15"/><circle cx="426.5" cy="471.8" r="1.15"/><circle cx="430.0" cy="460.1" r="1.15"/><circle cx="427.5" cy="464.3" r="1.15"/><circle cx="424.5" cy="469.2" r="1.15"/><circle cx="433.7" cy="470.1" r="1.15"/><circle cx="433.5" cy="461.4" r="1.15"/><circle cx="434.1" cy="470.6" r="1.15"/><circle cx="429.8" cy="462.8" r="1.15"/><circle cx="436.0" cy="465.2" r="1.15"/><circle cx="433.2" cy="470.2" r="1.15"/><circle cx="430.7" cy="472.6" r="1.15"/><circle cx="432.9" cy="462.7" r="1.15"/><circle cx="427.3" cy="464.2" r="1.15"/><circle cx="428.7" cy="461.5" r="1.15"/><circle cx="436.2" cy="466.2" r="1.15"/><circle cx="432.3" cy="466.6" r="1.15"/><circle cx="433.1" cy="464.2" r="1.15"/><circle cx="424.4" cy="482.6" r="1.15"/><circle cx="428.1" cy="484.8" r="1.15"/><circle cx="423.0" cy="484.2" r="1.15"/><circle cx="428.6" cy="479.9" r="1.15"/><circle cx="424.3" cy="479.8" r="1.15"/><circle cx="423.0" cy="472.7" r="1.15"/><circle cx="428.5" cy="480.5" r="1.15"/><circle cx="421.7" cy="482.2" r="1.15"/><circle cx="429.7" cy="480.6" r="1.15"/><circle cx="422.0" cy="479.7" r="1.15"/><circle cx="424.1" cy="475.0" r="1.15"/><circle cx="427.2" cy="485.5" r="1.15"/><circle cx="421.2" cy="475.0" r="1.15"/><circle cx="425.6" cy="471.7" r="1.15"/><circle cx="422.9" cy="479.3" r="1.15"/><circle cx="425.3" cy="485.2" r="1.15"/><circle cx="426.5" cy="480.9" r="1.15"/><circle cx="426.6" cy="483.2" r="1.15"/><circle cx="421.9" cy="481.2" r="1.15"/><circle cx="425.4" cy="470.9" r="1.15"/><circle cx="422.4" cy="476.8" r="1.15"/><circle cx="422.4" cy="474.7" r="1.15"/><circle cx="423.2" cy="477.3" r="1.15"/><circle cx="423.7" cy="475.9" r="1.15"/><circle cx="428.6" cy="478.6" r="1.15"/><circle cx="430.7" cy="478.0" r="1.15"/><circle cx="421.7" cy="483.8" r="1.15"/><circle cx="425.5" cy="479.7" r="1.15"/><circle cx="420.5" cy="475.8" r="1.15"/><circle cx="427.0" cy="481.4" r="1.15"/><circle cx="427.2" cy="480.6" r="1.15"/><circle cx="423.9" cy="471.9" r="1.15"/><circle cx="421.2" cy="476.3" r="1.15"/><circle cx="421.6" cy="484.4" r="1.15"/><circle cx="429.6" cy="484.0" r="1.15"/><circle cx="424.0" cy="485.6" r="1.15"/><circle cx="422.4" cy="479.9" r="1.15"/><circle cx="427.8" cy="474.5" r="1.15"/><circle cx="424.0" cy="472.4" r="1.15"/><circle cx="429.4" cy="473.7" r="1.15"/><circle cx="420.8" cy="475.2" r="1.15"/><circle cx="427.3" cy="480.9" r="1.15"/><circle cx="425.8" cy="484.3" r="1.15"/><circle cx="428.8" cy="474.1" r="1.15"/><circle cx="426.0" cy="473.5" r="1.15"/><circle cx="422.1" cy="473.1" r="1.15"/><circle cx="420.0" cy="476.3" r="1.15"/><circle cx="430.5" cy="481.2" r="1.15"/><circle cx="420.1" cy="474.3" r="1.15"/><circle cx="426.7" cy="479.2" r="1.15"/><circle cx="426.4" cy="480.3" r="1.15"/><circle cx="422.1" cy="480.1" r="1.15"/><circle cx="425.9" cy="476.2" r="1.15"/><circle cx="431.3" cy="477.1" r="1.15"/><circle cx="424.5" cy="479.3" r="1.15"/><circle cx="429.0" cy="479.3" r="1.15"/><circle cx="428.3" cy="480.9" r="1.15"/><circle cx="428.9" cy="474.2" r="1.15"/><circle cx="426.4" cy="477.7" r="1.15"/><circle cx="422.0" cy="483.1" r="1.15"/><circle cx="421.9" cy="482.0" r="1.15"/><circle cx="425.4" cy="477.5" r="1.15"/><circle cx="430.0" cy="481.4" r="1.15"/><circle cx="431.2" cy="469.2" r="1.15"/><circle cx="429.5" cy="475.3" r="1.15"/><circle cx="433.0" cy="474.1" r="1.15"/><circle cx="425.4" cy="463.0" r="1.15"/><circle cx="426.9" cy="476.3" r="1.15"/><circle cx="424.8" cy="465.1" r="1.15"/><circle cx="427.1" cy="464.2" r="1.15"/><circle cx="423.0" cy="474.0" r="1.15"/><circle cx="425.3" cy="475.5" r="1.15"/><circle cx="427.7" cy="472.5" r="1.15"/><circle cx="428.1" cy="487.8" r="1.15"/><circle cx="424.5" cy="471.6" r="1.15"/><circle cx="425.0" cy="481.8" r="1.15"/><circle cx="427.2" cy="483.2" r="1.15"/><circle cx="423.5" cy="472.0" r="1.15"/><circle cx="426.0" cy="472.4" r="1.15"/><circle cx="433.4" cy="473.9" r="1.15"/><circle cx="428.3" cy="487.6" r="1.15"/><circle cx="429.1" cy="477.9" r="1.15"/><circle cx="431.6" cy="471.1" r="1.15"/><circle cx="427.7" cy="477.6" r="1.15"/><circle cx="421.7" cy="481.9" r="1.15"/><circle cx="425.7" cy="479.2" r="1.15"/><circle cx="424.5" cy="486.4" r="1.15"/><circle cx="425.6" cy="469.5" r="1.15"/><circle cx="432.4" cy="468.2" r="1.15"/><circle cx="424.3" cy="475.1" r="1.15"/><circle cx="423.5" cy="483.2" r="1.15"/><circle cx="421.8" cy="473.2" r="1.15"/><circle cx="431.0" cy="481.0" r="1.15"/><circle cx="431.1" cy="465.4" r="1.15"/><circle cx="432.4" cy="471.7" r="1.15"/><circle cx="431.4" cy="474.7" r="1.15"/><circle cx="432.4" cy="474.9" r="1.15"/><circle cx="424.2" cy="466.3" r="1.15"/><circle cx="427.3" cy="463.6" r="1.15"/><circle cx="428.3" cy="485.0" r="1.15"/><circle cx="422.8" cy="474.9" r="1.15"/><circle cx="426.9" cy="465.1" r="1.15"/><circle cx="424.2" cy="486.5" r="1.15"/><circle cx="430.2" cy="475.7" r="1.15"/><circle cx="428.7" cy="484.9" r="1.15"/><circle cx="433.2" cy="477.9" r="1.15"/><circle cx="422.9" cy="468.6" r="1.15"/><circle cx="422.6" cy="475.8" r="1.15"/><circle cx="428.4" cy="474.4" r="1.15"/><circle cx="426.9" cy="466.0" r="1.15"/><circle cx="430.1" cy="476.4" r="1.15"/><circle cx="424.8" cy="484.2" r="1.15"/><circle cx="425.9" cy="474.1" r="1.15"/><circle cx="424.1" cy="481.9" r="1.15"/><circle cx="427.4" cy="487.7" r="1.15"/><circle cx="432.4" cy="474.2" r="1.15"/><circle cx="422.2" cy="474.3" r="1.15"/><circle cx="427.5" cy="483.0" r="1.15"/><circle cx="423.2" cy="469.7" r="1.15"/><circle cx="428.7" cy="464.8" r="1.15"/><circle cx="430.6" cy="473.4" r="1.15"/><circle cx="432.2" cy="468.3" r="1.15"/><circle cx="421.8" cy="472.5" r="1.15"/><circle cx="433.4" cy="471.6" r="1.15"/><circle cx="427.5" cy="476.5" r="1.15"/><circle cx="422.1" cy="477.6" r="1.15"/><circle cx="426.6" cy="470.9" r="1.15"/><circle cx="431.6" cy="480.5" r="1.15"/><circle cx="429.1" cy="487.8" r="1.15"/><circle cx="422.4" cy="483.1" r="1.15"/><circle cx="430.7" cy="474.7" r="1.15"/><circle cx="422.3" cy="468.0" r="1.15"/><circle cx="422.5" cy="478.4" r="1.15"/><circle cx="428.9" cy="484.9" r="1.15"/><circle cx="424.2" cy="485.1" r="1.15"/><circle cx="422.2" cy="483.2" r="1.15"/><circle cx="432.5" cy="477.1" r="1.15"/><circle cx="428.7" cy="478.4" r="1.15"/><circle cx="430.8" cy="475.9" r="1.15"/><circle cx="422.3" cy="468.2" r="1.15"/><circle cx="401.5" cy="482.8" r="1.15"/><circle cx="394.4" cy="484.5" r="1.15"/><circle cx="403.4" cy="487.5" r="1.15"/><circle cx="397.6" cy="491.6" r="1.15"/><circle cx="400.6" cy="484.4" r="1.15"/><circle cx="400.4" cy="490.6" r="1.15"/><circle cx="397.8" cy="486.3" r="1.15"/><circle cx="400.5" cy="491.9" r="1.15"/><circle cx="401.3" cy="483.8" r="1.15"/><circle cx="400.6" cy="485.2" r="1.15"/><circle cx="399.2" cy="489.1" r="1.15"/><circle cx="393.3" cy="487.1" r="1.15"/><circle cx="397.1" cy="488.0" r="1.15"/><circle cx="403.7" cy="486.7" r="1.15"/><circle cx="401.2" cy="484.9" r="1.15"/><circle cx="389.8" cy="516.5" r="1.15"/><circle cx="392.2" cy="513.4" r="1.15"/><circle cx="394.2" cy="516.4" r="1.15"/><circle cx="390.7" cy="513.7" r="1.15"/><circle cx="388.2" cy="517.8" r="1.15"/><circle cx="393.4" cy="514.6" r="1.15"/><circle cx="391.4" cy="518.4" r="1.15"/><circle cx="389.0" cy="514.9" r="1.15"/><circle cx="394.4" cy="518.4" r="1.15"/><circle cx="392.6" cy="512.1" r="1.15"/><circle cx="389.5" cy="513.8" r="1.15"/><circle cx="387.9" cy="517.9" r="1.15"/><circle cx="392.5" cy="521.0" r="1.15"/><circle cx="392.4" cy="520.9" r="1.15"/><circle cx="391.6" cy="516.6" r="1.15"/><circle cx="390.0" cy="516.0" r="1.15"/><circle cx="395.7" cy="516.3" r="1.15"/><circle cx="389.3" cy="517.7" r="1.15"/><circle cx="392.0" cy="516.1" r="1.15"/><circle cx="393.6" cy="517.4" r="1.15"/><circle cx="393.2" cy="516.4" r="1.15"/><circle cx="387.9" cy="515.9" r="1.15"/><circle cx="394.8" cy="517.5" r="1.15"/><circle cx="395.4" cy="516.9" r="1.15"/><circle cx="310.1" cy="370.9" r="1.15"/><circle cx="317.0" cy="372.0" r="1.15"/><circle cx="309.0" cy="368.3" r="1.15"/><circle cx="319.3" cy="367.0" r="1.15"/><circle cx="308.7" cy="369.3" r="1.15"/><circle cx="321.3" cy="370.0" r="1.15"/><circle cx="316.0" cy="365.3" r="1.15"/><circle cx="312.5" cy="364.9" r="1.15"/><circle cx="314.4" cy="363.8" r="1.15"/><circle cx="317.1" cy="370.3" r="1.15"/><circle cx="320.6" cy="371.6" r="1.15"/><circle cx="315.5" cy="373.4" r="1.15"/><circle cx="314.8" cy="364.2" r="1.15"/><circle cx="317.8" cy="365.2" r="1.15"/><circle cx="321.8" cy="369.1" r="1.15"/><circle cx="320.6" cy="368.6" r="1.15"/><circle cx="312.4" cy="370.5" r="1.15"/><circle cx="317.9" cy="368.3" r="1.15"/><circle cx="311.7" cy="367.8" r="1.15"/><circle cx="317.9" cy="365.8" r="1.15"/><circle cx="310.0" cy="368.5" r="1.15"/><circle cx="317.1" cy="364.0" r="1.15"/><circle cx="311.6" cy="371.6" r="1.15"/><circle cx="312.1" cy="364.2" r="1.15"/><circle cx="314.7" cy="372.7" r="1.15"/><circle cx="317.8" cy="370.0" r="1.15"/><circle cx="314.6" cy="370.5" r="1.15"/><circle cx="329.1" cy="360.0" r="1.15"/><circle cx="332.1" cy="358.7" r="1.15"/><circle cx="325.4" cy="376.0" r="1.15"/><circle cx="329.9" cy="367.9" r="1.15"/><circle cx="332.4" cy="367.4" r="1.15"/><circle cx="326.7" cy="368.9" r="1.15"/><circle cx="335.8" cy="371.3" r="1.15"/><circle cx="322.8" cy="376.1" r="1.15"/><circle cx="324.9" cy="374.9" r="1.15"/><circle cx="331.3" cy="370.1" r="1.15"/><circle cx="332.9" cy="362.0" r="1.15"/><circle cx="334.5" cy="368.6" r="1.15"/><circle cx="333.2" cy="375.8" r="1.15"/><circle cx="324.4" cy="365.5" r="1.15"/><circle cx="326.3" cy="357.4" r="1.15"/><circle cx="335.2" cy="372.1" r="1.15"/><circle cx="328.5" cy="368.7" r="1.15"/><circle cx="326.2" cy="372.1" r="1.15"/><circle cx="329.3" cy="367.5" r="1.15"/><circle cx="324.5" cy="361.0" r="1.15"/><circle cx="331.7" cy="363.8" r="1.15"/><circle cx="329.0" cy="358.1" r="1.15"/><circle cx="326.3" cy="357.4" r="1.15"/><circle cx="328.7" cy="378.6" r="1.15"/><circle cx="333.3" cy="364.3" r="1.15"/><circle cx="324.8" cy="378.0" r="1.15"/><circle cx="336.5" cy="371.1" r="1.15"/><circle cx="326.8" cy="365.8" r="1.15"/><circle cx="330.6" cy="368.2" r="1.15"/><circle cx="333.5" cy="371.1" r="1.15"/><circle cx="331.4" cy="357.4" r="1.15"/><circle cx="326.3" cy="366.9" r="1.15"/><circle cx="331.1" cy="357.1" r="1.15"/><circle cx="329.8" cy="373.3" r="1.15"/><circle cx="322.7" cy="373.8" r="1.15"/><circle cx="332.5" cy="368.7" r="1.15"/><circle cx="334.3" cy="375.0" r="1.15"/><circle cx="330.9" cy="371.7" r="1.15"/><circle cx="323.1" cy="363.7" r="1.15"/><circle cx="325.7" cy="376.2" r="1.15"/><circle cx="333.6" cy="362.6" r="1.15"/><circle cx="321.1" cy="363.5" r="1.15"/><circle cx="326.2" cy="364.9" r="1.15"/><circle cx="334.9" cy="368.4" r="1.15"/><circle cx="331.0" cy="366.2" r="1.15"/><circle cx="328.0" cy="378.6" r="1.15"/><circle cx="324.8" cy="368.2" r="1.15"/><circle cx="328.3" cy="359.0" r="1.15"/><circle cx="322.5" cy="367.8" r="1.15"/><circle cx="333.9" cy="366.0" r="1.15"/><circle cx="320.8" cy="371.2" r="1.15"/><circle cx="322.5" cy="361.8" r="1.15"/><circle cx="327.3" cy="373.7" r="1.15"/><circle cx="327.6" cy="365.6" r="1.15"/><circle cx="327.0" cy="368.1" r="1.15"/><circle cx="323.3" cy="358.8" r="1.15"/><circle cx="329.5" cy="364.0" r="1.15"/><circle cx="331.8" cy="364.3" r="1.15"/><circle cx="336.1" cy="362.8" r="1.15"/><circle cx="327.5" cy="363.2" r="1.15"/><circle cx="329.3" cy="362.3" r="1.15"/><circle cx="331.7" cy="365.5" r="1.15"/><circle cx="332.3" cy="362.6" r="1.15"/><circle cx="327.9" cy="369.0" r="1.15"/><circle cx="332.5" cy="371.3" r="1.15"/><circle cx="327.5" cy="357.7" r="1.15"/><circle cx="323.2" cy="360.0" r="1.15"/><circle cx="331.5" cy="363.8" r="1.15"/><circle cx="335.8" cy="361.2" r="1.15"/><circle cx="324.3" cy="360.0" r="1.15"/><circle cx="322.5" cy="372.0" r="1.15"/><circle cx="330.1" cy="361.6" r="1.15"/><circle cx="323.0" cy="385.4" r="1.15"/><circle cx="316.4" cy="384.3" r="1.15"/><circle cx="320.3" cy="381.5" r="1.15"/><circle cx="310.5" cy="380.3" r="1.15"/><circle cx="325.4" cy="380.4" r="1.15"/><circle cx="320.0" cy="375.7" r="1.15"/><circle cx="322.4" cy="388.5" r="1.15"/><circle cx="315.4" cy="380.4" r="1.15"/><circle cx="317.8" cy="378.4" r="1.15"/><circle cx="312.6" cy="376.4" r="1.15"/><circle cx="320.9" cy="382.7" r="1.15"/><circle cx="324.1" cy="384.4" r="1.15"/><circle cx="319.7" cy="381.5" r="1.15"/><circle cx="316.3" cy="376.7" r="1.15"/><circle cx="318.4" cy="378.8" r="1.15"/><circle cx="318.9" cy="388.7" r="1.15"/><circle cx="314.0" cy="383.8" r="1.15"/><circle cx="313.7" cy="387.9" r="1.15"/><circle cx="312.5" cy="384.9" r="1.15"/><circle cx="318.6" cy="379.6" r="1.15"/><circle cx="310.3" cy="382.3" r="1.15"/><circle cx="318.0" cy="387.7" r="1.15"/><circle cx="312.4" cy="377.3" r="1.15"/><circle cx="314.2" cy="387.5" r="1.15"/><circle cx="312.9" cy="384.7" r="1.15"/><circle cx="321.2" cy="382.4" r="1.15"/><circle cx="310.9" cy="382.1" r="1.15"/><circle cx="325.3" cy="380.7" r="1.15"/><circle cx="318.6" cy="381.2" r="1.15"/><circle cx="317.7" cy="375.0" r="1.15"/><circle cx="324.3" cy="383.8" r="1.15"/><circle cx="314.9" cy="379.0" r="1.15"/><circle cx="323.5" cy="380.5" r="1.15"/><circle cx="319.4" cy="383.4" r="1.15"/><circle cx="321.7" cy="377.0" r="1.15"/><circle cx="318.7" cy="374.6" r="1.15"/><circle cx="320.3" cy="384.3" r="1.15"/><circle cx="301.9" cy="376.7" r="1.15"/><circle cx="307.1" cy="384.0" r="1.15"/><circle cx="305.6" cy="383.8" r="1.15"/><circle cx="298.2" cy="382.7" r="1.15"/><circle cx="296.5" cy="385.4" r="1.15"/><circle cx="298.2" cy="387.2" r="1.15"/><circle cx="297.7" cy="387.1" r="1.15"/><circle cx="303.0" cy="387.4" r="1.15"/><circle cx="307.0" cy="381.0" r="1.15"/><circle cx="303.8" cy="382.6" r="1.15"/><circle cx="304.8" cy="385.7" r="1.15"/><circle cx="298.7" cy="390.4" r="1.15"/><circle cx="339.1" cy="396.7" r="1.15"/><circle cx="345.0" cy="397.1" r="1.15"/><circle cx="347.2" cy="388.7" r="1.15"/><circle cx="340.1" cy="396.1" r="1.15"/><circle cx="344.6" cy="390.6" r="1.15"/><circle cx="333.4" cy="388.9" r="1.15"/><circle cx="337.1" cy="381.7" r="1.15"/><circle cx="346.3" cy="393.6" r="1.15"/><circle cx="340.3" cy="391.8" r="1.15"/><circle cx="342.8" cy="399.5" r="1.15"/><circle cx="342.0" cy="390.6" r="1.15"/><circle cx="341.2" cy="387.8" r="1.15"/><circle cx="345.2" cy="381.2" r="1.15"/><circle cx="345.2" cy="399.0" r="1.15"/><circle cx="346.4" cy="390.6" r="1.15"/><circle cx="339.3" cy="380.9" r="1.15"/><circle cx="334.8" cy="390.6" r="1.15"/><circle cx="336.4" cy="395.1" r="1.15"/><circle cx="347.2" cy="389.3" r="1.15"/><circle cx="348.1" cy="382.9" r="1.15"/><circle cx="339.0" cy="390.0" r="1.15"/><circle cx="345.8" cy="388.6" r="1.15"/><circle cx="338.5" cy="397.7" r="1.15"/><circle cx="340.0" cy="387.9" r="1.15"/><circle cx="337.1" cy="389.3" r="1.15"/><circle cx="345.5" cy="386.7" r="1.15"/><circle cx="344.7" cy="389.6" r="1.15"/><circle cx="338.2" cy="390.7" r="1.15"/><circle cx="335.9" cy="397.4" r="1.15"/><circle cx="342.2" cy="379.7" r="1.15"/><circle cx="337.9" cy="389.9" r="1.15"/><circle cx="336.2" cy="385.5" r="1.15"/><circle cx="348.9" cy="388.5" r="1.15"/><circle cx="337.3" cy="391.8" r="1.15"/><circle cx="335.2" cy="390.1" r="1.15"/><circle cx="344.5" cy="380.7" r="1.15"/><circle cx="342.7" cy="385.5" r="1.15"/><circle cx="346.2" cy="392.2" r="1.15"/><circle cx="349.0" cy="392.0" r="1.15"/><circle cx="336.4" cy="382.8" r="1.15"/><circle cx="345.4" cy="396.5" r="1.15"/><circle cx="334.3" cy="387.9" r="1.15"/><circle cx="338.1" cy="389.0" r="1.15"/><circle cx="348.4" cy="391.0" r="1.15"/><circle cx="346.1" cy="395.5" r="1.15"/><circle cx="338.0" cy="392.3" r="1.15"/><circle cx="339.7" cy="389.1" r="1.15"/><circle cx="342.4" cy="393.3" r="1.15"/><circle cx="336.1" cy="397.1" r="1.15"/><circle cx="336.0" cy="385.6" r="1.15"/><circle cx="339.6" cy="399.6" r="1.15"/><circle cx="346.5" cy="382.3" r="1.15"/><circle cx="335.4" cy="386.6" r="1.15"/><circle cx="334.7" cy="389.1" r="1.15"/><circle cx="339.2" cy="394.9" r="1.15"/><circle cx="341.8" cy="399.8" r="1.15"/><circle cx="347.9" cy="382.5" r="1.15"/><circle cx="343.0" cy="390.3" r="1.15"/><circle cx="336.2" cy="385.8" r="1.15"/><circle cx="337.0" cy="383.1" r="1.15"/><circle cx="343.9" cy="385.9" r="1.15"/><circle cx="346.6" cy="391.3" r="1.15"/><circle cx="347.9" cy="389.9" r="1.15"/><circle cx="344.2" cy="384.0" r="1.15"/><circle cx="345.3" cy="387.7" r="1.15"/><circle cx="345.8" cy="391.5" r="1.15"/><circle cx="335.6" cy="385.4" r="1.15"/><circle cx="344.2" cy="390.7" r="1.15"/><circle cx="345.6" cy="386.0" r="1.15"/><circle cx="341.5" cy="389.2" r="1.15"/><circle cx="346.2" cy="380.4" r="1.15"/><circle cx="342.1" cy="384.5" r="1.15"/><circle cx="343.5" cy="384.5" r="1.15"/><circle cx="336.8" cy="383.8" r="1.15"/><circle cx="348.8" cy="386.7" r="1.15"/><circle cx="354.1" cy="395.5" r="1.15"/><circle cx="338.1" cy="390.6" r="1.15"/><circle cx="347.6" cy="378.5" r="1.15"/><circle cx="344.6" cy="389.0" r="1.15"/><circle cx="348.6" cy="383.3" r="1.15"/><circle cx="354.9" cy="392.5" r="1.15"/><circle cx="354.3" cy="383.7" r="1.15"/><circle cx="349.7" cy="399.0" r="1.15"/><circle cx="353.0" cy="382.2" r="1.15"/><circle cx="352.1" cy="394.2" r="1.15"/><circle cx="343.2" cy="400.1" r="1.15"/><circle cx="356.2" cy="391.1" r="1.15"/><circle cx="350.3" cy="393.8" r="1.15"/><circle cx="341.5" cy="389.1" r="1.15"/><circle cx="344.4" cy="381.3" r="1.15"/><circle cx="337.9" cy="398.5" r="1.15"/><circle cx="353.3" cy="394.5" r="1.15"/><circle cx="349.1" cy="389.4" r="1.15"/><circle cx="346.1" cy="393.7" r="1.15"/><circle cx="331.2" cy="387.6" r="1.15"/><circle cx="343.3" cy="377.5" r="1.15"/><circle cx="337.7" cy="398.0" r="1.15"/><circle cx="352.0" cy="399.2" r="1.15"/><circle cx="337.8" cy="400.9" r="1.15"/><circle cx="340.8" cy="387.7" r="1.15"/><circle cx="356.0" cy="390.3" r="1.15"/><circle cx="348.9" cy="378.4" r="1.15"/><circle cx="348.8" cy="380.7" r="1.15"/><circle cx="349.7" cy="384.1" r="1.15"/><circle cx="344.9" cy="377.5" r="1.15"/><circle cx="352.9" cy="397.0" r="1.15"/><circle cx="346.3" cy="394.3" r="1.15"/><circle cx="339.9" cy="378.9" r="1.15"/><circle cx="339.6" cy="395.7" r="1.15"/><circle cx="345.8" cy="379.1" r="1.15"/><circle cx="337.3" cy="388.4" r="1.15"/><circle cx="342.8" cy="379.1" r="1.15"/><circle cx="350.7" cy="397.2" r="1.15"/><circle cx="339.3" cy="390.3" r="1.15"/><circle cx="341.2" cy="402.1" r="1.15"/><circle cx="339.2" cy="386.9" r="1.15"/><circle cx="339.3" cy="393.3" r="1.15"/><circle cx="354.2" cy="394.3" r="1.15"/><circle cx="350.0" cy="389.3" r="1.15"/><circle cx="346.7" cy="396.9" r="1.15"/><circle cx="351.4" cy="393.8" r="1.15"/><circle cx="332.6" cy="388.5" r="1.15"/><circle cx="338.1" cy="392.1" r="1.15"/><circle cx="341.4" cy="387.9" r="1.15"/><circle cx="352.4" cy="365.2" r="1.15"/><circle cx="357.8" cy="360.2" r="1.15"/><circle cx="348.4" cy="358.6" r="1.15"/><circle cx="349.7" cy="370.4" r="1.15"/><circle cx="351.9" cy="355.9" r="1.15"/><circle cx="348.1" cy="363.4" r="1.15"/><circle cx="354.6" cy="358.1" r="1.15"/><circle cx="346.1" cy="361.0" r="1.15"/><circle cx="345.8" cy="368.7" r="1.15"/><circle cx="356.5" cy="369.4" r="1.15"/><circle cx="354.2" cy="360.5" r="1.15"/><circle cx="345.6" cy="366.2" r="1.15"/><circle cx="346.4" cy="366.5" r="1.15"/><circle cx="354.5" cy="359.4" r="1.15"/><circle cx="351.5" cy="359.1" r="1.15"/><circle cx="357.5" cy="365.9" r="1.15"/><circle cx="354.8" cy="365.8" r="1.15"/><circle cx="356.1" cy="364.0" r="1.15"/><circle cx="353.2" cy="363.7" r="1.15"/><circle cx="355.8" cy="364.3" r="1.15"/><circle cx="348.4" cy="364.1" r="1.15"/><circle cx="352.2" cy="369.9" r="1.15"/><circle cx="355.2" cy="359.0" r="1.15"/><circle cx="352.0" cy="365.2" r="1.15"/><circle cx="353.1" cy="363.1" r="1.15"/><circle cx="352.0" cy="366.9" r="1.15"/><circle cx="357.7" cy="364.1" r="1.15"/><circle cx="356.2" cy="366.8" r="1.15"/><circle cx="346.0" cy="359.8" r="1.15"/><circle cx="349.0" cy="361.4" r="1.15"/><circle cx="351.7" cy="360.4" r="1.15"/><circle cx="349.9" cy="367.1" r="1.15"/><circle cx="353.8" cy="371.3" r="1.15"/><circle cx="349.9" cy="370.0" r="1.15"/><circle cx="356.5" cy="360.8" r="1.15"/><circle cx="346.4" cy="368.8" r="1.15"/><circle cx="350.6" cy="361.3" r="1.15"/><circle cx="351.3" cy="367.5" r="1.15"/><circle cx="357.0" cy="373.9" r="1.15"/><circle cx="350.8" cy="376.6" r="1.15"/><circle cx="350.5" cy="378.8" r="1.15"/><circle cx="350.0" cy="381.7" r="1.15"/><circle cx="353.1" cy="375.1" r="1.15"/><circle cx="356.1" cy="376.4" r="1.15"/><circle cx="356.8" cy="385.4" r="1.15"/><circle cx="351.8" cy="375.3" r="1.15"/><circle cx="356.2" cy="373.4" r="1.15"/><circle cx="359.1" cy="381.7" r="1.15"/><circle cx="354.6" cy="371.8" r="1.15"/><circle cx="351.7" cy="377.9" r="1.15"/><circle cx="355.1" cy="372.3" r="1.15"/><circle cx="357.5" cy="383.3" r="1.15"/><circle cx="350.6" cy="375.0" r="1.15"/><circle cx="349.0" cy="380.0" r="1.15"/><circle cx="357.2" cy="375.7" r="1.15"/><circle cx="350.1" cy="377.3" r="1.15"/><circle cx="357.2" cy="379.9" r="1.15"/><circle cx="357.3" cy="376.5" r="1.15"/><circle cx="364.5" cy="372.1" r="1.15"/><circle cx="364.9" cy="368.7" r="1.15"/><circle cx="360.2" cy="368.9" r="1.15"/><circle cx="365.8" cy="374.2" r="1.15"/><circle cx="314.0" cy="395.2" r="1.15"/><circle cx="312.7" cy="393.3" r="1.15"/><circle cx="315.3" cy="395.5" r="1.15"/><circle cx="320.8" cy="394.9" r="1.15"/><circle cx="319.8" cy="395.0" r="1.15"/><circle cx="322.9" cy="392.5" r="1.15"/><circle cx="331.0" cy="402.3" r="1.15"/><circle cx="334.6" cy="402.3" r="1.15"/><circle cx="331.0" cy="404.0" r="1.15"/><circle cx="330.8" cy="393.6" r="1.15"/><circle cx="331.3" cy="399.0" r="1.15"/><circle cx="351.1" cy="321.4" r="1.15"/><circle cx="349.6" cy="320.9" r="1.15"/><circle cx="354.7" cy="342.1" r="1.15"/><circle cx="350.5" cy="341.7" r="1.15"/><circle cx="345.8" cy="338.8" r="1.15"/><circle cx="354.6" cy="341.2" r="1.15"/><circle cx="349.5" cy="335.7" r="1.15"/><circle cx="382.8" cy="330.6" r="1.15"/><circle cx="393.5" cy="341.9" r="1.15"/><circle cx="390.2" cy="343.3" r="1.15"/><circle cx="395.6" cy="307.5" r="1.15"/><circle cx="397.8" cy="306.3" r="1.15"/><circle cx="397.0" cy="306.2" r="1.15"/><circle cx="416.8" cy="310.8" r="1.15"/><circle cx="419.8" cy="308.8" r="1.15"/><circle cx="416.2" cy="307.2" r="1.15"/><circle cx="416.1" cy="313.7" r="1.15"/><circle cx="419.7" cy="311.1" r="1.15"/><circle cx="409.0" cy="322.2" r="1.15"/><circle cx="412.7" cy="309.1" r="1.15"/><circle cx="414.3" cy="314.6" r="1.15"/><circle cx="416.7" cy="313.3" r="1.15"/><circle cx="421.6" cy="301.8" r="1.15"/><circle cx="407.3" cy="316.4" r="1.15"/><circle cx="409.2" cy="317.6" r="1.15"/><circle cx="421.1" cy="309.8" r="1.15"/><circle cx="418.5" cy="313.1" r="1.15"/><circle cx="414.3" cy="314.4" r="1.15"/><circle cx="417.9" cy="303.4" r="1.15"/><circle cx="411.3" cy="316.4" r="1.15"/><circle cx="412.3" cy="309.0" r="1.15"/><circle cx="408.8" cy="321.3" r="1.15"/><circle cx="410.5" cy="311.9" r="1.15"/><circle cx="413.5" cy="311.8" r="1.15"/><circle cx="418.4" cy="313.3" r="1.15"/><circle cx="417.3" cy="304.0" r="1.15"/><circle cx="414.5" cy="310.4" r="1.15"/><circle cx="415.1" cy="308.5" r="1.15"/><circle cx="413.7" cy="313.5" r="1.15"/><circle cx="412.9" cy="314.9" r="1.15"/><circle cx="406.8" cy="320.4" r="1.15"/><circle cx="422.8" cy="301.0" r="1.15"/><circle cx="416.4" cy="313.2" r="1.15"/><circle cx="421.8" cy="306.5" r="1.15"/><circle cx="413.9" cy="315.6" r="1.15"/><circle cx="410.0" cy="319.0" r="1.15"/><circle cx="407.9" cy="318.2" r="1.15"/><circle cx="418.8" cy="311.3" r="1.15"/><circle cx="422.3" cy="302.3" r="1.15"/><circle cx="420.7" cy="306.7" r="1.15"/><circle cx="417.5" cy="304.3" r="1.15"/><circle cx="407.3" cy="321.1" r="1.15"/><circle cx="417.8" cy="310.7" r="1.15"/><circle cx="409.3" cy="319.2" r="1.15"/><circle cx="417.4" cy="308.0" r="1.15"/><circle cx="413.0" cy="313.6" r="1.15"/><circle cx="408.7" cy="315.0" r="1.15"/><circle cx="421.0" cy="302.7" r="1.15"/><circle cx="421.8" cy="304.3" r="1.15"/><circle cx="418.2" cy="307.2" r="1.15"/><circle cx="410.5" cy="317.8" r="1.15"/><circle cx="413.3" cy="317.7" r="1.15"/><circle cx="407.3" cy="322.5" r="1.15"/><circle cx="411.3" cy="315.0" r="1.15"/><circle cx="418.4" cy="313.6" r="1.15"/><circle cx="415.6" cy="311.8" r="1.15"/><circle cx="411.0" cy="320.0" r="1.15"/><circle cx="416.0" cy="313.7" r="1.15"/><circle cx="423.0" cy="303.6" r="1.15"/><circle cx="418.5" cy="308.1" r="1.15"/><circle cx="407.8" cy="319.7" r="1.15"/><circle cx="422.6" cy="301.1" r="1.15"/><circle cx="407.7" cy="319.5" r="1.15"/><circle cx="407.4" cy="322.0" r="1.15"/><circle cx="408.1" cy="316.4" r="1.15"/><circle cx="419.8" cy="311.3" r="1.15"/><circle cx="416.1" cy="310.2" r="1.15"/><circle cx="410.3" cy="311.2" r="1.15"/><circle cx="412.2" cy="315.3" r="1.15"/><circle cx="413.9" cy="317.2" r="1.15"/><circle cx="422.1" cy="306.9" r="1.15"/><circle cx="517.3" cy="87.6" r="1.15"/><circle cx="523.8" cy="86.3" r="1.15"/><circle cx="543.5" cy="115.1" r="1.15"/><circle cx="548.8" cy="123.0" r="1.15"/><circle cx="556.7" cy="116.5" r="1.15"/><circle cx="558.0" cy="120.4" r="1.15"/><circle cx="556.7" cy="127.0" r="1.15"/><circle cx="567.2" cy="124.3" r="1.15"/><circle cx="568.5" cy="136.2" r="1.15"/><circle cx="571.0" cy="142.7" r="1.15"/><circle cx="569.8" cy="144.0" r="1.15"/><circle cx="560.6" cy="154.5" r="1.15"/><circle cx="586.9" cy="131.0" r="1.15"/><circle cx="510.7" cy="137.5" r="1.15"/><circle cx="501.5" cy="131.0" r="1.15"/><circle cx="498.9" cy="136.2" r="1.15"/><circle cx="496.3" cy="138.8" r="1.15"/><circle cx="498.9" cy="123.0" r="1.15"/><circle cx="514.6" cy="157.2" r="1.15"/><circle cx="521.4" cy="144.0" r="1.15"/><circle cx="534.0" cy="140.7" r="1.15"/><circle cx="569.8" cy="142.8" r="1.15"/><circle cx="560.0" cy="155.2" r="1.15"/><circle cx="513.1" cy="157.3" r="1.15"/><circle cx="540.8" cy="169.0" r="1.15"/><circle cx="561.5" cy="177.3" r="1.15"/><circle cx="549.0" cy="180.7" r="1.15"/><circle cx="545.0" cy="189.7" r="1.15"/><circle cx="549.0" cy="189.7" r="1.15"/><circle cx="526.5" cy="188.7" r="1.15"/><circle cx="531.7" cy="194.0" r="1.15"/><circle cx="540.9" cy="197.9" r="1.15"/><circle cx="546.2" cy="196.6" r="1.15"/><circle cx="561.9" cy="178.2" r="1.15"/><circle cx="441.0" cy="261.0" r="1.15"/><circle cx="434.0" cy="268.6" r="1.15"/><circle cx="442.0" cy="255.4" r="1.15"/><circle cx="446.4" cy="256.5" r="1.15"/><circle cx="411.8" cy="258.7" r="1.15"/><circle cx="413.0" cy="258.7" r="1.15"/><circle cx="286.7" cy="426.7" r="1.15"/><circle cx="291.6" cy="422.8" r="1.15"/><circle cx="299.2" cy="388.0" r="1.15"/><circle cx="285.5" cy="426.0" r="1.15"/><circle cx="376.1" cy="364.3" r="1.15"/><circle cx="370.6" cy="355.5" r="1.15"/><circle cx="397.6" cy="327.5" r="1.15"/><circle cx="391.0" cy="350.7" r="1.15"/><circle cx="428.5" cy="357.0" r="1.15"/><circle cx="431.8" cy="358.5" r="1.15"/><circle cx="469.7" cy="423.5" r="1.15"/><circle cx="475.2" cy="428.3" r="1.15"/><circle cx="451.8" cy="422.8" r="1.15"/><circle cx="447.6" cy="430.4" r="1.15"/><circle cx="483.5" cy="372.3" r="1.15"/><circle cx="477.3" cy="391.0" r="1.15"/><circle cx="482.3" cy="392.0" r="1.15"/><circle cx="417.3" cy="451.0" r="1.15"/><circle cx="421.5" cy="454.0" r="1.15"/><circle cx="354.4" cy="476.6" r="1.15"/><circle cx="394.3" cy="301.0" r="1.15"/><circle cx="398.1" cy="303.2" r="1.15"/><circle cx="395.4" cy="306.5" r="1.15"/><circle cx="389.8" cy="307.0" r="1.15"/><circle cx="381.0" cy="315.0" r="1.15"/><circle cx="383.0" cy="316.0" r="1.15"/></g>
<g fill="#8a8436"><circle cx="478.6" cy="496.5" r="2.16"/><circle cx="413.3" cy="549.0" r="1.62"/><circle cx="423.0" cy="549.8" r="1.76"/><circle cx="429.5" cy="553.0" r="1.49"/><circle cx="416.5" cy="556.2" r="1.89"/><circle cx="418.2" cy="559.5" r="1.76"/><circle cx="427.8" cy="561.0" r="1.49"/><circle cx="411.7" cy="566.0" r="1.35"/><circle cx="424.6" cy="553.0" r="1.49"/><circle cx="420.0" cy="553.0" r="1.49"/><circle cx="499.6" cy="566.0" r="1.76"/><circle cx="457.0" cy="617.6" r="1.62"/><circle cx="466.6" cy="620.9" r="1.35"/><circle cx="458.5" cy="624.0" r="1.76"/><circle cx="463.4" cy="625.7" r="1.62"/><circle cx="460.0" cy="630.5" r="2.03"/><circle cx="461.8" cy="637.0" r="1.89"/><circle cx="453.7" cy="635.4" r="1.35"/><circle cx="474.7" cy="630.5" r="1.62"/><circle cx="481.2" cy="625.7" r="1.35"/><circle cx="489.2" cy="627.3" r="1.49"/><circle cx="494.0" cy="619.2" r="1.35"/><circle cx="500.5" cy="622.5" r="1.76"/><circle cx="507.0" cy="620.9" r="1.35"/><circle cx="502.2" cy="629.0" r="1.35"/><circle cx="482.8" cy="633.8" r="1.49"/><circle cx="487.6" cy="637.0" r="1.35"/><circle cx="497.3" cy="638.6" r="1.35"/><circle cx="476.3" cy="640.2" r="1.35"/><circle cx="492.5" cy="641.9" r="1.35"/><circle cx="489.2" cy="646.7" r="1.35"/><circle cx="439.2" cy="641.9" r="1.49"/><circle cx="452.0" cy="648.3" r="1.49"/><circle cx="457.0" cy="650.6" r="1.35"/><circle cx="466.6" cy="650.0" r="1.35"/><circle cx="431.0" cy="651.5" r="1.35"/><circle cx="424.6" cy="654.8" r="1.35"/><circle cx="473.0" cy="654.8" r="1.35"/><circle cx="466.6" cy="658.0" r="1.49"/><circle cx="447.2" cy="658.0" r="1.35"/><circle cx="440.8" cy="662.9" r="1.49"/><circle cx="455.3" cy="666.0" r="1.35"/><circle cx="423.0" cy="666.0" r="1.62"/><circle cx="406.8" cy="664.5" r="1.62"/><circle cx="402.0" cy="661.2" r="1.35"/><circle cx="397.2" cy="669.3" r="1.49"/><circle cx="394.0" cy="671.0" r="1.35"/><circle cx="452.0" cy="674.2" r="1.35"/><circle cx="448.9" cy="682.2" r="1.35"/><circle cx="437.5" cy="690.3" r="1.62"/><circle cx="436.0" cy="687.0" r="1.62"/><circle cx="462.0" cy="632.0" r="1.62"/><circle cx="459.0" cy="633.0" r="1.62"/><circle cx="508.0" cy="452.0" r="1.62"/><circle cx="508.0" cy="456.0" r="1.89"/><circle cx="507.0" cy="459.0" r="1.35"/><circle cx="534.2" cy="422.5" r="1.35"/><circle cx="535.0" cy="425.0" r="1.35"/><circle cx="552.0" cy="415.5" r="1.62"/><circle cx="553.0" cy="417.5" r="1.35"/><circle cx="563.8" cy="413.4" r="0.94"/><circle cx="521.0" cy="468.3" r="1.35"/><circle cx="534.0" cy="462.8" r="1.35"/><circle cx="535.5" cy="470.4" r="1.35"/></g>
<ellipse cx="452.7" cy="562.7" rx="7" ry="4" transform="rotate(-25 452.7 562.7)" fill="none" stroke="#8a8436" stroke-width="1.5"/>
<path d="M545.4,434.5 Q542.8,442.1 545.4,449.7" fill="none" stroke="#a9a9a9" stroke-width="6.6"/>
<path d="M545.4,434.5 Q542.8,442.1 545.4,449.7" fill="none" stroke="#111" stroke-width="1.1" stroke-dasharray="4 1.2"/>
<path d="M541.0,475.2 Q535.1,479.7 533.5,487.0" fill="none" stroke="#a9a9a9" stroke-width="6.6"/>
<path d="M541.0,475.2 Q535.1,479.7 533.5,487.0" fill="none" stroke="#111" stroke-width="1.1" stroke-dasharray="4 1.2"/>
<path d="M523.2,512.6 Q518.3,518.5 518.3,526.2" fill="none" stroke="#a9a9a9" stroke-width="6.6"/>
<path d="M523.2,512.6 Q518.3,518.5 518.3,526.2" fill="none" stroke="#111" stroke-width="1.1" stroke-dasharray="4 1.2"/>
<path d="M516.0,553.0 Q514.6,559.5 518.3,565.0" fill="none" stroke="#a9a9a9" stroke-width="6.6"/>
<path d="M516.0,553.0 Q514.6,559.5 518.3,565.0" fill="none" stroke="#111" stroke-width="1.1" stroke-dasharray="4 1.2"/>
<path d="M521.5,603.7 Q517.4,610.1 518.3,617.6" fill="none" stroke="#a9a9a9" stroke-width="6.6"/>
<path d="M521.5,603.7 Q517.4,610.1 518.3,617.6" fill="none" stroke="#111" stroke-width="1.1" stroke-dasharray="4 1.2"/>
<path d="M490.9,658.7 Q484.1,662.2 481.2,669.3" fill="none" stroke="#a9a9a9" stroke-width="6.6"/>
<path d="M490.9,658.7 Q484.1,662.2 481.2,669.3" fill="none" stroke="#111" stroke-width="1.1" stroke-dasharray="4 1.2"/>
<path d="M445.6,713.0 Q436.8,712.9 429.5,717.8" fill="none" stroke="#a9a9a9" stroke-width="6.6"/>
<path d="M445.6,713.0 Q436.8,712.9 429.5,717.8" fill="none" stroke="#111" stroke-width="1.1" stroke-dasharray="4 1.2"/>
<path d="M374.5,677.4 Q377.1,683.5 374.5,689.7" fill="none" stroke="#a9a9a9" stroke-width="6.6"/>
<path d="M374.5,677.4 Q377.1,683.5 374.5,689.7" fill="none" stroke="#111" stroke-width="1.1" stroke-dasharray="4 1.2"/>
<path d="M400.4,612.0 Q402.2,618.3 398.8,624.0" fill="none" stroke="#a9a9a9" stroke-width="6.6"/>
<path d="M400.4,612.0 Q402.2,618.3 398.8,624.0" fill="none" stroke="#111" stroke-width="1.1" stroke-dasharray="4 1.2"/>
<path d="M384.2,562.7 Q391.1,567.1 394.0,574.7" fill="none" stroke="#a9a9a9" stroke-width="6.6"/>
<path d="M384.2,562.7 Q391.1,567.1 394.0,574.7" fill="none" stroke="#111" stroke-width="1.1" stroke-dasharray="4 1.2"/>
<text transform="translate(105,460.6) scale(1,1.11)" x="0" y="0" font-size="19.5" text-anchor="middle">N</text>
<polygon points="105,462.3 123.1,491.3 105,483.4 87.1,491.3" fill="#000"/>
<rect x="47.4" y="537.3" width="197.4" height="5.7" fill="#fff" stroke="#000" stroke-width="1"/>
<rect x="47.4" y="537.3" width="17.4" height="5.7" fill="#000"/>
<rect x="80.4" y="537.3" width="17.099999999999994" height="5.7" fill="#000"/>
<rect x="146" y="537.3" width="49.900000000000006" height="5.7" fill="#000"/>
<text x="47.9" y="532.4" font-size="9.5" text-anchor="middle">0</text>
<text x="72.7" y="532.4" font-size="9.5" text-anchor="middle">125</text>
<text x="97" y="532.4" font-size="9.5" text-anchor="middle">250</text>
<text x="146.2" y="532.4" font-size="9.5" text-anchor="middle">500</text>
<text x="195.6" y="532.4" font-size="9.5" text-anchor="middle">750</text>
<text x="244.8" y="532.4" font-size="9.5" text-anchor="middle">1,000</text>
<text x="247.5" y="543.5" font-size="9.5">Miles</text>
<text x="314.9" y="11.8" font-size="10.68" text-anchor="middle">(a) Geographical spread of the study participants (N=13,527) in 23 provinces in China</text>
<text x="870.8" y="11.8" font-size="10.68" text-anchor="middle">(b) Annual peak daily air temperatures in China for the year 2008</text>
<text x="871.2" y="368.7" font-size="10.68" text-anchor="middle">(c) Annual peak daily air temperatures in China for the year 2018</text>
<g clip-path="url(#cb)">
<rect x="700" y="30" width="350" height="300" fill="#d2785a"/>
<g filter="url(#tb3)">
<polygon points="950,85 965,60 985,40 1010,55 1048,60 1048,110 1020,135 1000,150 985,160 975,150 960,110" fill="#d9916a"/>
<ellipse cx="982" cy="55" rx="14" ry="12" fill="#e2ad84"/>
<polyline points="975,50 972,70 968,95 962,115 952,128" fill="none" stroke="#e2ad84" stroke-width="8"/>
<ellipse cx="1038" cy="88" rx="7" ry="14" fill="#e2ad84"/>
<polygon points="872,133 930,120 960,95 975,100 950,128 900,142 872,145" fill="#d48060"/>
<polygon points="885,140 930,130 955,150 960,185 935,200 900,195 885,170" fill="#d8946e"/>
<polyline points="950,150 955,170 958,195" fill="none" stroke="#e2ad84" stroke-width="5" opacity="0.7"/>
<ellipse cx="928" cy="276" rx="42" ry="17" fill="#d98c68"/>
<ellipse cx="950" cy="252" rx="13" ry="11" fill="#c96a50"/>
<polygon points="845,258 870,248 888,252 900,268 898,290 880,297 860,300 845,290" fill="#e2b488"/>
<ellipse cx="864" cy="254" rx="14" ry="10" fill="#e0d8a2"/>
<ellipse cx="893" cy="231" rx="12" ry="14" fill="#c96550"/>
</g>
<g filter="url(#tb1)">
<polygon points="727.0,131.0 735.0,126.0 746.4,123.9 760.3,121.1 774.0,122.5 788.0,125.3 799.0,126.6 804.5,125.3 815.5,128.0 835.0,130.8 850.0,133.0 862.0,136.0 872.0,142.0 872.0,155.0 864.0,158.6 847.0,154.7 835.0,154.3 822.4,152.9 808.6,152.9 794.8,155.7 781.0,159.8 767.2,164.0 753.4,165.3 743.7,161.2 732.6,153.0 725.7,143.2" fill="#c6644b"/>
<polygon points="774.0,84.0 790.0,82.0 803.0,83.0 813.0,88.0 816.0,100.0 812.0,112.0 800.0,115.0 786.0,112.0 776.0,107.0 770.0,98.0" fill="#c9674c"/>
<polyline points="795,80 804,77 811,80 816,87 819,96 820,104" fill="none" stroke="#f1ecb4" stroke-width="3"/>
<polyline points="800,119 812,120 822,124 834,127" fill="none" stroke="#f1ecb4" stroke-width="2.5"/>
<polyline points="724,132 740,125 760,122 780,124 800,127" fill="none" stroke="#f1ecb4" stroke-width="1.8"/>
<polyline points="762,102 762,112 768,120" fill="none" stroke="#f1ecb4" stroke-width="2"/>
<polygon points="700.0,110.0 722.0,118.0 726.0,128.0 725.0,138.0 724.0,140.0 725.7,143.2 732.6,153.0 743.7,161.2 753.4,165.3 767.2,164.0 781.0,159.8 794.8,155.7 808.6,152.9 822.4,152.9 835.0,154.3 847.0,154.7 864.0,158.6 875.0,164.5 884.4,174.7 889.4,184.6 892.0,194.6 892.0,204.5 887.0,219.5 884.4,229.4 879.5,239.3 869.5,249.3 858.0,256.0 848.0,262.0 830.0,280.0 700.0,280.0" fill="#92a0c6"/>
</g><g filter="url(#tb3)">
<polygon points="757.0,104.0 768.0,103.0 782.0,108.0 796.0,115.0 800.0,123.0 786.0,121.0 772.0,119.0 758.0,118.0" fill="#c6cdbd"/>
<polygon points="716,138 735,152 755,166 780,163 800,160 812,164 800,172 775,177 750,180 730,178 720,165" fill="#7a8cc0"/>
</g>
<rect x="700" y="30" width="350" height="300" filter="url(#tex2)" opacity="0.2"/>
<g clip-path="url(#ctib)"><rect x="700" y="120" width="200" height="160" filter="url(#tex)" transform="rotate(18 800 200)"/></g>
<g clip-path="url(#ctib)"><ellipse cx="860" cy="212" rx="22" ry="32" fill="#dfe2b2" opacity="0.45" filter="url(#tb3)"/><ellipse cx="790" cy="232" rx="30" ry="10" fill="#dfe2b2" opacity="0.35" filter="url(#tb3)"/></g>
<g filter="url(#tb1)">
<polygon points="819.0,160.0 837.0,161.8 848.0,169.0 855.0,176.3 853.4,181.7 844.3,178.0 833.4,174.5 822.5,170.9 817.0,165.4" fill="#dd9c78" stroke="#f1ecb4" stroke-width="1.5"/>
<polyline points="724.0,140.0 725.7,143.2 732.6,153.0 743.7,161.2 753.4,165.3 767.2,164.0 781.0,159.8 794.8,155.7 808.6,152.9 822.4,152.9 835.0,154.3 847.0,154.7 864.0,158.6 875.0,164.5 884.4,174.7 889.4,184.6 892.0,194.6 892.0,204.5 887.0,219.5 884.4,229.4 879.5,239.3 869.5,249.3 858.0,256.0 848.0,262.0" fill="none" stroke="#f1ecb4" stroke-width="2.6"/>
</g><g filter="url(#tb3)">
<polyline points="876,168 884,185 887,200 883,220 877,238 866,252 852,262" fill="none" stroke="#dfe2b2" stroke-width="11" opacity="0.9"/>
<ellipse cx="819" cy="243" rx="11" ry="5" fill="#dd9c78" transform="rotate(-25 819 243)"/>
</g>
</g>
<g transform="matrix(1.01 0 0 1.008 -11.2 341.7)"><g clip-path="url(#cb)">
<rect x="700" y="30" width="350" height="300" fill="#d96f52"/>
<g filter="url(#tb3)">
<polygon points="950,85 965,60 985,40 1010,55 1048,60 1048,110 1020,135 1000,150 985,160 975,150 960,110" fill="#dd8260"/>
<ellipse cx="982" cy="55" rx="14" ry="12" fill="#e4a47e"/>
<polyline points="975,50 972,70 968,95 962,115 952,128" fill="none" stroke="#e4a47e" stroke-width="8"/>
<ellipse cx="1038" cy="88" rx="7" ry="14" fill="#e4a47e"/>
<polygon points="872,133 930,120 960,95 975,100 950,128 900,142 872,145" fill="#d87858"/>
<polygon points="885,140 930,130 955,150 960,185 935,200 900,195 885,170" fill="#db8a68"/>
<polyline points="950,150 955,170 958,195" fill="none" stroke="#e4a47e" stroke-width="5" opacity="0.7"/>
<ellipse cx="928" cy="276" rx="42" ry="17" fill="#dc7e5c"/>
<ellipse cx="950" cy="252" rx="13" ry="11" fill="#d05a42"/>
<polygon points="845,258 870,248 888,252 900,268 898,290 880,297 860,300 845,290" fill="#e29c72"/>
<ellipse cx="864" cy="254" rx="14" ry="10" fill="#e2dca2"/>
<ellipse cx="893" cy="231" rx="12" ry="14" fill="#cf5a44"/>
</g>
<g filter="url(#tb1)">
<polygon points="727.0,131.0 735.0,126.0 746.4,123.9 760.3,121.1 774.0,122.5 788.0,125.3 799.0,126.6 804.5,125.3 815.5,128.0 835.0,130.8 850.0,133.0 862.0,136.0 872.0,142.0 872.0,155.0 864.0,158.6 847.0,154.7 835.0,154.3 822.4,152.9 808.6,152.9 794.8,155.7 781.0,159.8 767.2,164.0 753.4,165.3 743.7,161.2 732.6,153.0 725.7,143.2" fill="#d45d45"/>
<polygon points="774.0,84.0 790.0,82.0 803.0,83.0 813.0,88.0 816.0,100.0 812.0,112.0 800.0,115.0 786.0,112.0 776.0,107.0 770.0,98.0" fill="#d46048"/>
<polyline points="795,80 804,77 811,80 816,87 819,96 820,104" fill="none" stroke="#f1ecb4" stroke-width="3"/>
<polyline points="800,119 812,120 822,124 834,127" fill="none" stroke="#f1ecb4" stroke-width="2.5"/>
<polyline points="724,132 740,125 760,122 780,124 800,127" fill="none" stroke="#f1ecb4" stroke-width="1.8"/>
<polyline points="762,102 762,112 768,120" fill="none" stroke="#f1ecb4" stroke-width="2"/>
<polygon points="700.0,110.0 722.0,118.0 726.0,128.0 725.0,138.0 724.0,140.0 725.7,143.2 732.6,153.0 743.7,161.2 753.4,165.3 767.2,164.0 781.0,159.8 794.8,155.7 808.6,152.9 822.4,152.9 835.0,154.3 847.0,154.7 864.0,158.6 875.0,164.5 884.4,174.7 889.4,184.6 892.0,194.6 892.0,204.5 887.0,219.5 884.4,229.4 879.5,239.3 869.5,249.3 858.0,256.0 848.0,262.0 830.0,280.0 700.0,280.0" fill="#b6c2bc"/>
</g><g filter="url(#tb3)">
<polygon points="757.0,104.0 768.0,103.0 782.0,108.0 796.0,115.0 800.0,123.0 786.0,121.0 772.0,119.0 758.0,118.0" fill="#cdd3bc"/>
<polygon points="716,138 735,152 755,166 780,163 800,160 812,164 800,172 775,177 750,180 730,178 720,165" fill="#90a5c2"/>
</g>
<rect x="700" y="30" width="350" height="300" filter="url(#tex2)" opacity="0.2"/>
<g clip-path="url(#ctib)"><rect x="700" y="120" width="200" height="160" filter="url(#tex)" transform="rotate(18 800 200)"/></g>
<g clip-path="url(#ctib)"><ellipse cx="860" cy="212" rx="22" ry="32" fill="#e4e6ae" opacity="0.45" filter="url(#tb3)"/><ellipse cx="790" cy="232" rx="30" ry="10" fill="#e4e6ae" opacity="0.35" filter="url(#tb3)"/></g>
<g filter="url(#tb1)">
<polygon points="819.0,160.0 837.0,161.8 848.0,169.0 855.0,176.3 853.4,181.7 844.3,178.0 833.4,174.5 822.5,170.9 817.0,165.4" fill="#e08c6c" stroke="#f1ecb4" stroke-width="1.5"/>
<polyline points="724.0,140.0 725.7,143.2 732.6,153.0 743.7,161.2 753.4,165.3 767.2,164.0 781.0,159.8 794.8,155.7 808.6,152.9 822.4,152.9 835.0,154.3 847.0,154.7 864.0,158.6 875.0,164.5 884.4,174.7 889.4,184.6 892.0,194.6 892.0,204.5 887.0,219.5 884.4,229.4 879.5,239.3 869.5,249.3 858.0,256.0 848.0,262.0" fill="none" stroke="#f1ecb4" stroke-width="2.6"/>
</g><g filter="url(#tb3)">
<polyline points="876,168 884,185 887,200 883,220 877,238 866,252 852,262" fill="none" stroke="#e4e6ae" stroke-width="11" opacity="0.9"/>
<ellipse cx="819" cy="243" rx="11" ry="5" fill="#e08c6c" transform="rotate(-25 819 243)"/>
</g>
</g></g>
<rect x="743" y="258.2" width="23.8" height="42.4" fill="url(#lg)"/>
<rect x="767.3" y="257.59999999999997" width="2.6" height="1.2" fill="#000"/>
<rect x="767.6" y="278.4" width="2" height="1.8" fill="#333"/>
<text x="778.0" y="263.3" font-size="10.5">High: 40 °C</text>
<text x="778.9" y="300.6" font-size="10.5">Low : -5 °C</text>
<rect x="719.2" y="604" width="23.8" height="42.4" fill="url(#lg)"/>
<rect x="743.5" y="603.4" width="2.6" height="1.2" fill="#000"/>
<rect x="743.8000000000001" y="624.2" width="2" height="1.8" fill="#333"/>
<text x="754.1" y="608.6" font-size="10.5">High: 40 °C</text>
<text x="755.0" y="645.8" font-size="10.5">Low : -5 °C</text>
</svg></body></html>
